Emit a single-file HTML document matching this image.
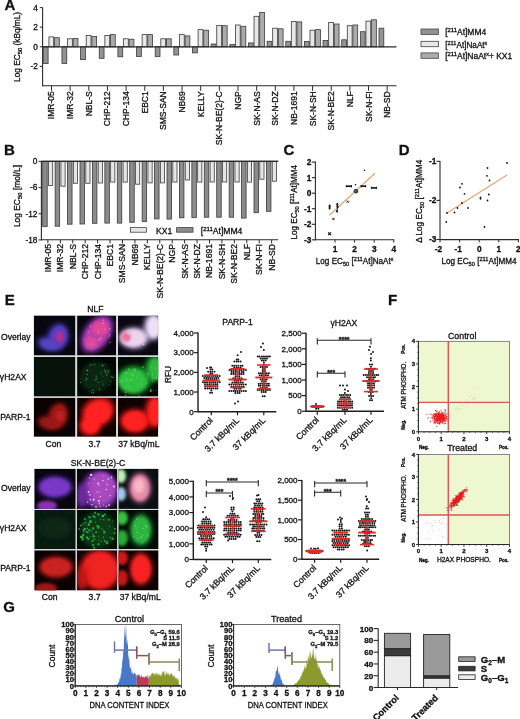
<!DOCTYPE html>
<html><head><meta charset="utf-8"><style>
html,body{margin:0;padding:0;background:#fff;width:520px;height:719px;overflow:hidden}
svg{display:block;font-family:"Liberation Sans", sans-serif;will-change:transform}
text{stroke:#111;stroke-width:0.3px}
</style></head><body>
<svg width="520" height="719" viewBox="0 0 520 719">
<defs><filter id="b1" x="-50%" y="-50%" width="200%" height="200%"><feGaussianBlur stdDeviation="1.6"/></filter><filter id="b2" x="-50%" y="-50%" width="200%" height="200%"><feGaussianBlur stdDeviation="2.8"/></filter><filter id="b0" x="-50%" y="-50%" width="200%" height="200%"><feGaussianBlur stdDeviation="0.6"/></filter><clipPath id="c1"><rect x="33.80" y="315.50" width="41.60" height="40.00"/></clipPath><clipPath id="c2"><rect x="77.10" y="315.50" width="39.10" height="40.00"/></clipPath><clipPath id="c3"><rect x="117.90" y="315.50" width="40.30" height="40.00"/></clipPath><clipPath id="c4"><rect x="33.80" y="357.00" width="41.60" height="39.60"/></clipPath><clipPath id="c5"><rect x="77.10" y="357.00" width="39.10" height="39.60"/></clipPath><clipPath id="c6"><rect x="117.90" y="357.00" width="40.30" height="39.60"/></clipPath><clipPath id="c7"><rect x="33.80" y="397.80" width="41.60" height="39.00"/></clipPath><clipPath id="c8"><rect x="77.10" y="397.80" width="39.10" height="39.00"/></clipPath><clipPath id="c9"><rect x="117.90" y="397.80" width="40.30" height="39.00"/></clipPath><clipPath id="c10"><rect x="34.30" y="468.80" width="41.40" height="40.10"/></clipPath><clipPath id="c11"><rect x="76.90" y="468.80" width="40.30" height="40.10"/></clipPath><clipPath id="c12"><rect x="118.40" y="468.80" width="40.10" height="40.10"/></clipPath><clipPath id="c13"><rect x="34.30" y="510.00" width="41.40" height="39.10"/></clipPath><clipPath id="c14"><rect x="76.90" y="510.00" width="40.30" height="39.10"/></clipPath><clipPath id="c15"><rect x="118.40" y="510.00" width="40.10" height="39.10"/></clipPath><clipPath id="c16"><rect x="34.30" y="550.30" width="41.40" height="40.10"/></clipPath><clipPath id="c17"><rect x="76.90" y="550.30" width="40.30" height="40.10"/></clipPath><clipPath id="c18"><rect x="118.40" y="550.30" width="40.10" height="40.10"/></clipPath></defs>
<rect width="520" height="719" fill="#fff"/>
<text x="4.60" y="10.00" font-size="15" text-anchor="start" font-weight="bold" fill="#111" >A</text>
<line x1="42.60" y1="7.40" x2="42.60" y2="86.20" stroke="#2a2a2a" stroke-width="1.1" />
<line x1="42.00" y1="85.80" x2="396.50" y2="85.80" stroke="#2a2a2a" stroke-width="1.1" />
<line x1="39.80" y1="7.60" x2="42.60" y2="7.60" stroke="#2a2a2a" stroke-width="1.0" />
<text x="37.80" y="10.50" font-size="8.3" text-anchor="end" font-weight="normal" fill="#111" >4</text>
<line x1="39.80" y1="27.20" x2="42.60" y2="27.20" stroke="#2a2a2a" stroke-width="1.0" />
<text x="37.80" y="30.10" font-size="8.3" text-anchor="end" font-weight="normal" fill="#111" >2</text>
<line x1="39.80" y1="46.80" x2="42.60" y2="46.80" stroke="#2a2a2a" stroke-width="1.0" />
<text x="37.80" y="49.70" font-size="8.3" text-anchor="end" font-weight="normal" fill="#111" >0</text>
<line x1="39.80" y1="66.40" x2="42.60" y2="66.40" stroke="#2a2a2a" stroke-width="1.0" />
<text x="37.80" y="69.30" font-size="8.3" text-anchor="end" font-weight="normal" fill="#111" >-2</text>
<text x="19.80" y="46.90" font-size="8.4" text-anchor="middle" font-weight="normal" fill="#111" transform="rotate(-90 19.80 46.90)"  textLength="70" lengthAdjust="spacingAndGlyphs">Log EC<tspan font-size="6" dy="2">50</tspan><tspan dy="-2"> (kBq/mL)</tspan></text>
<rect x="43.30" y="46.80" width="4.80" height="16.70" fill="#939393" stroke="#3a3a3a" stroke-width="0.8" />
<rect x="48.90" y="36.90" width="4.80" height="9.90" fill="#e8e8e8" stroke="#3a3a3a" stroke-width="0.8" />
<rect x="54.50" y="37.70" width="4.80" height="9.10" fill="#ababab" stroke="#3a3a3a" stroke-width="0.8" />
<line x1="51.50" y1="85.80" x2="51.50" y2="90.80" stroke="#2a2a2a" stroke-width="1.0" />
<text x="54.50" y="91.30" font-size="8.5" text-anchor="end" font-weight="normal" fill="#111" transform="rotate(-90 54.50 91.30)" >IMR-05</text>
<rect x="61.95" y="46.80" width="4.80" height="16.70" fill="#939393" stroke="#3a3a3a" stroke-width="0.8" />
<rect x="67.55" y="38.80" width="4.80" height="8.00" fill="#e8e8e8" stroke="#3a3a3a" stroke-width="0.8" />
<rect x="73.15" y="38.40" width="4.80" height="8.40" fill="#ababab" stroke="#3a3a3a" stroke-width="0.8" />
<line x1="70.15" y1="85.80" x2="70.15" y2="90.80" stroke="#2a2a2a" stroke-width="1.0" />
<text x="73.15" y="91.30" font-size="8.5" text-anchor="end" font-weight="normal" fill="#111" transform="rotate(-90 73.15 91.30)" >IMR-32</text>
<rect x="80.60" y="46.80" width="4.80" height="12.80" fill="#939393" stroke="#3a3a3a" stroke-width="0.8" />
<rect x="86.20" y="35.40" width="4.80" height="11.40" fill="#e8e8e8" stroke="#3a3a3a" stroke-width="0.8" />
<rect x="91.80" y="36.50" width="4.80" height="10.30" fill="#ababab" stroke="#3a3a3a" stroke-width="0.8" />
<line x1="88.80" y1="85.80" x2="88.80" y2="90.80" stroke="#2a2a2a" stroke-width="1.0" />
<text x="91.80" y="91.30" font-size="8.5" text-anchor="end" font-weight="normal" fill="#111" transform="rotate(-90 91.80 91.30)" >NBL-S</text>
<rect x="99.25" y="46.80" width="4.80" height="11.50" fill="#939393" stroke="#3a3a3a" stroke-width="0.8" />
<rect x="104.85" y="35.40" width="4.80" height="11.40" fill="#e8e8e8" stroke="#3a3a3a" stroke-width="0.8" />
<rect x="110.45" y="34.60" width="4.80" height="12.20" fill="#ababab" stroke="#3a3a3a" stroke-width="0.8" />
<line x1="107.45" y1="85.80" x2="107.45" y2="90.80" stroke="#2a2a2a" stroke-width="1.0" />
<text x="110.45" y="91.30" font-size="8.5" text-anchor="end" font-weight="normal" fill="#111" transform="rotate(-90 110.45 91.30)" >CHP-212</text>
<rect x="117.90" y="46.80" width="4.80" height="10.00" fill="#939393" stroke="#3a3a3a" stroke-width="0.8" />
<rect x="123.50" y="38.80" width="4.80" height="8.00" fill="#e8e8e8" stroke="#3a3a3a" stroke-width="0.8" />
<rect x="129.10" y="39.20" width="4.80" height="7.60" fill="#ababab" stroke="#3a3a3a" stroke-width="0.8" />
<line x1="126.10" y1="85.80" x2="126.10" y2="90.80" stroke="#2a2a2a" stroke-width="1.0" />
<text x="129.10" y="91.30" font-size="8.5" text-anchor="end" font-weight="normal" fill="#111" transform="rotate(-90 129.10 91.30)" >CHP-134</text>
<rect x="136.55" y="46.80" width="4.80" height="9.60" fill="#939393" stroke="#3a3a3a" stroke-width="0.8" />
<rect x="142.15" y="34.60" width="4.80" height="12.20" fill="#e8e8e8" stroke="#3a3a3a" stroke-width="0.8" />
<rect x="147.75" y="34.60" width="4.80" height="12.20" fill="#ababab" stroke="#3a3a3a" stroke-width="0.8" />
<line x1="144.75" y1="85.80" x2="144.75" y2="90.80" stroke="#2a2a2a" stroke-width="1.0" />
<text x="147.75" y="91.30" font-size="8.5" text-anchor="end" font-weight="normal" fill="#111" transform="rotate(-90 147.75 91.30)" >EBC1</text>
<rect x="155.20" y="46.80" width="4.80" height="9.60" fill="#939393" stroke="#3a3a3a" stroke-width="0.8" />
<rect x="160.80" y="38.80" width="4.80" height="8.00" fill="#e8e8e8" stroke="#3a3a3a" stroke-width="0.8" />
<rect x="166.40" y="38.80" width="4.80" height="8.00" fill="#ababab" stroke="#3a3a3a" stroke-width="0.8" />
<line x1="163.40" y1="85.80" x2="163.40" y2="90.80" stroke="#2a2a2a" stroke-width="1.0" />
<text x="166.40" y="91.30" font-size="8.5" text-anchor="end" font-weight="normal" fill="#111" transform="rotate(-90 166.40 91.30)" >SMS-SAN</text>
<rect x="173.85" y="46.80" width="4.80" height="8.20" fill="#939393" stroke="#3a3a3a" stroke-width="0.8" />
<rect x="179.45" y="34.60" width="4.80" height="12.20" fill="#e8e8e8" stroke="#3a3a3a" stroke-width="0.8" />
<rect x="185.05" y="35.90" width="4.80" height="10.90" fill="#ababab" stroke="#3a3a3a" stroke-width="0.8" />
<line x1="182.05" y1="85.80" x2="182.05" y2="90.80" stroke="#2a2a2a" stroke-width="1.0" />
<text x="185.05" y="91.30" font-size="8.5" text-anchor="end" font-weight="normal" fill="#111" transform="rotate(-90 185.05 91.30)" >NB69</text>
<rect x="192.50" y="46.80" width="4.80" height="6.10" fill="#939393" stroke="#3a3a3a" stroke-width="0.8" />
<rect x="198.10" y="29.60" width="4.80" height="17.20" fill="#e8e8e8" stroke="#3a3a3a" stroke-width="0.8" />
<rect x="203.70" y="30.20" width="4.80" height="16.60" fill="#ababab" stroke="#3a3a3a" stroke-width="0.8" />
<line x1="200.70" y1="85.80" x2="200.70" y2="90.80" stroke="#2a2a2a" stroke-width="1.0" />
<text x="203.70" y="91.30" font-size="8.5" text-anchor="end" font-weight="normal" fill="#111" transform="rotate(-90 203.70 91.30)" >KELLY</text>
<rect x="211.15" y="44.00" width="4.80" height="2.80" fill="#939393" stroke="#3a3a3a" stroke-width="0.8" />
<rect x="216.75" y="25.40" width="4.80" height="21.40" fill="#e8e8e8" stroke="#3a3a3a" stroke-width="0.8" />
<rect x="222.35" y="25.70" width="4.80" height="21.10" fill="#ababab" stroke="#3a3a3a" stroke-width="0.8" />
<line x1="219.35" y1="85.80" x2="219.35" y2="90.80" stroke="#2a2a2a" stroke-width="1.0" />
<text x="222.35" y="91.30" font-size="8.5" text-anchor="end" font-weight="normal" fill="#111" transform="rotate(-90 222.35 91.30)" >SK-N-BE(2)-C</text>
<rect x="229.80" y="44.60" width="4.80" height="2.20" fill="#939393" stroke="#3a3a3a" stroke-width="0.8" />
<rect x="235.40" y="25.00" width="4.80" height="21.80" fill="#e8e8e8" stroke="#3a3a3a" stroke-width="0.8" />
<rect x="241.00" y="26.30" width="4.80" height="20.50" fill="#ababab" stroke="#3a3a3a" stroke-width="0.8" />
<line x1="238.00" y1="85.80" x2="238.00" y2="90.80" stroke="#2a2a2a" stroke-width="1.0" />
<text x="241.00" y="91.30" font-size="8.5" text-anchor="end" font-weight="normal" fill="#111" transform="rotate(-90 241.00 91.30)" >NGP</text>
<rect x="248.45" y="42.90" width="4.80" height="3.90" fill="#939393" stroke="#3a3a3a" stroke-width="0.8" />
<rect x="254.05" y="16.30" width="4.80" height="30.50" fill="#e8e8e8" stroke="#3a3a3a" stroke-width="0.8" />
<rect x="259.65" y="12.50" width="4.80" height="34.30" fill="#ababab" stroke="#3a3a3a" stroke-width="0.8" />
<line x1="256.65" y1="85.80" x2="256.65" y2="90.80" stroke="#2a2a2a" stroke-width="1.0" />
<text x="259.65" y="91.30" font-size="8.5" text-anchor="end" font-weight="normal" fill="#111" transform="rotate(-90 259.65 91.30)" >SK-N-AS</text>
<rect x="267.10" y="41.30" width="4.80" height="5.50" fill="#939393" stroke="#3a3a3a" stroke-width="0.8" />
<rect x="272.70" y="28.20" width="4.80" height="18.60" fill="#e8e8e8" stroke="#3a3a3a" stroke-width="0.8" />
<rect x="278.30" y="28.80" width="4.80" height="18.00" fill="#ababab" stroke="#3a3a3a" stroke-width="0.8" />
<line x1="275.30" y1="85.80" x2="275.30" y2="90.80" stroke="#2a2a2a" stroke-width="1.0" />
<text x="278.30" y="91.30" font-size="8.5" text-anchor="end" font-weight="normal" fill="#111" transform="rotate(-90 278.30 91.30)" >SK-N-DZ</text>
<rect x="285.75" y="41.30" width="4.80" height="5.50" fill="#939393" stroke="#3a3a3a" stroke-width="0.8" />
<rect x="291.35" y="21.50" width="4.80" height="25.30" fill="#e8e8e8" stroke="#3a3a3a" stroke-width="0.8" />
<rect x="296.95" y="21.90" width="4.80" height="24.90" fill="#ababab" stroke="#3a3a3a" stroke-width="0.8" />
<line x1="293.95" y1="85.80" x2="293.95" y2="90.80" stroke="#2a2a2a" stroke-width="1.0" />
<text x="296.95" y="91.30" font-size="8.5" text-anchor="end" font-weight="normal" fill="#111" transform="rotate(-90 296.95 91.30)" >NB-1691</text>
<rect x="304.40" y="41.40" width="4.80" height="5.40" fill="#939393" stroke="#3a3a3a" stroke-width="0.8" />
<rect x="310.00" y="30.20" width="4.80" height="16.60" fill="#e8e8e8" stroke="#3a3a3a" stroke-width="0.8" />
<rect x="315.60" y="29.60" width="4.80" height="17.20" fill="#ababab" stroke="#3a3a3a" stroke-width="0.8" />
<line x1="312.60" y1="85.80" x2="312.60" y2="90.80" stroke="#2a2a2a" stroke-width="1.0" />
<text x="315.60" y="91.30" font-size="8.5" text-anchor="end" font-weight="normal" fill="#111" transform="rotate(-90 315.60 91.30)" >SK-N-SH</text>
<rect x="323.05" y="40.40" width="4.80" height="6.40" fill="#939393" stroke="#3a3a3a" stroke-width="0.8" />
<rect x="328.65" y="22.40" width="4.80" height="24.40" fill="#e8e8e8" stroke="#3a3a3a" stroke-width="0.8" />
<rect x="334.25" y="24.00" width="4.80" height="22.80" fill="#ababab" stroke="#3a3a3a" stroke-width="0.8" />
<line x1="331.25" y1="85.80" x2="331.25" y2="90.80" stroke="#2a2a2a" stroke-width="1.0" />
<text x="334.25" y="91.30" font-size="8.5" text-anchor="end" font-weight="normal" fill="#111" transform="rotate(-90 334.25 91.30)" >SK-N-BE2</text>
<rect x="341.70" y="39.80" width="4.80" height="7.00" fill="#939393" stroke="#3a3a3a" stroke-width="0.8" />
<rect x="347.30" y="25.70" width="4.80" height="21.10" fill="#e8e8e8" stroke="#3a3a3a" stroke-width="0.8" />
<rect x="352.90" y="25.00" width="4.80" height="21.80" fill="#ababab" stroke="#3a3a3a" stroke-width="0.8" />
<line x1="349.90" y1="85.80" x2="349.90" y2="90.80" stroke="#2a2a2a" stroke-width="1.0" />
<text x="352.90" y="91.30" font-size="8.5" text-anchor="end" font-weight="normal" fill="#111" transform="rotate(-90 352.90 91.30)" >NLF</text>
<rect x="360.35" y="31.70" width="4.80" height="15.10" fill="#939393" stroke="#3a3a3a" stroke-width="0.8" />
<rect x="365.95" y="21.10" width="4.80" height="25.70" fill="#e8e8e8" stroke="#3a3a3a" stroke-width="0.8" />
<rect x="371.55" y="19.80" width="4.80" height="27.00" fill="#ababab" stroke="#3a3a3a" stroke-width="0.8" />
<line x1="368.55" y1="85.80" x2="368.55" y2="90.80" stroke="#2a2a2a" stroke-width="1.0" />
<text x="371.55" y="91.30" font-size="8.5" text-anchor="end" font-weight="normal" fill="#111" transform="rotate(-90 371.55 91.30)" >SK-N-FI</text>
<rect x="379.00" y="28.20" width="4.80" height="18.60" fill="#939393" stroke="#3a3a3a" stroke-width="0.8" />
<line x1="387.20" y1="85.80" x2="387.20" y2="90.80" stroke="#2a2a2a" stroke-width="1.0" />
<text x="390.20" y="91.30" font-size="8.5" text-anchor="end" font-weight="normal" fill="#111" transform="rotate(-90 390.20 91.30)" >NB-SD</text>
<line x1="42.60" y1="46.80" x2="396.50" y2="46.80" stroke="#2a2a2a" stroke-width="1.3" />
<rect x="421.00" y="29.00" width="17.40" height="5.40" fill="#939393" stroke="#444" stroke-width="0.8" />
<text x="445.20" y="35.30" font-size="8.6" text-anchor="start" font-weight="normal" fill="#111"  textLength="41" lengthAdjust="spacingAndGlyphs">[<tspan font-size="6" dy="-3">211</tspan><tspan dy="3">At]MM4</tspan></text>
<rect x="421.00" y="41.30" width="17.40" height="5.40" fill="#e8e8e8" stroke="#444" stroke-width="0.8" />
<text x="445.20" y="47.60" font-size="8.6" text-anchor="start" font-weight="normal" fill="#111"  textLength="42" lengthAdjust="spacingAndGlyphs">[<tspan font-size="6" dy="-3">211</tspan><tspan dy="3">At]NaAt</tspan><tspan font-size="5.5" dy="-3">x</tspan></text>
<rect x="421.00" y="52.90" width="17.40" height="5.40" fill="#ababab" stroke="#444" stroke-width="0.8" />
<text x="445.20" y="59.20" font-size="8.6" text-anchor="start" font-weight="normal" fill="#111"  textLength="67" lengthAdjust="spacingAndGlyphs">[<tspan font-size="6" dy="-3">211</tspan><tspan dy="3">At]NaAt</tspan><tspan font-size="5.5" dy="-3">x</tspan><tspan dy="3">+ KX1</tspan></text>
<text x="4.00" y="154.80" font-size="15" text-anchor="start" font-weight="bold" fill="#111" >B</text>
<line x1="41.40" y1="161.00" x2="41.40" y2="240.20" stroke="#2a2a2a" stroke-width="1.1" />
<line x1="41.40" y1="161.40" x2="278.20" y2="161.40" stroke="#2a2a2a" stroke-width="1.2" />
<line x1="41.00" y1="239.80" x2="278.20" y2="239.80" stroke="#2a2a2a" stroke-width="1.1" />
<line x1="38.60" y1="161.40" x2="41.40" y2="161.40" stroke="#2a2a2a" stroke-width="1.0" />
<text x="37.40" y="164.30" font-size="8.3" text-anchor="end" font-weight="normal" fill="#111" >0</text>
<line x1="38.60" y1="187.57" x2="41.40" y2="187.57" stroke="#2a2a2a" stroke-width="1.0" />
<text x="37.40" y="190.47" font-size="8.3" text-anchor="end" font-weight="normal" fill="#111" >-6</text>
<line x1="38.60" y1="213.73" x2="41.40" y2="213.73" stroke="#2a2a2a" stroke-width="1.0" />
<text x="37.40" y="216.63" font-size="8.3" text-anchor="end" font-weight="normal" fill="#111" >-12</text>
<line x1="38.60" y1="239.90" x2="41.40" y2="239.90" stroke="#2a2a2a" stroke-width="1.0" />
<text x="37.40" y="242.80" font-size="8.3" text-anchor="end" font-weight="normal" fill="#111" >-18</text>
<text x="20.30" y="196.00" font-size="8.4" text-anchor="middle" font-weight="normal" fill="#111" transform="rotate(-90 20.30 196.00)" >Log EC<tspan font-size="6" dy="2">50</tspan><tspan dy="-2"> [mol/L]</tspan></text>
<rect x="42.70" y="161.40" width="4.50" height="65.10" fill="#8c8c8c" stroke="#3a3a3a" stroke-width="0.8" />
<rect x="48.50" y="161.40" width="4.20" height="24.20" fill="#e6e6e6" stroke="#3a3a3a" stroke-width="0.8" />
<line x1="47.90" y1="239.80" x2="47.90" y2="243.40" stroke="#2a2a2a" stroke-width="1.0" />
<text x="50.90" y="244.00" font-size="8.6" text-anchor="end" font-weight="normal" fill="#111" transform="rotate(-90 50.90 244.00)" >IMR-05</text>
<rect x="55.13" y="161.40" width="4.50" height="64.80" fill="#8c8c8c" stroke="#3a3a3a" stroke-width="0.8" />
<rect x="60.93" y="161.40" width="4.20" height="24.80" fill="#e6e6e6" stroke="#3a3a3a" stroke-width="0.8" />
<line x1="60.33" y1="239.80" x2="60.33" y2="243.40" stroke="#2a2a2a" stroke-width="1.0" />
<text x="63.33" y="244.00" font-size="8.6" text-anchor="end" font-weight="normal" fill="#111" transform="rotate(-90 63.33 244.00)" >IMR-32</text>
<rect x="67.56" y="161.40" width="4.50" height="62.80" fill="#8c8c8c" stroke="#3a3a3a" stroke-width="0.8" />
<rect x="73.36" y="161.40" width="4.20" height="21.90" fill="#e6e6e6" stroke="#3a3a3a" stroke-width="0.8" />
<line x1="72.76" y1="239.80" x2="72.76" y2="243.40" stroke="#2a2a2a" stroke-width="1.0" />
<text x="75.76" y="244.00" font-size="8.6" text-anchor="end" font-weight="normal" fill="#111" transform="rotate(-90 75.76 244.00)" >NBL-S</text>
<rect x="79.99" y="161.40" width="4.50" height="62.60" fill="#8c8c8c" stroke="#3a3a3a" stroke-width="0.8" />
<rect x="85.79" y="161.40" width="4.20" height="21.90" fill="#e6e6e6" stroke="#3a3a3a" stroke-width="0.8" />
<line x1="85.19" y1="239.80" x2="85.19" y2="243.40" stroke="#2a2a2a" stroke-width="1.0" />
<text x="88.19" y="244.00" font-size="8.6" text-anchor="end" font-weight="normal" fill="#111" transform="rotate(-90 88.19 244.00)" >CHP-212</text>
<rect x="92.42" y="161.40" width="4.50" height="61.90" fill="#8c8c8c" stroke="#3a3a3a" stroke-width="0.8" />
<rect x="98.22" y="161.40" width="4.20" height="21.60" fill="#e6e6e6" stroke="#3a3a3a" stroke-width="0.8" />
<line x1="97.62" y1="239.80" x2="97.62" y2="243.40" stroke="#2a2a2a" stroke-width="1.0" />
<text x="100.62" y="244.00" font-size="8.6" text-anchor="end" font-weight="normal" fill="#111" transform="rotate(-90 100.62 244.00)" >CHP-134</text>
<rect x="104.85" y="161.40" width="4.50" height="61.70" fill="#8c8c8c" stroke="#3a3a3a" stroke-width="0.8" />
<rect x="110.65" y="161.40" width="4.20" height="20.70" fill="#e6e6e6" stroke="#3a3a3a" stroke-width="0.8" />
<line x1="110.05" y1="239.80" x2="110.05" y2="243.40" stroke="#2a2a2a" stroke-width="1.0" />
<text x="113.05" y="244.00" font-size="8.6" text-anchor="end" font-weight="normal" fill="#111" transform="rotate(-90 113.05 244.00)" >EBC1</text>
<rect x="117.28" y="161.40" width="4.50" height="61.70" fill="#8c8c8c" stroke="#3a3a3a" stroke-width="0.8" />
<rect x="123.08" y="161.40" width="4.20" height="20.70" fill="#e6e6e6" stroke="#3a3a3a" stroke-width="0.8" />
<line x1="122.48" y1="239.80" x2="122.48" y2="243.40" stroke="#2a2a2a" stroke-width="1.0" />
<text x="125.48" y="244.00" font-size="8.6" text-anchor="end" font-weight="normal" fill="#111" transform="rotate(-90 125.48 244.00)" >SMS-SAN</text>
<rect x="129.71" y="161.40" width="4.50" height="60.90" fill="#8c8c8c" stroke="#3a3a3a" stroke-width="0.8" />
<rect x="135.51" y="161.40" width="4.20" height="22.80" fill="#e6e6e6" stroke="#3a3a3a" stroke-width="0.8" />
<line x1="134.91" y1="239.80" x2="134.91" y2="243.40" stroke="#2a2a2a" stroke-width="1.0" />
<text x="137.91" y="244.00" font-size="8.6" text-anchor="end" font-weight="normal" fill="#111" transform="rotate(-90 137.91 244.00)" >NB69</text>
<rect x="142.14" y="161.40" width="4.50" height="60.20" fill="#8c8c8c" stroke="#3a3a3a" stroke-width="0.8" />
<rect x="147.94" y="161.40" width="4.20" height="21.50" fill="#e6e6e6" stroke="#3a3a3a" stroke-width="0.8" />
<line x1="147.34" y1="239.80" x2="147.34" y2="243.40" stroke="#2a2a2a" stroke-width="1.0" />
<text x="150.34" y="244.00" font-size="8.6" text-anchor="end" font-weight="normal" fill="#111" transform="rotate(-90 150.34 244.00)" >KELLY</text>
<rect x="154.57" y="161.40" width="4.50" height="57.50" fill="#8c8c8c" stroke="#3a3a3a" stroke-width="0.8" />
<rect x="160.37" y="161.40" width="4.20" height="21.50" fill="#e6e6e6" stroke="#3a3a3a" stroke-width="0.8" />
<line x1="159.77" y1="239.80" x2="159.77" y2="243.40" stroke="#2a2a2a" stroke-width="1.0" />
<text x="162.77" y="244.00" font-size="8.6" text-anchor="end" font-weight="normal" fill="#111" transform="rotate(-90 162.77 244.00)" >SK-N-BE(2)-C</text>
<rect x="167.00" y="161.40" width="4.50" height="57.70" fill="#8c8c8c" stroke="#3a3a3a" stroke-width="0.8" />
<rect x="172.80" y="161.40" width="4.20" height="20.70" fill="#e6e6e6" stroke="#3a3a3a" stroke-width="0.8" />
<line x1="172.20" y1="239.80" x2="172.20" y2="243.40" stroke="#2a2a2a" stroke-width="1.0" />
<text x="175.20" y="244.00" font-size="8.6" text-anchor="end" font-weight="normal" fill="#111" transform="rotate(-90 175.20 244.00)" >NGP</text>
<rect x="179.43" y="161.40" width="4.50" height="56.40" fill="#8c8c8c" stroke="#3a3a3a" stroke-width="0.8" />
<rect x="185.23" y="161.40" width="4.20" height="18.60" fill="#e6e6e6" stroke="#3a3a3a" stroke-width="0.8" />
<line x1="184.63" y1="239.80" x2="184.63" y2="243.40" stroke="#2a2a2a" stroke-width="1.0" />
<text x="187.63" y="244.00" font-size="8.6" text-anchor="end" font-weight="normal" fill="#111" transform="rotate(-90 187.63 244.00)" >SK-N-AS</text>
<rect x="191.86" y="161.40" width="4.50" height="56.20" fill="#8c8c8c" stroke="#3a3a3a" stroke-width="0.8" />
<rect x="197.66" y="161.40" width="4.20" height="20.70" fill="#e6e6e6" stroke="#3a3a3a" stroke-width="0.8" />
<line x1="197.06" y1="239.80" x2="197.06" y2="243.40" stroke="#2a2a2a" stroke-width="1.0" />
<text x="200.06" y="244.00" font-size="8.6" text-anchor="end" font-weight="normal" fill="#111" transform="rotate(-90 200.06 244.00)" >SK-N-DZ</text>
<rect x="204.29" y="161.40" width="4.50" height="55.80" fill="#8c8c8c" stroke="#3a3a3a" stroke-width="0.8" />
<rect x="210.09" y="161.40" width="4.20" height="20.60" fill="#e6e6e6" stroke="#3a3a3a" stroke-width="0.8" />
<line x1="209.49" y1="239.80" x2="209.49" y2="243.40" stroke="#2a2a2a" stroke-width="1.0" />
<text x="212.49" y="244.00" font-size="8.6" text-anchor="end" font-weight="normal" fill="#111" transform="rotate(-90 212.49 244.00)" >NB-1691</text>
<rect x="216.72" y="161.40" width="4.50" height="55.80" fill="#8c8c8c" stroke="#3a3a3a" stroke-width="0.8" />
<rect x="222.52" y="161.40" width="4.20" height="20.60" fill="#e6e6e6" stroke="#3a3a3a" stroke-width="0.8" />
<line x1="221.92" y1="239.80" x2="221.92" y2="243.40" stroke="#2a2a2a" stroke-width="1.0" />
<text x="224.92" y="244.00" font-size="8.6" text-anchor="end" font-weight="normal" fill="#111" transform="rotate(-90 224.92 244.00)" >SK-N-SH</text>
<rect x="229.15" y="161.40" width="4.50" height="55.80" fill="#8c8c8c" stroke="#3a3a3a" stroke-width="0.8" />
<rect x="234.95" y="161.40" width="4.20" height="20.60" fill="#e6e6e6" stroke="#3a3a3a" stroke-width="0.8" />
<line x1="234.35" y1="239.80" x2="234.35" y2="243.40" stroke="#2a2a2a" stroke-width="1.0" />
<text x="237.35" y="244.00" font-size="8.6" text-anchor="end" font-weight="normal" fill="#111" transform="rotate(-90 237.35 244.00)" >SK-N-BE2</text>
<rect x="241.58" y="161.40" width="4.50" height="56.70" fill="#8c8c8c" stroke="#3a3a3a" stroke-width="0.8" />
<rect x="247.38" y="161.40" width="4.20" height="20.70" fill="#e6e6e6" stroke="#3a3a3a" stroke-width="0.8" />
<line x1="246.78" y1="239.80" x2="246.78" y2="243.40" stroke="#2a2a2a" stroke-width="1.0" />
<text x="249.78" y="244.00" font-size="8.6" text-anchor="end" font-weight="normal" fill="#111" transform="rotate(-90 249.78 244.00)" >NLF</text>
<rect x="254.01" y="161.40" width="4.50" height="51.30" fill="#8c8c8c" stroke="#3a3a3a" stroke-width="0.8" />
<rect x="259.81" y="161.40" width="4.20" height="17.80" fill="#e6e6e6" stroke="#3a3a3a" stroke-width="0.8" />
<line x1="259.21" y1="239.80" x2="259.21" y2="243.40" stroke="#2a2a2a" stroke-width="1.0" />
<text x="262.21" y="244.00" font-size="8.6" text-anchor="end" font-weight="normal" fill="#111" transform="rotate(-90 262.21 244.00)" >SK-N-FI</text>
<rect x="266.44" y="161.40" width="4.50" height="49.90" fill="#8c8c8c" stroke="#3a3a3a" stroke-width="0.8" />
<rect x="272.24" y="161.40" width="4.20" height="19.80" fill="#e6e6e6" stroke="#3a3a3a" stroke-width="0.8" />
<line x1="271.64" y1="239.80" x2="271.64" y2="243.40" stroke="#2a2a2a" stroke-width="1.0" />
<text x="274.64" y="244.00" font-size="8.6" text-anchor="end" font-weight="normal" fill="#111" transform="rotate(-90 274.64 244.00)" >NB-SD</text>
<line x1="41.40" y1="161.40" x2="278.20" y2="161.40" stroke="#2a2a2a" stroke-width="1.2" />
<rect x="130.50" y="227.60" width="16.00" height="4.60" fill="#e6e6e6" stroke="#444" stroke-width="0.8" />
<text x="156.00" y="233.60" font-size="8.6" text-anchor="start" font-weight="normal" fill="#111" >KX1</text>
<rect x="176.60" y="227.60" width="16.40" height="4.60" fill="#8c8c8c" stroke="#444" stroke-width="0.8" />
<text x="200.80" y="233.60" font-size="8.6" text-anchor="start" font-weight="normal" fill="#111" >[<tspan font-size="6" dy="-3">211</tspan><tspan dy="3">At]MM4</tspan></text>
<text x="283.60" y="154.80" font-size="15" text-anchor="start" font-weight="bold" fill="#111" >C</text>
<line x1="315.40" y1="161.50" x2="315.40" y2="240.20" stroke="#2a2a2a" stroke-width="1.1" />
<line x1="314.90" y1="239.80" x2="394.20" y2="239.80" stroke="#2a2a2a" stroke-width="1.1" />
<line x1="311.80" y1="162.10" x2="315.40" y2="162.10" stroke="#2a2a2a" stroke-width="1.1" />
<text x="311.40" y="165.00" font-size="8.3" text-anchor="end" font-weight="bold" fill="#111" >2</text>
<line x1="311.80" y1="177.65" x2="315.40" y2="177.65" stroke="#2a2a2a" stroke-width="1.1" />
<text x="311.40" y="180.55" font-size="8.3" text-anchor="end" font-weight="bold" fill="#111" >1</text>
<line x1="311.80" y1="193.20" x2="315.40" y2="193.20" stroke="#2a2a2a" stroke-width="1.1" />
<text x="311.40" y="196.10" font-size="8.3" text-anchor="end" font-weight="bold" fill="#111" >0</text>
<line x1="311.80" y1="208.75" x2="315.40" y2="208.75" stroke="#2a2a2a" stroke-width="1.1" />
<text x="311.40" y="211.65" font-size="8.3" text-anchor="end" font-weight="bold" fill="#111" >-1</text>
<line x1="311.80" y1="224.30" x2="315.40" y2="224.30" stroke="#2a2a2a" stroke-width="1.1" />
<text x="311.40" y="227.20" font-size="8.3" text-anchor="end" font-weight="bold" fill="#111" >-2</text>
<line x1="311.80" y1="239.85" x2="315.40" y2="239.85" stroke="#2a2a2a" stroke-width="1.1" />
<text x="311.40" y="242.75" font-size="8.3" text-anchor="end" font-weight="bold" fill="#111" >-3</text>
<line x1="335.00" y1="239.80" x2="335.00" y2="242.60" stroke="#2a2a2a" stroke-width="1.0" />
<text x="335.00" y="251.80" font-size="8.3" text-anchor="middle" font-weight="bold" fill="#111" >1</text>
<line x1="354.60" y1="239.80" x2="354.60" y2="242.60" stroke="#2a2a2a" stroke-width="1.0" />
<text x="354.60" y="251.80" font-size="8.3" text-anchor="middle" font-weight="bold" fill="#111" >2</text>
<line x1="374.20" y1="239.80" x2="374.20" y2="242.60" stroke="#2a2a2a" stroke-width="1.0" />
<text x="374.20" y="251.80" font-size="8.3" text-anchor="middle" font-weight="bold" fill="#111" >3</text>
<line x1="393.80" y1="239.80" x2="393.80" y2="242.60" stroke="#2a2a2a" stroke-width="1.0" />
<text x="393.80" y="251.80" font-size="8.3" text-anchor="middle" font-weight="bold" fill="#111" >4</text>
<text x="354.60" y="263.60" font-size="8.6" text-anchor="middle" font-weight="normal" fill="#111"  textLength="77.5" lengthAdjust="spacingAndGlyphs">Log EC<tspan font-size="6" dy="2">50</tspan><tspan dy="-2"> [</tspan><tspan font-size="6" dy="-3">211</tspan><tspan dy="3">At]NaAt</tspan><tspan font-size="5.5" dy="-3">x</tspan></text>
<text x="296.80" y="202.20" font-size="8.6" text-anchor="middle" font-weight="normal" fill="#111" transform="rotate(-90 296.80 202.20)"  textLength="74.5" lengthAdjust="spacingAndGlyphs">Log EC<tspan font-size="6" dy="2">50</tspan><tspan dy="-2"> [</tspan><tspan font-size="6" dy="-3">211</tspan><tspan dy="3">At]MM4</tspan></text>
<line x1="329.40" y1="215.20" x2="374.90" y2="173.20" stroke="#e9a877" stroke-width="1.3" />
<line x1="332.30" y1="217.90" x2="334.50" y2="220.10" stroke="#111" stroke-width="0.9" />
<line x1="332.30" y1="220.10" x2="334.50" y2="217.90" stroke="#111" stroke-width="0.9" />
<line x1="346.60" y1="200.60" x2="348.80" y2="202.80" stroke="#111" stroke-width="0.9" />
<line x1="346.60" y1="202.80" x2="348.80" y2="200.60" stroke="#111" stroke-width="0.9" />
<circle cx="355.5" cy="184.8" r="0.8" fill="#111"/>
<circle cx="364.5" cy="170.2" r="0.8" fill="#111"/>
<line x1="329.60" y1="204.60" x2="329.60" y2="209.40" stroke="#111" stroke-width="1.1" />
<circle cx="329.6" cy="206.0" r="1.1" fill="#111"/>
<circle cx="329.6" cy="208.0" r="1.1" fill="#111"/>
<line x1="337.30" y1="202.80" x2="337.30" y2="212.60" stroke="#111" stroke-width="0.9" />
<circle cx="337.3" cy="204.3" r="1.0" fill="#111"/>
<circle cx="336.8" cy="211.2" r="1.0" fill="#111"/>
<circle cx="337.7" cy="207.0" r="1.0" fill="#111"/>
<line x1="336.30" y1="204.60" x2="338.30" y2="206.60" stroke="#111" stroke-width="0.8" />
<line x1="336.30" y1="206.60" x2="338.30" y2="204.60" stroke="#111" stroke-width="0.8" />
<line x1="328.20" y1="232.30" x2="331.00" y2="235.10" stroke="#111" stroke-width="1.2" />
<line x1="328.20" y1="235.10" x2="331.00" y2="232.30" stroke="#111" stroke-width="1.2" />
<line x1="346.30" y1="186.20" x2="351.50" y2="186.20" stroke="#111" stroke-width="1.6" />
<line x1="346.30" y1="185.00" x2="346.30" y2="187.40" stroke="#111" stroke-width="0.9" />
<line x1="351.50" y1="185.00" x2="351.50" y2="187.40" stroke="#111" stroke-width="0.9" />
<line x1="361.00" y1="186.20" x2="365.70" y2="186.20" stroke="#111" stroke-width="1.6" />
<line x1="361.00" y1="185.00" x2="361.00" y2="187.40" stroke="#111" stroke-width="0.9" />
<line x1="365.70" y1="185.00" x2="365.70" y2="187.40" stroke="#111" stroke-width="0.9" />
<line x1="371.40" y1="187.90" x2="376.60" y2="187.90" stroke="#111" stroke-width="1.6" />
<line x1="371.40" y1="186.70" x2="371.40" y2="189.10" stroke="#111" stroke-width="0.9" />
<line x1="376.60" y1="186.70" x2="376.60" y2="189.10" stroke="#111" stroke-width="0.9" />
<circle cx="355.9" cy="191.2" r="1.9" fill="#555" stroke="#222" stroke-width="0.9"/>
<text x="398.80" y="154.80" font-size="15" text-anchor="start" font-weight="bold" fill="#111" >D</text>
<line x1="440.00" y1="161.00" x2="440.00" y2="240.00" stroke="#2a2a2a" stroke-width="1.1" />
<line x1="439.50" y1="239.60" x2="519.00" y2="239.60" stroke="#2a2a2a" stroke-width="1.1" />
<line x1="436.40" y1="161.30" x2="440.00" y2="161.30" stroke="#2a2a2a" stroke-width="1.1" />
<text x="436.40" y="164.20" font-size="8.3" text-anchor="end" font-weight="bold" fill="#111" >-1</text>
<line x1="436.40" y1="200.40" x2="440.00" y2="200.40" stroke="#2a2a2a" stroke-width="1.1" />
<text x="436.40" y="203.30" font-size="8.3" text-anchor="end" font-weight="bold" fill="#111" >-2</text>
<line x1="436.40" y1="239.50" x2="440.00" y2="239.50" stroke="#2a2a2a" stroke-width="1.1" />
<text x="436.40" y="242.40" font-size="8.3" text-anchor="end" font-weight="bold" fill="#111" >-3</text>
<line x1="440.00" y1="239.60" x2="440.00" y2="242.40" stroke="#2a2a2a" stroke-width="1.0" />
<text x="438.50" y="251.80" font-size="8.3" text-anchor="middle" font-weight="bold" fill="#111" >-2</text>
<line x1="459.60" y1="239.60" x2="459.60" y2="242.40" stroke="#2a2a2a" stroke-width="1.0" />
<text x="458.10" y="251.80" font-size="8.3" text-anchor="middle" font-weight="bold" fill="#111" >-1</text>
<line x1="479.20" y1="239.60" x2="479.20" y2="242.40" stroke="#2a2a2a" stroke-width="1.0" />
<text x="479.20" y="251.80" font-size="8.3" text-anchor="middle" font-weight="bold" fill="#111" >0</text>
<line x1="498.80" y1="239.60" x2="498.80" y2="242.40" stroke="#2a2a2a" stroke-width="1.0" />
<text x="498.80" y="251.80" font-size="8.3" text-anchor="middle" font-weight="bold" fill="#111" >1</text>
<line x1="518.40" y1="239.60" x2="518.40" y2="242.40" stroke="#2a2a2a" stroke-width="1.0" />
<text x="518.40" y="251.80" font-size="8.3" text-anchor="middle" font-weight="bold" fill="#111" >2</text>
<text x="479.00" y="263.60" font-size="8.6" text-anchor="middle" font-weight="normal" fill="#111"  textLength="75" lengthAdjust="spacingAndGlyphs">Log EC<tspan font-size="6" dy="2">50</tspan><tspan dy="-2"> [</tspan><tspan font-size="6" dy="-3">211</tspan><tspan dy="3">At]MM4</tspan></text>
<text x="422.20" y="201.30" font-size="8.6" text-anchor="middle" font-weight="normal" fill="#111" transform="rotate(-90 422.20 201.30)"  textLength="83" lengthAdjust="spacingAndGlyphs">Δ Log EC<tspan font-size="6" dy="2">50</tspan><tspan dy="-2"> [</tspan><tspan font-size="6" dy="-3">211</tspan><tspan dy="3">At]MM4</tspan></text>
<line x1="447.00" y1="213.00" x2="507.00" y2="175.00" stroke="#e9a877" stroke-width="1.3" />
<circle cx="507" cy="163" r="0.9" fill="#111"/>
<circle cx="487.5" cy="168" r="0.9" fill="#111"/>
<circle cx="487" cy="175.8" r="0.9" fill="#111"/>
<circle cx="489.5" cy="180.5" r="0.9" fill="#111"/>
<circle cx="462" cy="183.8" r="0.9" fill="#111"/>
<circle cx="460" cy="187.5" r="0.9" fill="#111"/>
<circle cx="464.5" cy="193.8" r="0.9" fill="#111"/>
<circle cx="488.8" cy="194.5" r="0.9" fill="#111"/>
<circle cx="480.5" cy="197.5" r="0.9" fill="#111"/>
<circle cx="480.5" cy="198.8" r="0.9" fill="#111"/>
<circle cx="487.5" cy="200.5" r="0.9" fill="#111"/>
<circle cx="462" cy="203" r="0.9" fill="#111"/>
<circle cx="457.5" cy="208" r="0.9" fill="#111"/>
<circle cx="468" cy="208" r="0.9" fill="#111"/>
<circle cx="454.5" cy="212.5" r="0.9" fill="#111"/>
<circle cx="447" cy="213" r="0.9" fill="#111"/>
<circle cx="446.3" cy="222" r="0.9" fill="#111"/>
<circle cx="484.5" cy="227" r="0.9" fill="#111"/>
<text x="4.80" y="304.90" font-size="15" text-anchor="start" font-weight="bold" fill="#111" >E</text>
<text x="95.40" y="311.80" font-size="8.6" text-anchor="middle" font-weight="normal" fill="#111" >NLF</text>
<text x="98.00" y="465.60" font-size="8.6" text-anchor="middle" font-weight="normal" fill="#111" >SK-N-BE(2)-C</text>
<rect x="33.60" y="315.30" width="124.80" height="121.70" fill="#d8d8d8" stroke="none" stroke-width="0.8" />
<rect x="34.10" y="468.60" width="124.60" height="122.00" fill="#d8d8d8" stroke="none" stroke-width="0.8" />
<g clip-path="url(#c1)"><rect x="33.80" y="315.50" width="41.60" height="40.00" fill="#07070f"/>
<ellipse cx="58" cy="337" rx="10.5" ry="13.5" fill="#4a34b0" opacity="1" filter="url(#b2)" transform="rotate(15 58 337)"/>
<ellipse cx="48" cy="344" rx="11" ry="6.5" fill="#4a3cb8" opacity="1" filter="url(#b2)" transform="rotate(15 48 344)"/>
<ellipse cx="58.5" cy="337" rx="8" ry="11" fill="#5a3cc0" opacity="1" filter="url(#b1)" transform="rotate(15 58.5 337)"/>
<ellipse cx="49" cy="344.5" rx="8" ry="4.5" fill="#5644c0" opacity="1" filter="url(#b1)" transform="rotate(15 49 344.5)"/>
<ellipse cx="60" cy="337" rx="3.8" ry="5" fill="#c02a8a" opacity="1" filter="url(#b1)" transform="rotate(0 60 337)"/>
</g>
<g clip-path="url(#c2)"><rect x="77.10" y="315.50" width="39.10" height="40.00" fill="#08050c"/>
<ellipse cx="97" cy="334" rx="21" ry="13" fill="#8a36b0" opacity="1" filter="url(#b2)" transform="rotate(-55 97 334)"/>
<ellipse cx="97" cy="334" rx="17" ry="10" fill="#c03ca8" opacity="1" filter="url(#b1)" transform="rotate(-55 97 334)"/>
<ellipse cx="100" cy="328" rx="8" ry="7" fill="#e04498" opacity="1" filter="url(#b1)" transform="rotate(0 100 328)"/>
<ellipse cx="91" cy="343" rx="6" ry="6" fill="#d84aa0" opacity="1" filter="url(#b1)" transform="rotate(0 91 343)"/>
<circle cx="89.6" cy="336.5" r="0.45" fill="#ffb0e0" opacity="0.7"/>
<circle cx="101.3" cy="339.3" r="0.33" fill="#ffb0e0" opacity="0.7"/>
<circle cx="90.3" cy="326.0" r="0.70" fill="#ffb0e0" opacity="0.7"/>
<circle cx="97.0" cy="346.4" r="0.49" fill="#ffb0e0" opacity="0.7"/>
<circle cx="102.5" cy="323.1" r="0.55" fill="#ffb0e0" opacity="0.7"/>
<circle cx="109.8" cy="335.8" r="0.60" fill="#ffb0e0" opacity="0.7"/>
<circle cx="103.5" cy="320.2" r="0.60" fill="#ffb0e0" opacity="0.7"/>
<circle cx="100.9" cy="328.2" r="0.31" fill="#ffb0e0" opacity="0.7"/>
<circle cx="109.7" cy="334.1" r="0.59" fill="#ffb0e0" opacity="0.7"/>
<circle cx="110.1" cy="342.3" r="0.67" fill="#ffb0e0" opacity="0.7"/>
<circle cx="94.6" cy="345.2" r="0.48" fill="#ffb0e0" opacity="0.7"/>
<circle cx="96.0" cy="339.3" r="0.42" fill="#ffb0e0" opacity="0.7"/>
<circle cx="98.2" cy="331.1" r="0.44" fill="#ffb0e0" opacity="0.7"/>
<circle cx="100.7" cy="337.9" r="0.66" fill="#ffb0e0" opacity="0.7"/>
<circle cx="103.5" cy="323.5" r="0.64" fill="#ffb0e0" opacity="0.7"/>
<circle cx="100.2" cy="342.3" r="0.38" fill="#ffb0e0" opacity="0.7"/>
<circle cx="108.6" cy="337.5" r="0.41" fill="#ffb0e0" opacity="0.7"/>
<circle cx="107.6" cy="332.0" r="0.36" fill="#ffb0e0" opacity="0.7"/>
<circle cx="91.4" cy="344.1" r="0.65" fill="#ffb0e0" opacity="0.7"/>
<circle cx="83.4" cy="338.9" r="0.32" fill="#ffb0e0" opacity="0.7"/>
<circle cx="105.0" cy="329.3" r="0.65" fill="#ffb0e0" opacity="0.7"/>
<circle cx="84.5" cy="338.4" r="0.31" fill="#ffb0e0" opacity="0.7"/>
<circle cx="88.3" cy="331.9" r="0.54" fill="#ffb0e0" opacity="0.7"/>
<circle cx="109.8" cy="328.7" r="0.68" fill="#ffb0e0" opacity="0.7"/>
<circle cx="110.7" cy="330.8" r="0.48" fill="#ffb0e0" opacity="0.7"/>
<circle cx="98.6" cy="339.9" r="0.54" fill="#ffb0e0" opacity="0.7"/>
<circle cx="99.9" cy="339.1" r="0.68" fill="#ffb0e0" opacity="0.7"/>
<circle cx="98.2" cy="332.7" r="0.59" fill="#ffb0e0" opacity="0.7"/>
</g>
<g clip-path="url(#c3)"><rect x="117.90" y="315.50" width="40.30" height="40.00" fill="#0a0812"/>
<ellipse cx="134" cy="338" rx="15" ry="10.5" fill="#c8b0e0" opacity="1" filter="url(#b2)" transform="rotate(0 134 338)"/>
<ellipse cx="133" cy="338" rx="12" ry="8.5" fill="#ecd4ee" opacity="1" filter="url(#b1)" transform="rotate(0 133 338)"/>
<ellipse cx="126" cy="337" rx="5" ry="5" fill="#f070a0" opacity="1" filter="url(#b1)" transform="rotate(0 126 337)"/>
<ellipse cx="153" cy="327" rx="9" ry="13" fill="#d8c8ec" opacity="1" filter="url(#b2)" transform="rotate(0 153 327)"/>
<ellipse cx="154" cy="327" rx="6" ry="10" fill="#eee0f4" opacity="1" filter="url(#b1)" transform="rotate(0 154 327)"/>
<circle cx="143.7" cy="344.3" r="0.74" fill="#ffffff" opacity="0.8"/>
<circle cx="124.3" cy="338.3" r="0.48" fill="#ffffff" opacity="0.8"/>
<circle cx="140.7" cy="340.6" r="0.37" fill="#ffffff" opacity="0.8"/>
<circle cx="128.2" cy="334.1" r="0.80" fill="#ffffff" opacity="0.8"/>
<circle cx="143.5" cy="330.8" r="0.36" fill="#ffffff" opacity="0.8"/>
<circle cx="131.4" cy="335.9" r="0.44" fill="#ffffff" opacity="0.8"/>
<circle cx="131.5" cy="341.3" r="0.36" fill="#ffffff" opacity="0.8"/>
<circle cx="145.8" cy="335.4" r="0.51" fill="#ffffff" opacity="0.8"/>
<circle cx="132.0" cy="338.6" r="0.70" fill="#ffffff" opacity="0.8"/>
</g>
<g clip-path="url(#c4)"><rect x="33.80" y="357.00" width="41.60" height="39.60" fill="#07120d"/>
</g>
<g clip-path="url(#c5)"><rect x="77.10" y="357.00" width="39.10" height="39.60" fill="#040805"/>
<ellipse cx="96" cy="377" rx="16" ry="15" fill="#0c2a12" opacity="0.9" filter="url(#b2)" transform="rotate(0 96 377)"/>
<circle cx="95.8" cy="379.9" r="0.74" fill="#3cc050" opacity="0.85"/>
<circle cx="96.3" cy="378.3" r="0.59" fill="#3cc050" opacity="0.85"/>
<circle cx="86.5" cy="378.4" r="0.61" fill="#3cc050" opacity="0.85"/>
<circle cx="90.6" cy="364.9" r="0.69" fill="#3cc050" opacity="0.85"/>
<circle cx="102.9" cy="381.7" r="0.40" fill="#3cc050" opacity="0.85"/>
<circle cx="80.5" cy="378.9" r="0.36" fill="#3cc050" opacity="0.85"/>
<circle cx="86.7" cy="369.7" r="0.34" fill="#3cc050" opacity="0.85"/>
<circle cx="96.2" cy="376.1" r="0.70" fill="#3cc050" opacity="0.85"/>
<circle cx="98.2" cy="382.5" r="0.55" fill="#3cc050" opacity="0.85"/>
<circle cx="103.2" cy="376.6" r="0.45" fill="#3cc050" opacity="0.85"/>
<circle cx="109.4" cy="384.6" r="0.47" fill="#3cc050" opacity="0.85"/>
<circle cx="88.0" cy="371.2" r="0.36" fill="#3cc050" opacity="0.85"/>
<circle cx="106.8" cy="374.8" r="0.70" fill="#3cc050" opacity="0.85"/>
<circle cx="93.5" cy="392.7" r="0.70" fill="#3cc050" opacity="0.85"/>
<circle cx="111.9" cy="377.0" r="0.76" fill="#3cc050" opacity="0.85"/>
<circle cx="93.9" cy="364.3" r="0.61" fill="#3cc050" opacity="0.85"/>
<circle cx="107.2" cy="370.6" r="0.37" fill="#3cc050" opacity="0.85"/>
<circle cx="91.6" cy="392.9" r="0.66" fill="#3cc050" opacity="0.85"/>
<circle cx="84.1" cy="369.9" r="0.37" fill="#3cc050" opacity="0.85"/>
<circle cx="86.2" cy="379.9" r="0.53" fill="#3cc050" opacity="0.85"/>
<circle cx="86.7" cy="385.4" r="0.39" fill="#3cc050" opacity="0.85"/>
<circle cx="102.5" cy="365.7" r="0.52" fill="#3cc050" opacity="0.85"/>
<circle cx="87.5" cy="370.6" r="0.76" fill="#3cc050" opacity="0.85"/>
<circle cx="108.1" cy="371.7" r="0.72" fill="#3cc050" opacity="0.85"/>
<circle cx="87.4" cy="374.6" r="0.71" fill="#3cc050" opacity="0.85"/>
<circle cx="102.5" cy="365.2" r="0.77" fill="#3cc050" opacity="0.85"/>
<circle cx="87.5" cy="370.3" r="0.67" fill="#3cc050" opacity="0.85"/>
<circle cx="91.5" cy="371.5" r="0.36" fill="#3cc050" opacity="0.85"/>
<circle cx="83.2" cy="380.6" r="0.44" fill="#3cc050" opacity="0.85"/>
<circle cx="101.0" cy="373.9" r="0.53" fill="#3cc050" opacity="0.85"/>
<circle cx="113.6" cy="377.5" r="0.58" fill="#3cc050" opacity="0.85"/>
<circle cx="108.6" cy="370.0" r="0.41" fill="#3cc050" opacity="0.85"/>
<circle cx="110.9" cy="381.3" r="0.52" fill="#3cc050" opacity="0.85"/>
<circle cx="104.7" cy="370.2" r="0.69" fill="#3cc050" opacity="0.85"/>
<circle cx="100.9" cy="371.4" r="0.41" fill="#3cc050" opacity="0.85"/>
<circle cx="105.2" cy="364.2" r="0.43" fill="#3cc050" opacity="0.85"/>
<circle cx="99.6" cy="389.3" r="0.60" fill="#3cc050" opacity="0.85"/>
<circle cx="89.8" cy="391.4" r="0.42" fill="#3cc050" opacity="0.85"/>
<circle cx="95.6" cy="363.9" r="0.41" fill="#3cc050" opacity="0.85"/>
<circle cx="92.9" cy="380.3" r="0.39" fill="#3cc050" opacity="0.85"/>
<circle cx="92.7" cy="390.5" r="0.76" fill="#3cc050" opacity="0.85"/>
<circle cx="103.0" cy="384.1" r="0.59" fill="#3cc050" opacity="0.85"/>
<circle cx="80.7" cy="382.4" r="0.54" fill="#3cc050" opacity="0.85"/>
<circle cx="105.6" cy="372.2" r="0.77" fill="#3cc050" opacity="0.85"/>
</g>
<g clip-path="url(#c6)"><rect x="117.90" y="357.00" width="40.30" height="39.60" fill="#030a05"/>
<ellipse cx="134" cy="380" rx="17" ry="14" fill="#1f9a2e" opacity="1" filter="url(#b2)" transform="rotate(0 134 380)"/>
<ellipse cx="133" cy="381" rx="14" ry="11.5" fill="#30c040" opacity="1" filter="url(#b1)" transform="rotate(0 133 381)"/>
<ellipse cx="154" cy="369" rx="9" ry="13" fill="#1f9a2e" opacity="1" filter="url(#b2)" transform="rotate(0 154 369)"/>
<ellipse cx="155" cy="369" rx="6" ry="11" fill="#2fb83c" opacity="1" filter="url(#b1)" transform="rotate(0 155 369)"/>
<circle cx="129.8" cy="386.9" r="0.69" fill="#70f080" opacity="0.7"/>
<circle cx="152.3" cy="372.4" r="0.47" fill="#70f080" opacity="0.7"/>
<circle cx="125.6" cy="373.5" r="0.71" fill="#70f080" opacity="0.7"/>
<circle cx="124.9" cy="382.4" r="0.46" fill="#70f080" opacity="0.7"/>
<circle cx="131.2" cy="379.5" r="0.76" fill="#70f080" opacity="0.7"/>
<circle cx="143.1" cy="367.4" r="0.49" fill="#70f080" opacity="0.7"/>
<circle cx="125.6" cy="392.3" r="0.75" fill="#70f080" opacity="0.7"/>
<circle cx="150.6" cy="391.0" r="0.72" fill="#70f080" opacity="0.7"/>
<circle cx="156.1" cy="390.0" r="0.48" fill="#70f080" opacity="0.7"/>
<circle cx="152.3" cy="381.1" r="0.72" fill="#70f080" opacity="0.7"/>
<circle cx="141.4" cy="379.5" r="0.53" fill="#70f080" opacity="0.7"/>
<circle cx="136.3" cy="376.1" r="0.42" fill="#70f080" opacity="0.7"/>
<circle cx="151.1" cy="390.1" r="0.83" fill="#70f080" opacity="0.7"/>
<circle cx="146.3" cy="383.1" r="0.72" fill="#70f080" opacity="0.7"/>
<circle cx="125.1" cy="386.6" r="0.57" fill="#70f080" opacity="0.7"/>
<circle cx="126.7" cy="372.9" r="0.61" fill="#70f080" opacity="0.7"/>
<circle cx="129.6" cy="380.3" r="0.65" fill="#70f080" opacity="0.7"/>
<circle cx="135.0" cy="370.8" r="0.60" fill="#70f080" opacity="0.7"/>
<circle cx="128.9" cy="373.8" r="0.45" fill="#70f080" opacity="0.7"/>
<circle cx="133.9" cy="369.1" r="0.67" fill="#70f080" opacity="0.7"/>
<circle cx="156.2" cy="378.3" r="0.71" fill="#70f080" opacity="0.7"/>
<circle cx="155.5" cy="368.3" r="0.43" fill="#70f080" opacity="0.7"/>
<circle cx="150.6" cy="391.3" r="0.67" fill="#70f080" opacity="0.7"/>
<circle cx="126.1" cy="379.0" r="0.78" fill="#70f080" opacity="0.7"/>
<circle cx="153.7" cy="390.3" r="0.46" fill="#70f080" opacity="0.7"/>
<circle cx="152.4" cy="377.9" r="0.70" fill="#70f080" opacity="0.7"/>
<circle cx="125.2" cy="395.2" r="0.65" fill="#70f080" opacity="0.7"/>
<circle cx="147.5" cy="373.1" r="0.66" fill="#70f080" opacity="0.7"/>
<circle cx="142.1" cy="384.1" r="0.53" fill="#70f080" opacity="0.7"/>
<circle cx="147.7" cy="376.9" r="0.50" fill="#70f080" opacity="0.7"/>
<circle cx="126.3" cy="386.8" r="0.41" fill="#70f080" opacity="0.7"/>
<circle cx="128.6" cy="369.0" r="0.67" fill="#70f080" opacity="0.7"/>
<circle cx="141.1" cy="382.8" r="0.38" fill="#70f080" opacity="0.7"/>
<circle cx="136.7" cy="376.9" r="0.40" fill="#70f080" opacity="0.7"/>
<circle cx="120.1" cy="395.9" r="0.42" fill="#70f080" opacity="0.7"/>
<circle cx="131.5" cy="374.8" r="0.65" fill="#70f080" opacity="0.7"/>
<circle cx="122.9" cy="380.6" r="0.54" fill="#70f080" opacity="0.7"/>
<circle cx="151.7" cy="367.2" r="0.52" fill="#70f080" opacity="0.7"/>
<circle cx="138.9" cy="395.1" r="0.61" fill="#70f080" opacity="0.7"/>
<circle cx="138.0" cy="386.4" r="0.50" fill="#70f080" opacity="0.7"/>
<circle cx="121.2" cy="381.5" r="0.80" fill="#70f080" opacity="0.7"/>
<circle cx="148.1" cy="374.5" r="0.69" fill="#70f080" opacity="0.7"/>
<circle cx="152.3" cy="374.5" r="0.64" fill="#70f080" opacity="0.7"/>
<circle cx="133.5" cy="374.1" r="0.50" fill="#70f080" opacity="0.7"/>
<circle cx="127.7" cy="377.2" r="0.38" fill="#70f080" opacity="0.7"/>
<circle cx="135.1" cy="369.5" r="0.72" fill="#70f080" opacity="0.7"/>
<circle cx="142.8" cy="367.1" r="0.73" fill="#70f080" opacity="0.7"/>
<circle cx="127.2" cy="380.9" r="0.63" fill="#70f080" opacity="0.7"/>
<circle cx="132.6" cy="375.4" r="0.57" fill="#70f080" opacity="0.7"/>
<circle cx="125.2" cy="392.0" r="0.41" fill="#70f080" opacity="0.7"/>
</g>
<g clip-path="url(#c7)"><rect x="33.80" y="397.80" width="41.60" height="39.00" fill="#080202"/>
<ellipse cx="58" cy="416" rx="10" ry="13.5" fill="#8a1212" opacity="1" filter="url(#b2)" transform="rotate(15 58 416)"/>
<ellipse cx="48" cy="423" rx="11" ry="6.5" fill="#8a1414" opacity="1" filter="url(#b2)" transform="rotate(15 48 423)"/>
<ellipse cx="58.5" cy="416" rx="7.5" ry="11" fill="#a01616" opacity="1" filter="url(#b1)" transform="rotate(15 58.5 416)"/>
<ellipse cx="49" cy="423.5" rx="8" ry="4.5" fill="#981616" opacity="1" filter="url(#b1)" transform="rotate(15 49 423.5)"/>
<ellipse cx="60" cy="416" rx="4" ry="5" fill="#c02020" opacity="1" filter="url(#b1)" transform="rotate(0 60 416)"/>
</g>
<g clip-path="url(#c8)"><rect x="77.10" y="397.80" width="39.10" height="39.00" fill="#100202"/>
<ellipse cx="98" cy="412" rx="17" ry="14" fill="#e01818" opacity="1" filter="url(#b2)" transform="rotate(-30 98 412)"/>
<ellipse cx="90" cy="426" rx="11" ry="10" fill="#e81818" opacity="1" filter="url(#b2)" transform="rotate(0 90 426)"/>
<ellipse cx="98" cy="413" rx="13" ry="11" fill="#ff2424" opacity="1" filter="url(#b1)" transform="rotate(-30 98 413)"/>
<ellipse cx="91" cy="425" rx="8" ry="8" fill="#ff2222" opacity="1" filter="url(#b1)" transform="rotate(0 91 425)"/>
</g>
<g clip-path="url(#c9)"><rect x="117.90" y="397.80" width="40.30" height="39.00" fill="#100202"/>
<ellipse cx="135" cy="421" rx="15" ry="12" fill="#e01818" opacity="1" filter="url(#b2)" transform="rotate(0 135 421)"/>
<ellipse cx="135" cy="421" rx="12" ry="9.5" fill="#ff2222" opacity="1" filter="url(#b1)" transform="rotate(0 135 421)"/>
<ellipse cx="154" cy="412" rx="9" ry="16" fill="#e01818" opacity="1" filter="url(#b2)" transform="rotate(0 154 412)"/>
<ellipse cx="155" cy="412" rx="6" ry="13" fill="#ff2424" opacity="1" filter="url(#b1)" transform="rotate(0 155 412)"/>
</g>
<text x="30.60" y="340.00" font-size="8.6" text-anchor="end" font-weight="normal" fill="#111" >Overlay</text>
<text x="26.60" y="379.80" font-size="8.6" text-anchor="end" font-weight="normal" fill="#111" >γH2AX</text>
<text x="30.60" y="420.00" font-size="8.6" text-anchor="end" font-weight="normal" fill="#111" >PARP-1</text>
<text x="53.40" y="447.40" font-size="8.6" text-anchor="middle" font-weight="normal" fill="#111" >Con</text>
<text x="94.60" y="447.40" font-size="8.6" text-anchor="middle" font-weight="normal" fill="#111" >3.7</text>
<text x="138.90" y="446.60" font-size="8.6" text-anchor="middle" font-weight="normal" fill="#111" >37 kBq/mL</text>
<g clip-path="url(#c10)"><rect x="34.30" y="468.80" width="41.40" height="40.10" fill="#07050e"/>
<ellipse cx="55" cy="487" rx="17" ry="10.5" fill="#6a30c0" opacity="1" filter="url(#b2)" transform="rotate(0 55 487)"/>
<ellipse cx="55" cy="487" rx="14" ry="8.5" fill="#7a38c8" opacity="1" filter="url(#b1)" transform="rotate(0 55 487)"/>
<ellipse cx="47" cy="506" rx="10" ry="5.5" fill="#8a30b0" opacity="1" filter="url(#b1)" transform="rotate(0 47 506)"/>
</g>
<g clip-path="url(#c11)"><rect x="76.90" y="468.80" width="40.30" height="40.10" fill="#0a0612"/>
<ellipse cx="100" cy="490" rx="18" ry="19" fill="#8a38b8" opacity="1" filter="url(#b2)" transform="rotate(0 100 490)"/>
<ellipse cx="102" cy="488" rx="13" ry="15" fill="#a848c0" opacity="1" filter="url(#b1)" transform="rotate(0 102 488)"/>
<ellipse cx="82" cy="496" rx="6" ry="12" fill="#6a2aa0" opacity="1" filter="url(#b2)" transform="rotate(0 82 496)"/>
<circle cx="98.8" cy="501.0" r="0.96" fill="#ffffff" opacity="0.8"/>
<circle cx="90.4" cy="499.6" r="0.81" fill="#ffffff" opacity="0.8"/>
<circle cx="103.8" cy="476.0" r="0.44" fill="#ffffff" opacity="0.8"/>
<circle cx="93.8" cy="498.9" r="0.56" fill="#ffffff" opacity="0.8"/>
<circle cx="98.1" cy="483.4" r="0.89" fill="#ffffff" opacity="0.8"/>
<circle cx="114.0" cy="486.5" r="0.98" fill="#ffffff" opacity="0.8"/>
<circle cx="111.5" cy="477.4" r="0.82" fill="#ffffff" opacity="0.8"/>
<circle cx="100.1" cy="506.4" r="0.54" fill="#ffffff" opacity="0.8"/>
<circle cx="99.4" cy="503.8" r="0.78" fill="#ffffff" opacity="0.8"/>
<circle cx="91.1" cy="474.9" r="0.95" fill="#ffffff" opacity="0.8"/>
<circle cx="93.5" cy="499.9" r="0.91" fill="#ffffff" opacity="0.8"/>
<circle cx="88.6" cy="492.0" r="0.96" fill="#ffffff" opacity="0.8"/>
<circle cx="99.0" cy="484.9" r="0.57" fill="#ffffff" opacity="0.8"/>
<circle cx="108.3" cy="478.9" r="0.76" fill="#ffffff" opacity="0.8"/>
<circle cx="100.0" cy="491.9" r="0.49" fill="#ffffff" opacity="0.8"/>
<circle cx="103.7" cy="505.0" r="0.60" fill="#ffffff" opacity="0.8"/>
<circle cx="92.0" cy="504.7" r="0.74" fill="#ffffff" opacity="0.8"/>
<circle cx="107.1" cy="484.5" r="0.68" fill="#ffffff" opacity="0.8"/>
<circle cx="89.8" cy="494.8" r="0.83" fill="#ffffff" opacity="0.8"/>
<circle cx="91.2" cy="474.7" r="0.97" fill="#ffffff" opacity="0.8"/>
<circle cx="100.3" cy="496.7" r="0.65" fill="#ffffff" opacity="0.8"/>
<circle cx="106.3" cy="506.6" r="0.75" fill="#ffffff" opacity="0.8"/>
<circle cx="94.1" cy="479.0" r="0.56" fill="#ffffff" opacity="0.8"/>
<circle cx="87.6" cy="502.3" r="0.72" fill="#ffffff" opacity="0.8"/>
<circle cx="109.0" cy="505.1" r="0.87" fill="#ffffff" opacity="0.8"/>
<circle cx="110.2" cy="495.7" r="0.65" fill="#ffffff" opacity="0.8"/>
<circle cx="102.9" cy="480.7" r="0.72" fill="#ffffff" opacity="0.8"/>
<circle cx="89.5" cy="477.9" r="0.59" fill="#ffffff" opacity="0.8"/>
<circle cx="106.1" cy="489.5" r="0.64" fill="#ffffff" opacity="0.8"/>
<circle cx="97.5" cy="491.9" r="0.71" fill="#ffffff" opacity="0.8"/>
<circle cx="96.0" cy="506.8" r="0.84" fill="#ffffff" opacity="0.8"/>
<circle cx="88.2" cy="483.5" r="0.53" fill="#ffffff" opacity="0.8"/>
</g>
<g clip-path="url(#c12)"><rect x="118.40" y="468.80" width="40.10" height="40.10" fill="#081010"/>
<ellipse cx="121" cy="476" rx="5" ry="7" fill="#c0f0b0" opacity="1" filter="url(#b1)" transform="rotate(0 121 476)"/>
<ellipse cx="121" cy="494" rx="5" ry="7" fill="#a0c8f0" opacity="1" filter="url(#b1)" transform="rotate(0 121 494)"/>
<ellipse cx="140" cy="488" rx="11" ry="15" fill="#c06090" opacity="1" filter="url(#b2)" transform="rotate(0 140 488)"/>
<ellipse cx="140" cy="488" rx="9" ry="12.5" fill="#e890a8" opacity="1" filter="url(#b1)" transform="rotate(0 140 488)"/>
<ellipse cx="139" cy="486" rx="5" ry="7" fill="#f8b8c8" opacity="1" filter="url(#b1)" transform="rotate(0 139 486)"/>
</g>
<g clip-path="url(#c13)"><rect x="34.30" y="510.00" width="41.40" height="39.10" fill="#061a10"/>
<ellipse cx="55" cy="528" rx="17" ry="11" fill="#0a2816" opacity="1" filter="url(#b2)" transform="rotate(0 55 528)"/>
</g>
<g clip-path="url(#c14)"><rect x="76.90" y="510.00" width="40.30" height="39.10" fill="#050d07"/>
<ellipse cx="98" cy="530" rx="18" ry="18" fill="#0e3a16" opacity="1" filter="url(#b2)" transform="rotate(0 98 530)"/>
<circle cx="104.7" cy="541.0" r="0.91" fill="#36c050" opacity="0.8"/>
<circle cx="98.4" cy="526.6" r="1.26" fill="#36c050" opacity="0.8"/>
<circle cx="90.0" cy="517.5" r="0.73" fill="#36c050" opacity="0.8"/>
<circle cx="88.9" cy="524.1" r="0.73" fill="#36c050" opacity="0.8"/>
<circle cx="83.1" cy="524.0" r="0.76" fill="#36c050" opacity="0.8"/>
<circle cx="100.6" cy="519.5" r="0.59" fill="#36c050" opacity="0.8"/>
<circle cx="86.7" cy="532.1" r="0.82" fill="#36c050" opacity="0.8"/>
<circle cx="106.9" cy="541.7" r="0.84" fill="#36c050" opacity="0.8"/>
<circle cx="82.8" cy="538.9" r="1.08" fill="#36c050" opacity="0.8"/>
<circle cx="94.1" cy="536.4" r="0.76" fill="#36c050" opacity="0.8"/>
<circle cx="87.8" cy="532.2" r="1.07" fill="#36c050" opacity="0.8"/>
<circle cx="109.5" cy="526.4" r="0.64" fill="#36c050" opacity="0.8"/>
<circle cx="102.8" cy="515.9" r="1.05" fill="#36c050" opacity="0.8"/>
<circle cx="79.3" cy="528.8" r="0.89" fill="#36c050" opacity="0.8"/>
<circle cx="83.6" cy="529.8" r="0.90" fill="#36c050" opacity="0.8"/>
<circle cx="93.0" cy="545.2" r="1.16" fill="#36c050" opacity="0.8"/>
<circle cx="112.8" cy="521.1" r="0.56" fill="#36c050" opacity="0.8"/>
<circle cx="93.3" cy="516.2" r="1.05" fill="#36c050" opacity="0.8"/>
<circle cx="89.0" cy="516.8" r="0.74" fill="#36c050" opacity="0.8"/>
<circle cx="94.3" cy="539.2" r="0.87" fill="#36c050" opacity="0.8"/>
<circle cx="90.4" cy="537.1" r="0.57" fill="#36c050" opacity="0.8"/>
<circle cx="86.9" cy="537.4" r="1.08" fill="#36c050" opacity="0.8"/>
<circle cx="98.2" cy="536.3" r="0.55" fill="#36c050" opacity="0.8"/>
<circle cx="95.6" cy="522.2" r="0.60" fill="#36c050" opacity="0.8"/>
<circle cx="85.5" cy="522.6" r="0.88" fill="#36c050" opacity="0.8"/>
<circle cx="83.3" cy="535.0" r="1.17" fill="#36c050" opacity="0.8"/>
<circle cx="105.0" cy="514.5" r="1.01" fill="#36c050" opacity="0.8"/>
<circle cx="93.6" cy="536.1" r="1.22" fill="#36c050" opacity="0.8"/>
<circle cx="114.3" cy="533.1" r="0.96" fill="#36c050" opacity="0.8"/>
<circle cx="98.3" cy="514.3" r="1.10" fill="#36c050" opacity="0.8"/>
<circle cx="103.8" cy="519.8" r="0.68" fill="#36c050" opacity="0.8"/>
<circle cx="98.9" cy="539.8" r="0.64" fill="#36c050" opacity="0.8"/>
<circle cx="91.3" cy="531.0" r="0.73" fill="#36c050" opacity="0.8"/>
<circle cx="112.6" cy="538.8" r="1.23" fill="#36c050" opacity="0.8"/>
<circle cx="103.4" cy="537.2" r="0.75" fill="#36c050" opacity="0.8"/>
<circle cx="98.2" cy="527.9" r="0.88" fill="#36c050" opacity="0.8"/>
<circle cx="84.9" cy="529.0" r="1.21" fill="#36c050" opacity="0.8"/>
<circle cx="98.5" cy="544.1" r="0.73" fill="#36c050" opacity="0.8"/>
<circle cx="96.7" cy="526.0" r="0.77" fill="#36c050" opacity="0.8"/>
<circle cx="93.0" cy="528.5" r="1.15" fill="#36c050" opacity="0.8"/>
<circle cx="104.4" cy="531.6" r="0.84" fill="#36c050" opacity="0.8"/>
<circle cx="80.5" cy="525.4" r="0.77" fill="#36c050" opacity="0.8"/>
<circle cx="92.9" cy="534.0" r="0.80" fill="#36c050" opacity="0.8"/>
<circle cx="90.2" cy="522.1" r="1.24" fill="#36c050" opacity="0.8"/>
<circle cx="93.9" cy="548.0" r="0.66" fill="#36c050" opacity="0.8"/>
<circle cx="104.2" cy="532.5" r="1.05" fill="#36c050" opacity="0.8"/>
<circle cx="98.5" cy="544.3" r="0.96" fill="#36c050" opacity="0.8"/>
<circle cx="80.8" cy="537.3" r="0.98" fill="#36c050" opacity="0.8"/>
<circle cx="88.3" cy="539.0" r="1.14" fill="#36c050" opacity="0.8"/>
<circle cx="89.5" cy="517.5" r="0.75" fill="#36c050" opacity="0.8"/>
<circle cx="101.4" cy="528.4" r="0.59" fill="#36c050" opacity="0.8"/>
<circle cx="96.1" cy="532.2" r="0.96" fill="#36c050" opacity="0.8"/>
<circle cx="92.4" cy="541.1" r="1.03" fill="#36c050" opacity="0.8"/>
<circle cx="88.8" cy="524.8" r="1.21" fill="#36c050" opacity="0.8"/>
<circle cx="87.4" cy="528.6" r="0.76" fill="#36c050" opacity="0.8"/>
<circle cx="101.2" cy="541.4" r="0.63" fill="#36c050" opacity="0.8"/>
<circle cx="83.8" cy="531.3" r="0.89" fill="#36c050" opacity="0.8"/>
<circle cx="114.9" cy="528.8" r="0.92" fill="#36c050" opacity="0.8"/>
<circle cx="90.8" cy="521.0" r="1.11" fill="#36c050" opacity="0.8"/>
<circle cx="94.8" cy="517.0" r="0.92" fill="#36c050" opacity="0.8"/>
<circle cx="84.9" cy="518.9" r="0.98" fill="#36c050" opacity="0.8"/>
<circle cx="82.3" cy="540.0" r="0.86" fill="#36c050" opacity="0.8"/>
<circle cx="81.4" cy="536.9" r="1.23" fill="#36c050" opacity="0.8"/>
<circle cx="107.1" cy="543.1" r="1.22" fill="#36c050" opacity="0.8"/>
<circle cx="89.3" cy="530.0" r="1.07" fill="#36c050" opacity="0.8"/>
<circle cx="94.1" cy="547.8" r="0.84" fill="#36c050" opacity="0.8"/>
<circle cx="95.2" cy="512.7" r="0.98" fill="#36c050" opacity="0.8"/>
<circle cx="81.8" cy="536.7" r="1.22" fill="#36c050" opacity="0.8"/>
<circle cx="99.3" cy="514.3" r="0.57" fill="#36c050" opacity="0.8"/>
<circle cx="110.1" cy="537.5" r="0.76" fill="#36c050" opacity="0.8"/>
<circle cx="81.1" cy="525.4" r="0.67" fill="#36c050" opacity="0.8"/>
<circle cx="103.3" cy="530.1" r="0.72" fill="#36c050" opacity="0.8"/>
<circle cx="102.9" cy="516.0" r="1.25" fill="#36c050" opacity="0.8"/>
<circle cx="108.8" cy="519.7" r="0.97" fill="#36c050" opacity="0.8"/>
</g>
<g clip-path="url(#c15)"><rect x="118.40" y="510.00" width="40.10" height="39.10" fill="#030a05"/>
<ellipse cx="141" cy="530" rx="11" ry="16" fill="#1e9030" opacity="1" filter="url(#b2)" transform="rotate(0 141 530)"/>
<ellipse cx="141" cy="530" rx="9" ry="13" fill="#2eb440" opacity="1" filter="url(#b1)" transform="rotate(0 141 530)"/>
<ellipse cx="122" cy="518" rx="6" ry="7" fill="#38c040" opacity="1" filter="url(#b1)" transform="rotate(0 122 518)"/>
<ellipse cx="122" cy="538" rx="6" ry="8" fill="#2aa838" opacity="1" filter="url(#b1)" transform="rotate(0 122 538)"/>
<circle cx="143.2" cy="528.3" r="0.61" fill="#80f090" opacity="0.7"/>
<circle cx="134.5" cy="521.6" r="0.57" fill="#80f090" opacity="0.7"/>
<circle cx="136.2" cy="529.2" r="0.37" fill="#80f090" opacity="0.7"/>
<circle cx="133.6" cy="536.6" r="0.56" fill="#80f090" opacity="0.7"/>
<circle cx="141.7" cy="537.3" r="0.53" fill="#80f090" opacity="0.7"/>
<circle cx="143.2" cy="535.1" r="0.66" fill="#80f090" opacity="0.7"/>
<circle cx="146.4" cy="526.7" r="0.63" fill="#80f090" opacity="0.7"/>
<circle cx="144.6" cy="525.1" r="0.40" fill="#80f090" opacity="0.7"/>
<circle cx="141.0" cy="536.8" r="0.64" fill="#80f090" opacity="0.7"/>
<circle cx="140.5" cy="534.6" r="0.45" fill="#80f090" opacity="0.7"/>
<circle cx="135.4" cy="525.4" r="0.75" fill="#80f090" opacity="0.7"/>
<circle cx="137.2" cy="532.6" r="0.75" fill="#80f090" opacity="0.7"/>
<circle cx="138.3" cy="526.7" r="0.50" fill="#80f090" opacity="0.7"/>
<circle cx="137.8" cy="538.5" r="0.62" fill="#80f090" opacity="0.7"/>
<circle cx="136.9" cy="519.1" r="0.74" fill="#80f090" opacity="0.7"/>
<circle cx="145.4" cy="540.0" r="0.47" fill="#80f090" opacity="0.7"/>
<circle cx="142.4" cy="542.6" r="0.64" fill="#80f090" opacity="0.7"/>
<circle cx="147.4" cy="535.9" r="0.83" fill="#80f090" opacity="0.7"/>
<circle cx="146.2" cy="526.0" r="0.83" fill="#80f090" opacity="0.7"/>
</g>
<g clip-path="url(#c16)"><rect x="34.30" y="550.30" width="41.40" height="40.10" fill="#0a0202"/>
<ellipse cx="56" cy="567" rx="17" ry="10.5" fill="#b81c1c" opacity="1" filter="url(#b2)" transform="rotate(0 56 567)"/>
<ellipse cx="56" cy="567" rx="14" ry="8.5" fill="#c82020" opacity="1" filter="url(#b1)" transform="rotate(0 56 567)"/>
<ellipse cx="46" cy="588" rx="11" ry="5" fill="#a01414" opacity="1" filter="url(#b1)" transform="rotate(0 46 588)"/>
</g>
<g clip-path="url(#c17)"><rect x="76.90" y="550.30" width="40.30" height="40.10" fill="#180303"/>
<ellipse cx="100" cy="570" rx="20" ry="20" fill="#e01c1c" opacity="1" filter="url(#b2)" transform="rotate(0 100 570)"/>
<ellipse cx="100" cy="570" rx="16" ry="17" fill="#f02424" opacity="1" filter="url(#b1)" transform="rotate(0 100 570)"/>
<ellipse cx="82" cy="578" rx="6" ry="12" fill="#c01818" opacity="1" filter="url(#b2)" transform="rotate(0 82 578)"/>
</g>
<g clip-path="url(#c18)"><rect x="118.40" y="550.30" width="40.10" height="40.10" fill="#0c0202"/>
<ellipse cx="141" cy="569" rx="11" ry="16" fill="#e01c1c" opacity="1" filter="url(#b2)" transform="rotate(0 141 569)"/>
<ellipse cx="141" cy="569" rx="9" ry="13" fill="#f82424" opacity="1" filter="url(#b1)" transform="rotate(0 141 569)"/>
<ellipse cx="122" cy="558" rx="6" ry="7" fill="#d01818" opacity="1" filter="url(#b1)" transform="rotate(0 122 558)"/>
<ellipse cx="122" cy="578" rx="6" ry="8" fill="#c01616" opacity="1" filter="url(#b1)" transform="rotate(0 122 578)"/>
</g>
<text x="30.60" y="491.00" font-size="8.6" text-anchor="end" font-weight="normal" fill="#111" >Overlay</text>
<text x="26.60" y="531.00" font-size="8.6" text-anchor="end" font-weight="normal" fill="#111" >γH2AX</text>
<text x="30.60" y="570.80" font-size="8.6" text-anchor="end" font-weight="normal" fill="#111" >PARP-1</text>
<text x="49.60" y="600.00" font-size="8.6" text-anchor="middle" font-weight="normal" fill="#111" >Con</text>
<text x="94.60" y="600.00" font-size="8.6" text-anchor="middle" font-weight="normal" fill="#111" >3.7</text>
<text x="140.20" y="600.00" font-size="8.6" text-anchor="middle" font-weight="normal" fill="#111" >37 kBq/mL</text>
<text x="237.50" y="325.20" font-size="8.6" text-anchor="middle" font-weight="normal" fill="#111" >PARP-1</text>
<text x="171.00" y="374.50" font-size="8.6" text-anchor="middle" font-weight="normal" fill="#111" transform="rotate(-90 171.00 374.50)" >RFU</text>
<line x1="198.00" y1="332.50" x2="198.00" y2="412.30" stroke="#1e1e1e" stroke-width="1.4" />
<line x1="198.00" y1="411.70" x2="276.30" y2="411.70" stroke="#1e1e1e" stroke-width="1.4" />
<line x1="194.00" y1="411.70" x2="198.00" y2="411.70" stroke="#1e1e1e" stroke-width="1.2" />
<text x="193.60" y="414.50" font-size="8.0" text-anchor="end" font-weight="normal" fill="#111" >0</text>
<line x1="194.00" y1="392.02" x2="198.00" y2="392.02" stroke="#1e1e1e" stroke-width="1.2" />
<text x="193.60" y="394.82" font-size="8.0" text-anchor="end" font-weight="normal" fill="#111" >1,000</text>
<line x1="194.00" y1="372.35" x2="198.00" y2="372.35" stroke="#1e1e1e" stroke-width="1.2" />
<text x="193.60" y="375.15" font-size="8.0" text-anchor="end" font-weight="normal" fill="#111" >2,000</text>
<line x1="194.00" y1="352.68" x2="198.00" y2="352.68" stroke="#1e1e1e" stroke-width="1.2" />
<text x="193.60" y="355.48" font-size="8.0" text-anchor="end" font-weight="normal" fill="#111" >3,000</text>
<line x1="194.00" y1="333.00" x2="198.00" y2="333.00" stroke="#1e1e1e" stroke-width="1.2" />
<text x="193.60" y="335.80" font-size="8.0" text-anchor="end" font-weight="normal" fill="#111" >4,000</text>
<line x1="211.30" y1="411.70" x2="211.30" y2="415.30" stroke="#1e1e1e" stroke-width="1.2" />
<line x1="237.50" y1="411.70" x2="237.50" y2="415.30" stroke="#1e1e1e" stroke-width="1.2" />
<line x1="263.80" y1="411.70" x2="263.80" y2="415.30" stroke="#1e1e1e" stroke-width="1.2" />
<text x="213.50" y="421.00" font-size="8.8" text-anchor="end" font-weight="normal" fill="#111" transform="rotate(-45 213.50 421.00)" >Control</text>
<text x="239.70" y="421.00" font-size="8.8" text-anchor="end" font-weight="normal" fill="#111" transform="rotate(-45 239.70 421.00)" >3.7 kBq/mL</text>
<text x="266.00" y="421.00" font-size="8.8" text-anchor="end" font-weight="normal" fill="#111" transform="rotate(-45 266.00 421.00)" >37 kBq/mL</text>
<g fill="#141414"><circle cx="204.3" cy="378.0" r="1.0"/><circle cx="206.3" cy="378.0" r="1.0"/><circle cx="208.2" cy="378.0" r="1.0"/><circle cx="210.1" cy="378.0" r="1.0"/><circle cx="212.3" cy="378.0" r="1.0"/><circle cx="214.5" cy="378.0" r="1.0"/><circle cx="216.4" cy="378.0" r="1.0"/><circle cx="218.3" cy="378.0" r="1.0"/><circle cx="208.1" cy="371.7" r="1.0"/><circle cx="210.4" cy="371.7" r="1.0"/><circle cx="212.2" cy="371.7" r="1.0"/><circle cx="214.5" cy="371.7" r="1.0"/><circle cx="203.0" cy="382.2" r="1.0"/><circle cx="205.0" cy="382.2" r="1.0"/><circle cx="207.0" cy="382.2" r="1.0"/><circle cx="209.4" cy="382.2" r="1.0"/><circle cx="211.5" cy="382.2" r="1.0"/><circle cx="213.3" cy="382.2" r="1.0"/><circle cx="215.2" cy="382.2" r="1.0"/><circle cx="217.5" cy="382.2" r="1.0"/><circle cx="219.7" cy="382.2" r="1.0"/><circle cx="205.0" cy="384.3" r="1.0"/><circle cx="207.3" cy="384.3" r="1.0"/><circle cx="209.4" cy="384.3" r="1.0"/><circle cx="211.3" cy="384.3" r="1.0"/><circle cx="213.4" cy="384.3" r="1.0"/><circle cx="215.5" cy="384.3" r="1.0"/><circle cx="217.3" cy="384.3" r="1.0"/><circle cx="205.1" cy="388.5" r="1.0"/><circle cx="207.3" cy="388.5" r="1.0"/><circle cx="209.3" cy="388.5" r="1.0"/><circle cx="211.3" cy="388.5" r="1.0"/><circle cx="213.3" cy="388.5" r="1.0"/><circle cx="215.6" cy="388.5" r="1.0"/><circle cx="217.4" cy="388.5" r="1.0"/><circle cx="205.2" cy="386.4" r="1.0"/><circle cx="207.4" cy="386.4" r="1.0"/><circle cx="209.2" cy="386.4" r="1.0"/><circle cx="211.1" cy="386.4" r="1.0"/><circle cx="213.2" cy="386.4" r="1.0"/><circle cx="215.2" cy="386.4" r="1.0"/><circle cx="217.3" cy="386.4" r="1.0"/><circle cx="202.9" cy="375.9" r="1.0"/><circle cx="205.1" cy="375.9" r="1.0"/><circle cx="207.1" cy="375.9" r="1.0"/><circle cx="209.2" cy="375.9" r="1.0"/><circle cx="211.4" cy="375.9" r="1.0"/><circle cx="213.4" cy="375.9" r="1.0"/><circle cx="215.5" cy="375.9" r="1.0"/><circle cx="217.4" cy="375.9" r="1.0"/><circle cx="219.6" cy="375.9" r="1.0"/><circle cx="210.3" cy="373.8" r="1.0"/><circle cx="212.2" cy="373.8" r="1.0"/><circle cx="206.2" cy="380.1" r="1.0"/><circle cx="208.2" cy="380.1" r="1.0"/><circle cx="210.3" cy="380.1" r="1.0"/><circle cx="212.4" cy="380.1" r="1.0"/><circle cx="214.3" cy="380.1" r="1.0"/><circle cx="216.4" cy="380.1" r="1.0"/><circle cx="211.3" cy="390.6" r="1.0"/><circle cx="211.2" cy="367.5" r="1.0"/><circle cx="210.1" cy="392.7" r="1.0"/><circle cx="212.1" cy="392.7" r="1.0"/><circle cx="210.5" cy="369.6" r="1.0"/><circle cx="212.4" cy="369.6" r="1.0"/><circle cx="207.0" cy="368.0" r="1.0"/><circle cx="210.0" cy="367.5" r="1.0"/></g>
<g stroke="#e02a2a" stroke-width="1.6" fill="none"><line x1="202.5" y1="380.5" x2="220.1" y2="380.5" stroke-width="1.9"/><line x1="211.3" y1="375.0" x2="211.3" y2="386.0" stroke-width="1.8"/><line x1="204.3" y1="375.0" x2="218.3" y2="375.0"/><line x1="204.3" y1="386.0" x2="218.3" y2="386.0"/></g>
<g fill="#141414"><circle cx="234.3" cy="388.8" r="1.0"/><circle cx="236.3" cy="388.8" r="1.0"/><circle cx="238.6" cy="388.8" r="1.0"/><circle cx="240.5" cy="388.8" r="1.0"/><circle cx="229.4" cy="390.9" r="1.0"/><circle cx="231.5" cy="390.9" r="1.0"/><circle cx="233.6" cy="390.9" r="1.0"/><circle cx="235.4" cy="390.9" r="1.0"/><circle cx="237.3" cy="390.9" r="1.0"/><circle cx="239.5" cy="390.9" r="1.0"/><circle cx="241.5" cy="390.9" r="1.0"/><circle cx="243.7" cy="390.9" r="1.0"/><circle cx="245.8" cy="390.9" r="1.0"/><circle cx="231.5" cy="386.7" r="1.0"/><circle cx="233.5" cy="386.7" r="1.0"/><circle cx="235.6" cy="386.7" r="1.0"/><circle cx="237.6" cy="386.7" r="1.0"/><circle cx="239.5" cy="386.7" r="1.0"/><circle cx="241.7" cy="386.7" r="1.0"/><circle cx="243.6" cy="386.7" r="1.0"/><circle cx="231.5" cy="372.0" r="1.0"/><circle cx="233.5" cy="372.0" r="1.0"/><circle cx="235.6" cy="372.0" r="1.0"/><circle cx="237.3" cy="372.0" r="1.0"/><circle cx="239.4" cy="372.0" r="1.0"/><circle cx="241.8" cy="372.0" r="1.0"/><circle cx="243.5" cy="372.0" r="1.0"/><circle cx="231.3" cy="374.1" r="1.0"/><circle cx="233.4" cy="374.1" r="1.0"/><circle cx="235.4" cy="374.1" r="1.0"/><circle cx="237.7" cy="374.1" r="1.0"/><circle cx="239.7" cy="374.1" r="1.0"/><circle cx="241.5" cy="374.1" r="1.0"/><circle cx="243.5" cy="374.1" r="1.0"/><circle cx="229.5" cy="369.9" r="1.0"/><circle cx="231.3" cy="369.9" r="1.0"/><circle cx="233.3" cy="369.9" r="1.0"/><circle cx="235.3" cy="369.9" r="1.0"/><circle cx="237.3" cy="369.9" r="1.0"/><circle cx="239.6" cy="369.9" r="1.0"/><circle cx="241.5" cy="369.9" r="1.0"/><circle cx="243.7" cy="369.9" r="1.0"/><circle cx="245.9" cy="369.9" r="1.0"/><circle cx="232.4" cy="382.5" r="1.0"/><circle cx="234.6" cy="382.5" r="1.0"/><circle cx="236.3" cy="382.5" r="1.0"/><circle cx="238.6" cy="382.5" r="1.0"/><circle cx="240.7" cy="382.5" r="1.0"/><circle cx="242.8" cy="382.5" r="1.0"/><circle cx="234.2" cy="367.8" r="1.0"/><circle cx="236.5" cy="367.8" r="1.0"/><circle cx="238.5" cy="367.8" r="1.0"/><circle cx="240.6" cy="367.8" r="1.0"/><circle cx="229.3" cy="384.6" r="1.0"/><circle cx="231.3" cy="384.6" r="1.0"/><circle cx="233.6" cy="384.6" r="1.0"/><circle cx="235.6" cy="384.6" r="1.0"/><circle cx="237.6" cy="384.6" r="1.0"/><circle cx="239.7" cy="384.6" r="1.0"/><circle cx="241.6" cy="384.6" r="1.0"/><circle cx="243.5" cy="384.6" r="1.0"/><circle cx="245.8" cy="384.6" r="1.0"/><circle cx="235.3" cy="393.0" r="1.0"/><circle cx="237.6" cy="393.0" r="1.0"/><circle cx="239.6" cy="393.0" r="1.0"/><circle cx="232.3" cy="365.7" r="1.0"/><circle cx="234.3" cy="365.7" r="1.0"/><circle cx="236.3" cy="365.7" r="1.0"/><circle cx="238.4" cy="365.7" r="1.0"/><circle cx="240.8" cy="365.7" r="1.0"/><circle cx="242.5" cy="365.7" r="1.0"/><circle cx="234.6" cy="380.4" r="1.0"/><circle cx="236.3" cy="380.4" r="1.0"/><circle cx="238.5" cy="380.4" r="1.0"/><circle cx="240.6" cy="380.4" r="1.0"/><circle cx="234.4" cy="361.5" r="1.0"/><circle cx="236.7" cy="361.5" r="1.0"/><circle cx="238.4" cy="361.5" r="1.0"/><circle cx="240.6" cy="361.5" r="1.0"/><circle cx="233.3" cy="378.3" r="1.0"/><circle cx="235.3" cy="378.3" r="1.0"/><circle cx="237.6" cy="378.3" r="1.0"/><circle cx="239.5" cy="378.3" r="1.0"/><circle cx="241.6" cy="378.3" r="1.0"/><circle cx="235.5" cy="376.2" r="1.0"/><circle cx="237.3" cy="376.2" r="1.0"/><circle cx="239.4" cy="376.2" r="1.0"/><circle cx="237.6" cy="355.2" r="1.0"/><circle cx="236.7" cy="359.4" r="1.0"/><circle cx="238.3" cy="359.4" r="1.0"/><circle cx="235.0" cy="403.5" r="1.0"/><circle cx="238.0" cy="401.5" r="1.0"/><circle cx="241.0" cy="352.0" r="1.0"/></g>
<g stroke="#e02a2a" stroke-width="1.6" fill="none"><line x1="228.5" y1="379.5" x2="246.5" y2="379.5" stroke-width="1.9"/><line x1="237.5" y1="368.8" x2="237.5" y2="387.5" stroke-width="1.8"/><line x1="230.3" y1="368.8" x2="244.7" y2="368.8"/><line x1="230.3" y1="387.5" x2="244.7" y2="387.5"/></g>
<g fill="#141414"><circle cx="261.7" cy="392.1" r="1.0"/><circle cx="263.8" cy="392.1" r="1.0"/><circle cx="265.8" cy="392.1" r="1.0"/><circle cx="259.7" cy="375.3" r="1.0"/><circle cx="261.8" cy="375.3" r="1.0"/><circle cx="263.7" cy="375.3" r="1.0"/><circle cx="265.9" cy="375.3" r="1.0"/><circle cx="268.0" cy="375.3" r="1.0"/><circle cx="258.7" cy="373.2" r="1.0"/><circle cx="260.9" cy="373.2" r="1.0"/><circle cx="262.7" cy="373.2" r="1.0"/><circle cx="265.0" cy="373.2" r="1.0"/><circle cx="266.7" cy="373.2" r="1.0"/><circle cx="268.9" cy="373.2" r="1.0"/><circle cx="257.8" cy="356.4" r="1.0"/><circle cx="259.5" cy="356.4" r="1.0"/><circle cx="261.8" cy="356.4" r="1.0"/><circle cx="263.9" cy="356.4" r="1.0"/><circle cx="266.0" cy="356.4" r="1.0"/><circle cx="268.0" cy="356.4" r="1.0"/><circle cx="269.9" cy="356.4" r="1.0"/><circle cx="260.7" cy="379.5" r="1.0"/><circle cx="262.8" cy="379.5" r="1.0"/><circle cx="264.7" cy="379.5" r="1.0"/><circle cx="266.7" cy="379.5" r="1.0"/><circle cx="261.9" cy="381.6" r="1.0"/><circle cx="263.9" cy="381.6" r="1.0"/><circle cx="265.7" cy="381.6" r="1.0"/><circle cx="262.7" cy="396.3" r="1.0"/><circle cx="264.7" cy="396.3" r="1.0"/><circle cx="258.8" cy="385.8" r="1.0"/><circle cx="260.6" cy="385.8" r="1.0"/><circle cx="262.9" cy="385.8" r="1.0"/><circle cx="264.9" cy="385.8" r="1.0"/><circle cx="266.8" cy="385.8" r="1.0"/><circle cx="268.8" cy="385.8" r="1.0"/><circle cx="258.7" cy="383.7" r="1.0"/><circle cx="260.7" cy="383.7" r="1.0"/><circle cx="262.8" cy="383.7" r="1.0"/><circle cx="264.8" cy="383.7" r="1.0"/><circle cx="267.0" cy="383.7" r="1.0"/><circle cx="268.9" cy="383.7" r="1.0"/><circle cx="260.6" cy="387.9" r="1.0"/><circle cx="262.9" cy="387.9" r="1.0"/><circle cx="265.0" cy="387.9" r="1.0"/><circle cx="266.9" cy="387.9" r="1.0"/><circle cx="257.7" cy="390.0" r="1.0"/><circle cx="259.8" cy="390.0" r="1.0"/><circle cx="261.9" cy="390.0" r="1.0"/><circle cx="263.6" cy="390.0" r="1.0"/><circle cx="265.8" cy="390.0" r="1.0"/><circle cx="267.7" cy="390.0" r="1.0"/><circle cx="269.9" cy="390.0" r="1.0"/><circle cx="260.6" cy="358.5" r="1.0"/><circle cx="262.8" cy="358.5" r="1.0"/><circle cx="264.9" cy="358.5" r="1.0"/><circle cx="267.0" cy="358.5" r="1.0"/><circle cx="260.6" cy="366.9" r="1.0"/><circle cx="262.6" cy="366.9" r="1.0"/><circle cx="265.0" cy="366.9" r="1.0"/><circle cx="267.0" cy="366.9" r="1.0"/><circle cx="260.7" cy="377.4" r="1.0"/><circle cx="262.6" cy="377.4" r="1.0"/><circle cx="264.6" cy="377.4" r="1.0"/><circle cx="267.0" cy="377.4" r="1.0"/><circle cx="263.8" cy="350.1" r="1.0"/><circle cx="263.9" cy="362.7" r="1.0"/><circle cx="262.9" cy="369.0" r="1.0"/><circle cx="264.9" cy="369.0" r="1.0"/><circle cx="261.9" cy="360.6" r="1.0"/><circle cx="263.7" cy="360.6" r="1.0"/><circle cx="265.7" cy="360.6" r="1.0"/><circle cx="262.7" cy="371.1" r="1.0"/><circle cx="264.9" cy="371.1" r="1.0"/><circle cx="263.9" cy="364.8" r="1.0"/><circle cx="263.0" cy="343.5" r="1.0"/><circle cx="261.0" cy="347.0" r="1.0"/></g>
<g stroke="#e02a2a" stroke-width="1.6" fill="none"><line x1="255.3" y1="377.5" x2="272.3" y2="377.5" stroke-width="1.9"/><line x1="263.8" y1="365.0" x2="263.8" y2="388.8" stroke-width="1.8"/><line x1="257.0" y1="365.0" x2="270.6" y2="365.0"/><line x1="257.0" y1="388.8" x2="270.6" y2="388.8"/></g>
<text x="343.80" y="325.60" font-size="8.6" text-anchor="middle" font-weight="normal" fill="#111" >γH2AX</text>
<line x1="306.00" y1="332.70" x2="306.00" y2="411.80" stroke="#1e1e1e" stroke-width="1.4" />
<line x1="306.00" y1="411.20" x2="384.00" y2="411.20" stroke="#1e1e1e" stroke-width="1.4" />
<line x1="302.00" y1="411.20" x2="306.00" y2="411.20" stroke="#1e1e1e" stroke-width="1.2" />
<text x="301.60" y="414.00" font-size="8.0" text-anchor="end" font-weight="normal" fill="#111" >0</text>
<line x1="302.00" y1="395.60" x2="306.00" y2="395.60" stroke="#1e1e1e" stroke-width="1.2" />
<text x="301.60" y="398.40" font-size="8.0" text-anchor="end" font-weight="normal" fill="#111" >500</text>
<line x1="302.00" y1="380.00" x2="306.00" y2="380.00" stroke="#1e1e1e" stroke-width="1.2" />
<text x="301.60" y="382.80" font-size="8.0" text-anchor="end" font-weight="normal" fill="#111" >1,000</text>
<line x1="302.00" y1="364.40" x2="306.00" y2="364.40" stroke="#1e1e1e" stroke-width="1.2" />
<text x="301.60" y="367.20" font-size="8.0" text-anchor="end" font-weight="normal" fill="#111" >1,500</text>
<line x1="302.00" y1="348.80" x2="306.00" y2="348.80" stroke="#1e1e1e" stroke-width="1.2" />
<text x="301.60" y="351.60" font-size="8.0" text-anchor="end" font-weight="normal" fill="#111" >2,000</text>
<line x1="302.00" y1="333.20" x2="306.00" y2="333.20" stroke="#1e1e1e" stroke-width="1.2" />
<text x="301.60" y="336.00" font-size="8.0" text-anchor="end" font-weight="normal" fill="#111" >2,500</text>
<line x1="317.30" y1="411.20" x2="317.30" y2="414.80" stroke="#1e1e1e" stroke-width="1.2" />
<line x1="345.00" y1="411.20" x2="345.00" y2="414.80" stroke="#1e1e1e" stroke-width="1.2" />
<line x1="371.00" y1="411.20" x2="371.00" y2="414.80" stroke="#1e1e1e" stroke-width="1.2" />
<text x="319.50" y="420.50" font-size="8.8" text-anchor="end" font-weight="normal" fill="#111" transform="rotate(-45 319.50 420.50)" >Control</text>
<text x="347.20" y="420.50" font-size="8.8" text-anchor="end" font-weight="normal" fill="#111" transform="rotate(-45 347.20 420.50)" >3.7 kBq/mL</text>
<text x="373.20" y="420.50" font-size="8.8" text-anchor="end" font-weight="normal" fill="#111" transform="rotate(-45 373.20 420.50)" >37 kBq/mL</text>
<g fill="#141414"><circle cx="316.1" cy="408.7" r="1.0"/><circle cx="318.4" cy="408.7" r="1.0"/><circle cx="311.3" cy="406.6" r="1.0"/><circle cx="313.3" cy="406.6" r="1.0"/><circle cx="315.2" cy="406.6" r="1.0"/><circle cx="317.3" cy="406.6" r="1.0"/><circle cx="319.5" cy="406.6" r="1.0"/><circle cx="321.3" cy="406.6" r="1.0"/><circle cx="323.6" cy="406.6" r="1.0"/><circle cx="316.0" cy="404.0" r="1.0"/></g>
<g stroke="#e02a2a" stroke-width="1.6" fill="none"><line x1="310.8" y1="406.5" x2="323.8" y2="406.5" stroke-width="1.9"/><line x1="317.3" y1="405.8" x2="317.3" y2="407.2" stroke-width="1.8"/><line x1="312.1" y1="405.8" x2="322.5" y2="405.8"/><line x1="312.1" y1="407.2" x2="322.5" y2="407.2"/></g>
<g fill="#141414"><circle cx="337.9" cy="405.6" r="1.0"/><circle cx="340.0" cy="405.6" r="1.0"/><circle cx="341.9" cy="405.6" r="1.0"/><circle cx="343.8" cy="405.6" r="1.0"/><circle cx="346.2" cy="405.6" r="1.0"/><circle cx="348.0" cy="405.6" r="1.0"/><circle cx="350.0" cy="405.6" r="1.0"/><circle cx="352.0" cy="405.6" r="1.0"/><circle cx="338.0" cy="401.4" r="1.0"/><circle cx="339.8" cy="401.4" r="1.0"/><circle cx="341.8" cy="401.4" r="1.0"/><circle cx="343.9" cy="401.4" r="1.0"/><circle cx="346.1" cy="401.4" r="1.0"/><circle cx="348.3" cy="401.4" r="1.0"/><circle cx="350.0" cy="401.4" r="1.0"/><circle cx="352.2" cy="401.4" r="1.0"/><circle cx="344.9" cy="393.0" r="1.0"/><circle cx="340.0" cy="399.3" r="1.0"/><circle cx="341.9" cy="399.3" r="1.0"/><circle cx="344.0" cy="399.3" r="1.0"/><circle cx="346.2" cy="399.3" r="1.0"/><circle cx="348.1" cy="399.3" r="1.0"/><circle cx="350.1" cy="399.3" r="1.0"/><circle cx="342.8" cy="409.8" r="1.0"/><circle cx="344.9" cy="409.8" r="1.0"/><circle cx="347.1" cy="409.8" r="1.0"/><circle cx="337.9" cy="407.7" r="1.0"/><circle cx="339.9" cy="407.7" r="1.0"/><circle cx="341.7" cy="407.7" r="1.0"/><circle cx="344.1" cy="407.7" r="1.0"/><circle cx="346.2" cy="407.7" r="1.0"/><circle cx="348.2" cy="407.7" r="1.0"/><circle cx="350.2" cy="407.7" r="1.0"/><circle cx="352.2" cy="407.7" r="1.0"/><circle cx="339.8" cy="395.1" r="1.0"/><circle cx="341.9" cy="395.1" r="1.0"/><circle cx="343.9" cy="395.1" r="1.0"/><circle cx="346.1" cy="395.1" r="1.0"/><circle cx="348.0" cy="395.1" r="1.0"/><circle cx="350.2" cy="395.1" r="1.0"/><circle cx="337.7" cy="403.5" r="1.0"/><circle cx="339.8" cy="403.5" r="1.0"/><circle cx="341.8" cy="403.5" r="1.0"/><circle cx="343.9" cy="403.5" r="1.0"/><circle cx="346.1" cy="403.5" r="1.0"/><circle cx="348.2" cy="403.5" r="1.0"/><circle cx="350.3" cy="403.5" r="1.0"/><circle cx="352.0" cy="403.5" r="1.0"/><circle cx="341.0" cy="397.2" r="1.0"/><circle cx="343.0" cy="397.2" r="1.0"/><circle cx="344.9" cy="397.2" r="1.0"/><circle cx="347.2" cy="397.2" r="1.0"/><circle cx="349.2" cy="397.2" r="1.0"/><circle cx="340.0" cy="385.4" r="1.0"/><circle cx="343.0" cy="385.4" r="1.0"/><circle cx="347.0" cy="385.4" r="1.0"/><circle cx="345.0" cy="389.5" r="1.0"/><circle cx="348.0" cy="391.0" r="1.0"/></g>
<g stroke="#e02a2a" stroke-width="1.6" fill="none"><line x1="337.2" y1="403.5" x2="352.8" y2="403.5" stroke-width="1.9"/><line x1="345.0" y1="399.5" x2="345.0" y2="407.5" stroke-width="1.8"/><line x1="338.8" y1="399.5" x2="351.2" y2="399.5"/><line x1="338.8" y1="407.5" x2="351.2" y2="407.5"/></g>
<g fill="#141414"><circle cx="363.7" cy="375.1" r="1.0"/><circle cx="365.9" cy="375.1" r="1.0"/><circle cx="368.0" cy="375.1" r="1.0"/><circle cx="370.0" cy="375.1" r="1.0"/><circle cx="372.1" cy="375.1" r="1.0"/><circle cx="374.1" cy="375.1" r="1.0"/><circle cx="376.3" cy="375.1" r="1.0"/><circle cx="378.1" cy="375.1" r="1.0"/><circle cx="371.1" cy="354.1" r="1.0"/><circle cx="368.0" cy="383.5" r="1.0"/><circle cx="369.8" cy="383.5" r="1.0"/><circle cx="371.9" cy="383.5" r="1.0"/><circle cx="374.0" cy="383.5" r="1.0"/><circle cx="367.0" cy="377.2" r="1.0"/><circle cx="369.0" cy="377.2" r="1.0"/><circle cx="370.8" cy="377.2" r="1.0"/><circle cx="373.1" cy="377.2" r="1.0"/><circle cx="375.0" cy="377.2" r="1.0"/><circle cx="370.1" cy="389.8" r="1.0"/><circle cx="371.9" cy="389.8" r="1.0"/><circle cx="370.8" cy="360.4" r="1.0"/><circle cx="370.9" cy="394.0" r="1.0"/><circle cx="368.9" cy="373.0" r="1.0"/><circle cx="371.0" cy="373.0" r="1.0"/><circle cx="373.1" cy="373.0" r="1.0"/><circle cx="368.8" cy="391.9" r="1.0"/><circle cx="370.9" cy="391.9" r="1.0"/><circle cx="372.9" cy="391.9" r="1.0"/><circle cx="369.1" cy="370.9" r="1.0"/><circle cx="371.0" cy="370.9" r="1.0"/><circle cx="373.0" cy="370.9" r="1.0"/><circle cx="369.8" cy="364.6" r="1.0"/><circle cx="372.1" cy="364.6" r="1.0"/><circle cx="366.7" cy="381.4" r="1.0"/><circle cx="368.8" cy="381.4" r="1.0"/><circle cx="371.1" cy="381.4" r="1.0"/><circle cx="373.1" cy="381.4" r="1.0"/><circle cx="375.2" cy="381.4" r="1.0"/><circle cx="369.1" cy="379.3" r="1.0"/><circle cx="370.9" cy="379.3" r="1.0"/><circle cx="373.2" cy="379.3" r="1.0"/><circle cx="369.1" cy="396.1" r="1.0"/><circle cx="371.1" cy="396.1" r="1.0"/><circle cx="373.1" cy="396.1" r="1.0"/><circle cx="368.0" cy="385.6" r="1.0"/><circle cx="369.8" cy="385.6" r="1.0"/><circle cx="371.9" cy="385.6" r="1.0"/><circle cx="374.1" cy="385.6" r="1.0"/><circle cx="370.0" cy="400.3" r="1.0"/><circle cx="372.1" cy="400.3" r="1.0"/><circle cx="371.0" cy="366.7" r="1.0"/><circle cx="366.7" cy="368.8" r="1.0"/><circle cx="368.9" cy="368.8" r="1.0"/><circle cx="370.9" cy="368.8" r="1.0"/><circle cx="373.1" cy="368.8" r="1.0"/><circle cx="375.0" cy="368.8" r="1.0"/><circle cx="368.0" cy="387.7" r="1.0"/><circle cx="370.0" cy="387.7" r="1.0"/><circle cx="372.0" cy="387.7" r="1.0"/><circle cx="374.1" cy="387.7" r="1.0"/><circle cx="371.2" cy="398.2" r="1.0"/><circle cx="370.9" cy="358.3" r="1.0"/><circle cx="370.0" cy="346.8" r="1.0"/><circle cx="369.0" cy="350.0" r="1.0"/><circle cx="373.0" cy="352.0" r="1.0"/></g>
<g stroke="#e02a2a" stroke-width="1.6" fill="none"><line x1="362.4" y1="381.0" x2="379.6" y2="381.0" stroke-width="1.9"/><line x1="371.0" y1="369.0" x2="371.0" y2="391.6" stroke-width="1.8"/><line x1="364.1" y1="369.0" x2="377.9" y2="369.0"/><line x1="364.1" y1="391.6" x2="377.9" y2="391.6"/></g>
<path d="M317.3,338.3 V344.5 M317.3,340.3 H371.0 M371.0,338.3 V344.5" fill="none" stroke="#2a2a2a" stroke-width="1.1"/>
<text x="344.15" y="341.70" font-size="6.8" text-anchor="middle" font-weight="bold" fill="#111" >****</text>
<path d="M317.3,371.2 V377.4 M317.3,373.2 H345.0 M345.0,371.2 V377.4" fill="none" stroke="#2a2a2a" stroke-width="1.1"/>
<text x="331.15" y="374.60" font-size="6.8" text-anchor="middle" font-weight="bold" fill="#111" >***</text>
<line x1="193.30" y1="480.80" x2="193.30" y2="560.10" stroke="#1e1e1e" stroke-width="1.4" />
<line x1="193.30" y1="559.50" x2="271.30" y2="559.50" stroke="#1e1e1e" stroke-width="1.4" />
<line x1="189.30" y1="559.50" x2="193.30" y2="559.50" stroke="#1e1e1e" stroke-width="1.2" />
<text x="188.90" y="562.30" font-size="8.0" text-anchor="end" font-weight="normal" fill="#111" >0</text>
<line x1="189.30" y1="543.86" x2="193.30" y2="543.86" stroke="#1e1e1e" stroke-width="1.2" />
<text x="188.90" y="546.66" font-size="8.0" text-anchor="end" font-weight="normal" fill="#111" >1,000</text>
<line x1="189.30" y1="528.22" x2="193.30" y2="528.22" stroke="#1e1e1e" stroke-width="1.2" />
<text x="188.90" y="531.02" font-size="8.0" text-anchor="end" font-weight="normal" fill="#111" >2,000</text>
<line x1="189.30" y1="512.58" x2="193.30" y2="512.58" stroke="#1e1e1e" stroke-width="1.2" />
<text x="188.90" y="515.38" font-size="8.0" text-anchor="end" font-weight="normal" fill="#111" >3,000</text>
<line x1="189.30" y1="496.94" x2="193.30" y2="496.94" stroke="#1e1e1e" stroke-width="1.2" />
<text x="188.90" y="499.74" font-size="8.0" text-anchor="end" font-weight="normal" fill="#111" >4,000</text>
<line x1="189.30" y1="481.30" x2="193.30" y2="481.30" stroke="#1e1e1e" stroke-width="1.2" />
<text x="188.90" y="484.10" font-size="8.0" text-anchor="end" font-weight="normal" fill="#111" >5,000</text>
<line x1="206.30" y1="559.50" x2="206.30" y2="563.10" stroke="#1e1e1e" stroke-width="1.2" />
<line x1="232.50" y1="559.50" x2="232.50" y2="563.10" stroke="#1e1e1e" stroke-width="1.2" />
<line x1="258.30" y1="559.50" x2="258.30" y2="563.10" stroke="#1e1e1e" stroke-width="1.2" />
<text x="208.50" y="568.80" font-size="8.8" text-anchor="end" font-weight="normal" fill="#111" transform="rotate(-45 208.50 568.80)" >Control</text>
<text x="234.70" y="568.80" font-size="8.8" text-anchor="end" font-weight="normal" fill="#111" transform="rotate(-45 234.70 568.80)" >3.7 kBq/mL</text>
<text x="260.50" y="568.80" font-size="8.8" text-anchor="end" font-weight="normal" fill="#111" transform="rotate(-45 260.50 568.80)" >37 kBq/mL</text>
<g fill="#141414"><circle cx="198.1" cy="534.0" r="1.0"/><circle cx="200.1" cy="534.0" r="1.0"/><circle cx="202.0" cy="534.0" r="1.0"/><circle cx="204.4" cy="534.0" r="1.0"/><circle cx="206.4" cy="534.0" r="1.0"/><circle cx="208.5" cy="534.0" r="1.0"/><circle cx="210.3" cy="534.0" r="1.0"/><circle cx="212.5" cy="534.0" r="1.0"/><circle cx="214.3" cy="534.0" r="1.0"/><circle cx="201.3" cy="544.5" r="1.0"/><circle cx="203.1" cy="544.5" r="1.0"/><circle cx="205.3" cy="544.5" r="1.0"/><circle cx="207.2" cy="544.5" r="1.0"/><circle cx="209.6" cy="544.5" r="1.0"/><circle cx="211.6" cy="544.5" r="1.0"/><circle cx="198.1" cy="531.9" r="1.0"/><circle cx="200.3" cy="531.9" r="1.0"/><circle cx="202.3" cy="531.9" r="1.0"/><circle cx="204.1" cy="531.9" r="1.0"/><circle cx="206.4" cy="531.9" r="1.0"/><circle cx="208.5" cy="531.9" r="1.0"/><circle cx="210.3" cy="531.9" r="1.0"/><circle cx="212.5" cy="531.9" r="1.0"/><circle cx="214.4" cy="531.9" r="1.0"/><circle cx="197.9" cy="527.7" r="1.0"/><circle cx="200.1" cy="527.7" r="1.0"/><circle cx="202.1" cy="527.7" r="1.0"/><circle cx="204.4" cy="527.7" r="1.0"/><circle cx="206.4" cy="527.7" r="1.0"/><circle cx="208.2" cy="527.7" r="1.0"/><circle cx="210.4" cy="527.7" r="1.0"/><circle cx="212.3" cy="527.7" r="1.0"/><circle cx="214.4" cy="527.7" r="1.0"/><circle cx="202.2" cy="523.5" r="1.0"/><circle cx="204.4" cy="523.5" r="1.0"/><circle cx="206.5" cy="523.5" r="1.0"/><circle cx="208.4" cy="523.5" r="1.0"/><circle cx="210.4" cy="523.5" r="1.0"/><circle cx="198.3" cy="525.6" r="1.0"/><circle cx="200.2" cy="525.6" r="1.0"/><circle cx="202.3" cy="525.6" r="1.0"/><circle cx="204.2" cy="525.6" r="1.0"/><circle cx="206.5" cy="525.6" r="1.0"/><circle cx="208.2" cy="525.6" r="1.0"/><circle cx="210.4" cy="525.6" r="1.0"/><circle cx="212.3" cy="525.6" r="1.0"/><circle cx="214.5" cy="525.6" r="1.0"/><circle cx="199.2" cy="538.2" r="1.0"/><circle cx="201.3" cy="538.2" r="1.0"/><circle cx="203.0" cy="538.2" r="1.0"/><circle cx="205.3" cy="538.2" r="1.0"/><circle cx="207.2" cy="538.2" r="1.0"/><circle cx="209.5" cy="538.2" r="1.0"/><circle cx="211.5" cy="538.2" r="1.0"/><circle cx="213.7" cy="538.2" r="1.0"/><circle cx="199.3" cy="529.8" r="1.0"/><circle cx="201.2" cy="529.8" r="1.0"/><circle cx="203.1" cy="529.8" r="1.0"/><circle cx="205.4" cy="529.8" r="1.0"/><circle cx="207.3" cy="529.8" r="1.0"/><circle cx="209.3" cy="529.8" r="1.0"/><circle cx="211.3" cy="529.8" r="1.0"/><circle cx="213.6" cy="529.8" r="1.0"/><circle cx="203.2" cy="519.3" r="1.0"/><circle cx="205.1" cy="519.3" r="1.0"/><circle cx="207.2" cy="519.3" r="1.0"/><circle cx="209.2" cy="519.3" r="1.0"/><circle cx="201.0" cy="536.1" r="1.0"/><circle cx="203.3" cy="536.1" r="1.0"/><circle cx="205.3" cy="536.1" r="1.0"/><circle cx="207.2" cy="536.1" r="1.0"/><circle cx="209.3" cy="536.1" r="1.0"/><circle cx="211.3" cy="536.1" r="1.0"/><circle cx="202.2" cy="540.3" r="1.0"/><circle cx="204.3" cy="540.3" r="1.0"/><circle cx="206.1" cy="540.3" r="1.0"/><circle cx="208.3" cy="540.3" r="1.0"/><circle cx="210.6" cy="540.3" r="1.0"/><circle cx="202.3" cy="542.4" r="1.0"/><circle cx="204.3" cy="542.4" r="1.0"/><circle cx="206.3" cy="542.4" r="1.0"/><circle cx="208.3" cy="542.4" r="1.0"/><circle cx="210.3" cy="542.4" r="1.0"/><circle cx="206.2" cy="517.2" r="1.0"/><circle cx="202.0" cy="521.4" r="1.0"/><circle cx="204.1" cy="521.4" r="1.0"/><circle cx="206.1" cy="521.4" r="1.0"/><circle cx="208.5" cy="521.4" r="1.0"/><circle cx="210.6" cy="521.4" r="1.0"/><circle cx="206.1" cy="550.8" r="1.0"/><circle cx="206.2" cy="548.7" r="1.0"/><circle cx="205.1" cy="546.6" r="1.0"/><circle cx="207.3" cy="546.6" r="1.0"/><circle cx="205.0" cy="507.5" r="1.0"/><circle cx="203.0" cy="512.0" r="1.0"/></g>
<g stroke="#e02a2a" stroke-width="1.6" fill="none"><line x1="197.1" y1="533.3" x2="215.5" y2="533.3" stroke-width="1.9"/><line x1="206.3" y1="526.0" x2="206.3" y2="540.0" stroke-width="1.8"/><line x1="198.9" y1="526.0" x2="213.7" y2="526.0"/><line x1="198.9" y1="540.0" x2="213.7" y2="540.0"/></g>
<g fill="#141414"><circle cx="225.4" cy="536.8" r="1.0"/><circle cx="227.2" cy="536.8" r="1.0"/><circle cx="229.4" cy="536.8" r="1.0"/><circle cx="231.5" cy="536.8" r="1.0"/><circle cx="233.4" cy="536.8" r="1.0"/><circle cx="235.7" cy="536.8" r="1.0"/><circle cx="237.7" cy="536.8" r="1.0"/><circle cx="239.6" cy="536.8" r="1.0"/><circle cx="229.3" cy="538.9" r="1.0"/><circle cx="231.4" cy="538.9" r="1.0"/><circle cx="233.6" cy="538.9" r="1.0"/><circle cx="235.6" cy="538.9" r="1.0"/><circle cx="228.2" cy="532.6" r="1.0"/><circle cx="230.5" cy="532.6" r="1.0"/><circle cx="232.5" cy="532.6" r="1.0"/><circle cx="234.4" cy="532.6" r="1.0"/><circle cx="236.6" cy="532.6" r="1.0"/><circle cx="228.5" cy="520.0" r="1.0"/><circle cx="230.5" cy="520.0" r="1.0"/><circle cx="232.3" cy="520.0" r="1.0"/><circle cx="234.4" cy="520.0" r="1.0"/><circle cx="236.7" cy="520.0" r="1.0"/><circle cx="224.5" cy="524.2" r="1.0"/><circle cx="226.4" cy="524.2" r="1.0"/><circle cx="228.6" cy="524.2" r="1.0"/><circle cx="230.4" cy="524.2" r="1.0"/><circle cx="232.4" cy="524.2" r="1.0"/><circle cx="234.6" cy="524.2" r="1.0"/><circle cx="236.5" cy="524.2" r="1.0"/><circle cx="238.8" cy="524.2" r="1.0"/><circle cx="240.8" cy="524.2" r="1.0"/><circle cx="224.1" cy="530.5" r="1.0"/><circle cx="226.3" cy="530.5" r="1.0"/><circle cx="228.5" cy="530.5" r="1.0"/><circle cx="230.3" cy="530.5" r="1.0"/><circle cx="232.4" cy="530.5" r="1.0"/><circle cx="234.4" cy="530.5" r="1.0"/><circle cx="236.7" cy="530.5" r="1.0"/><circle cx="238.8" cy="530.5" r="1.0"/><circle cx="240.8" cy="530.5" r="1.0"/><circle cx="224.5" cy="528.4" r="1.0"/><circle cx="226.2" cy="528.4" r="1.0"/><circle cx="228.5" cy="528.4" r="1.0"/><circle cx="230.6" cy="528.4" r="1.0"/><circle cx="232.6" cy="528.4" r="1.0"/><circle cx="234.4" cy="528.4" r="1.0"/><circle cx="236.5" cy="528.4" r="1.0"/><circle cx="238.8" cy="528.4" r="1.0"/><circle cx="240.8" cy="528.4" r="1.0"/><circle cx="231.4" cy="517.9" r="1.0"/><circle cx="233.4" cy="517.9" r="1.0"/><circle cx="224.1" cy="534.7" r="1.0"/><circle cx="226.5" cy="534.7" r="1.0"/><circle cx="228.4" cy="534.7" r="1.0"/><circle cx="230.3" cy="534.7" r="1.0"/><circle cx="232.4" cy="534.7" r="1.0"/><circle cx="234.7" cy="534.7" r="1.0"/><circle cx="236.8" cy="534.7" r="1.0"/><circle cx="238.5" cy="534.7" r="1.0"/><circle cx="240.6" cy="534.7" r="1.0"/><circle cx="227.5" cy="515.8" r="1.0"/><circle cx="229.4" cy="515.8" r="1.0"/><circle cx="231.6" cy="515.8" r="1.0"/><circle cx="233.5" cy="515.8" r="1.0"/><circle cx="235.5" cy="515.8" r="1.0"/><circle cx="237.8" cy="515.8" r="1.0"/><circle cx="224.2" cy="522.1" r="1.0"/><circle cx="226.5" cy="522.1" r="1.0"/><circle cx="228.5" cy="522.1" r="1.0"/><circle cx="230.3" cy="522.1" r="1.0"/><circle cx="232.7" cy="522.1" r="1.0"/><circle cx="234.7" cy="522.1" r="1.0"/><circle cx="236.4" cy="522.1" r="1.0"/><circle cx="238.7" cy="522.1" r="1.0"/><circle cx="240.7" cy="522.1" r="1.0"/><circle cx="231.4" cy="509.5" r="1.0"/><circle cx="233.6" cy="509.5" r="1.0"/><circle cx="232.7" cy="499.0" r="1.0"/><circle cx="226.5" cy="526.3" r="1.0"/><circle cx="228.5" cy="526.3" r="1.0"/><circle cx="230.4" cy="526.3" r="1.0"/><circle cx="232.6" cy="526.3" r="1.0"/><circle cx="234.7" cy="526.3" r="1.0"/><circle cx="236.5" cy="526.3" r="1.0"/><circle cx="238.8" cy="526.3" r="1.0"/><circle cx="231.4" cy="507.4" r="1.0"/><circle cx="233.7" cy="507.4" r="1.0"/><circle cx="232.4" cy="511.6" r="1.0"/><circle cx="230.5" cy="513.7" r="1.0"/><circle cx="232.5" cy="513.7" r="1.0"/><circle cx="234.4" cy="513.7" r="1.0"/><circle cx="230.0" cy="496.0" r="1.0"/><circle cx="233.0" cy="498.0" r="1.0"/><circle cx="228.0" cy="540.5" r="1.0"/></g>
<g stroke="#e02a2a" stroke-width="1.6" fill="none"><line x1="223.3" y1="525.8" x2="241.7" y2="525.8" stroke-width="1.9"/><line x1="232.5" y1="517.5" x2="232.5" y2="533.8" stroke-width="1.8"/><line x1="225.1" y1="517.5" x2="239.9" y2="517.5"/><line x1="225.1" y1="533.8" x2="239.9" y2="533.8"/></g>
<g fill="#141414"><circle cx="253.3" cy="518.1" r="1.0"/><circle cx="255.0" cy="518.1" r="1.0"/><circle cx="257.2" cy="518.1" r="1.0"/><circle cx="259.2" cy="518.1" r="1.0"/><circle cx="261.2" cy="518.1" r="1.0"/><circle cx="263.5" cy="518.1" r="1.0"/><circle cx="255.1" cy="534.9" r="1.0"/><circle cx="257.2" cy="534.9" r="1.0"/><circle cx="259.4" cy="534.9" r="1.0"/><circle cx="261.5" cy="534.9" r="1.0"/><circle cx="255.2" cy="516.0" r="1.0"/><circle cx="257.4" cy="516.0" r="1.0"/><circle cx="259.4" cy="516.0" r="1.0"/><circle cx="261.3" cy="516.0" r="1.0"/><circle cx="253.1" cy="520.2" r="1.0"/><circle cx="255.4" cy="520.2" r="1.0"/><circle cx="257.2" cy="520.2" r="1.0"/><circle cx="259.5" cy="520.2" r="1.0"/><circle cx="261.2" cy="520.2" r="1.0"/><circle cx="263.4" cy="520.2" r="1.0"/><circle cx="254.3" cy="507.6" r="1.0"/><circle cx="256.1" cy="507.6" r="1.0"/><circle cx="258.5" cy="507.6" r="1.0"/><circle cx="260.4" cy="507.6" r="1.0"/><circle cx="262.6" cy="507.6" r="1.0"/><circle cx="250.2" cy="524.4" r="1.0"/><circle cx="252.3" cy="524.4" r="1.0"/><circle cx="254.1" cy="524.4" r="1.0"/><circle cx="256.2" cy="524.4" r="1.0"/><circle cx="258.2" cy="524.4" r="1.0"/><circle cx="260.3" cy="524.4" r="1.0"/><circle cx="262.2" cy="524.4" r="1.0"/><circle cx="264.3" cy="524.4" r="1.0"/><circle cx="266.5" cy="524.4" r="1.0"/><circle cx="257.5" cy="532.8" r="1.0"/><circle cx="259.4" cy="532.8" r="1.0"/><circle cx="254.3" cy="511.8" r="1.0"/><circle cx="256.4" cy="511.8" r="1.0"/><circle cx="258.3" cy="511.8" r="1.0"/><circle cx="260.4" cy="511.8" r="1.0"/><circle cx="262.4" cy="511.8" r="1.0"/><circle cx="253.2" cy="530.7" r="1.0"/><circle cx="255.1" cy="530.7" r="1.0"/><circle cx="257.1" cy="530.7" r="1.0"/><circle cx="259.5" cy="530.7" r="1.0"/><circle cx="261.4" cy="530.7" r="1.0"/><circle cx="263.5" cy="530.7" r="1.0"/><circle cx="257.1" cy="541.2" r="1.0"/><circle cx="259.3" cy="541.2" r="1.0"/><circle cx="254.4" cy="503.4" r="1.0"/><circle cx="256.1" cy="503.4" r="1.0"/><circle cx="258.5" cy="503.4" r="1.0"/><circle cx="260.3" cy="503.4" r="1.0"/><circle cx="262.4" cy="503.4" r="1.0"/><circle cx="256.3" cy="537.0" r="1.0"/><circle cx="258.3" cy="537.0" r="1.0"/><circle cx="260.3" cy="537.0" r="1.0"/><circle cx="253.3" cy="513.9" r="1.0"/><circle cx="255.1" cy="513.9" r="1.0"/><circle cx="257.1" cy="513.9" r="1.0"/><circle cx="259.1" cy="513.9" r="1.0"/><circle cx="261.6" cy="513.9" r="1.0"/><circle cx="263.3" cy="513.9" r="1.0"/><circle cx="254.1" cy="509.7" r="1.0"/><circle cx="256.3" cy="509.7" r="1.0"/><circle cx="258.3" cy="509.7" r="1.0"/><circle cx="260.3" cy="509.7" r="1.0"/><circle cx="262.5" cy="509.7" r="1.0"/><circle cx="252.2" cy="528.6" r="1.0"/><circle cx="254.0" cy="528.6" r="1.0"/><circle cx="256.3" cy="528.6" r="1.0"/><circle cx="258.4" cy="528.6" r="1.0"/><circle cx="260.4" cy="528.6" r="1.0"/><circle cx="262.5" cy="528.6" r="1.0"/><circle cx="264.3" cy="528.6" r="1.0"/><circle cx="255.0" cy="505.5" r="1.0"/><circle cx="257.4" cy="505.5" r="1.0"/><circle cx="259.2" cy="505.5" r="1.0"/><circle cx="261.6" cy="505.5" r="1.0"/><circle cx="258.5" cy="495.0" r="1.0"/><circle cx="256.4" cy="499.2" r="1.0"/><circle cx="258.4" cy="499.2" r="1.0"/><circle cx="260.2" cy="499.2" r="1.0"/><circle cx="256.4" cy="522.3" r="1.0"/><circle cx="258.3" cy="522.3" r="1.0"/><circle cx="260.5" cy="522.3" r="1.0"/><circle cx="253.3" cy="526.5" r="1.0"/><circle cx="255.0" cy="526.5" r="1.0"/><circle cx="257.2" cy="526.5" r="1.0"/><circle cx="259.2" cy="526.5" r="1.0"/><circle cx="261.2" cy="526.5" r="1.0"/><circle cx="263.6" cy="526.5" r="1.0"/><circle cx="257.3" cy="501.3" r="1.0"/><circle cx="259.4" cy="501.3" r="1.0"/><circle cx="257.0" cy="495.5" r="1.0"/></g>
<g stroke="#e02a2a" stroke-width="1.6" fill="none"><line x1="249.1" y1="521.3" x2="267.5" y2="521.3" stroke-width="1.9"/><line x1="258.3" y1="508.8" x2="258.3" y2="531.3" stroke-width="1.8"/><line x1="250.9" y1="508.8" x2="265.7" y2="508.8"/><line x1="250.9" y1="531.3" x2="265.7" y2="531.3"/></g>
<path d="M206.3,480.0 V486.2 M206.3,482.0 H258.3 M258.3,480.0 V486.2" fill="none" stroke="#2a2a2a" stroke-width="1.1"/>
<text x="232.30" y="483.40" font-size="6.8" text-anchor="middle" font-weight="bold" fill="#111" >****</text>
<path d="M206.3,491.0 V497.2 M206.3,493.0 H232.5 M232.5,491.0 V497.2" fill="none" stroke="#2a2a2a" stroke-width="1.1"/>
<text x="219.40" y="494.40" font-size="6.8" text-anchor="middle" font-weight="bold" fill="#111" >***</text>
<line x1="301.90" y1="480.00" x2="301.90" y2="559.80" stroke="#1e1e1e" stroke-width="1.4" />
<line x1="301.90" y1="559.20" x2="379.20" y2="559.20" stroke="#1e1e1e" stroke-width="1.4" />
<line x1="297.90" y1="559.20" x2="301.90" y2="559.20" stroke="#1e1e1e" stroke-width="1.2" />
<text x="297.50" y="562.00" font-size="8.0" text-anchor="end" font-weight="normal" fill="#111" >0</text>
<line x1="297.90" y1="539.53" x2="301.90" y2="539.53" stroke="#1e1e1e" stroke-width="1.2" />
<text x="297.50" y="542.33" font-size="8.0" text-anchor="end" font-weight="normal" fill="#111" >500</text>
<line x1="297.90" y1="519.85" x2="301.90" y2="519.85" stroke="#1e1e1e" stroke-width="1.2" />
<text x="297.50" y="522.65" font-size="8.0" text-anchor="end" font-weight="normal" fill="#111" >1,000</text>
<line x1="297.90" y1="500.18" x2="301.90" y2="500.18" stroke="#1e1e1e" stroke-width="1.2" />
<text x="297.50" y="502.98" font-size="8.0" text-anchor="end" font-weight="normal" fill="#111" >1,500</text>
<line x1="297.90" y1="480.50" x2="301.90" y2="480.50" stroke="#1e1e1e" stroke-width="1.2" />
<text x="297.50" y="483.30" font-size="8.0" text-anchor="end" font-weight="normal" fill="#111" >2,000</text>
<line x1="314.60" y1="559.20" x2="314.60" y2="562.80" stroke="#1e1e1e" stroke-width="1.2" />
<line x1="340.70" y1="559.20" x2="340.70" y2="562.80" stroke="#1e1e1e" stroke-width="1.2" />
<line x1="367.00" y1="559.20" x2="367.00" y2="562.80" stroke="#1e1e1e" stroke-width="1.2" />
<text x="316.80" y="568.50" font-size="8.8" text-anchor="end" font-weight="normal" fill="#111" transform="rotate(-45 316.80 568.50)" >Control</text>
<text x="342.90" y="568.50" font-size="8.8" text-anchor="end" font-weight="normal" fill="#111" transform="rotate(-45 342.90 568.50)" >3.7 kBq/mL</text>
<text x="369.20" y="568.50" font-size="8.8" text-anchor="end" font-weight="normal" fill="#111" transform="rotate(-45 369.20 568.50)" >37 kBq/mL</text>
<g fill="#141414"><circle cx="310.6" cy="553.0" r="1.0"/><circle cx="312.7" cy="553.0" r="1.0"/><circle cx="314.8" cy="553.0" r="1.0"/><circle cx="316.5" cy="553.0" r="1.0"/><circle cx="318.6" cy="553.0" r="1.0"/><circle cx="306.3" cy="550.9" r="1.0"/><circle cx="308.4" cy="550.9" r="1.0"/><circle cx="310.4" cy="550.9" r="1.0"/><circle cx="312.5" cy="550.9" r="1.0"/><circle cx="314.6" cy="550.9" r="1.0"/><circle cx="316.7" cy="550.9" r="1.0"/><circle cx="318.7" cy="550.9" r="1.0"/><circle cx="320.8" cy="550.9" r="1.0"/><circle cx="322.6" cy="550.9" r="1.0"/><circle cx="313.8" cy="548.8" r="1.0"/><circle cx="315.6" cy="548.8" r="1.0"/><circle cx="318.0" cy="548.3" r="1.0"/><circle cx="311.0" cy="548.5" r="1.0"/></g>
<g stroke="#e02a2a" stroke-width="1.6" fill="none"><line x1="306.1" y1="551.3" x2="323.1" y2="551.3" stroke-width="1.9"/><line x1="314.6" y1="550.3" x2="314.6" y2="552.5" stroke-width="1.8"/><line x1="307.8" y1="550.3" x2="321.4" y2="550.3"/><line x1="307.8" y1="552.5" x2="321.4" y2="552.5"/></g>
<g fill="#141414"><circle cx="332.4" cy="541.0" r="1.0"/><circle cx="334.4" cy="541.0" r="1.0"/><circle cx="336.7" cy="541.0" r="1.0"/><circle cx="338.7" cy="541.0" r="1.0"/><circle cx="340.7" cy="541.0" r="1.0"/><circle cx="342.7" cy="541.0" r="1.0"/><circle cx="344.8" cy="541.0" r="1.0"/><circle cx="346.8" cy="541.0" r="1.0"/><circle cx="348.9" cy="541.0" r="1.0"/><circle cx="332.5" cy="534.7" r="1.0"/><circle cx="334.6" cy="534.7" r="1.0"/><circle cx="336.8" cy="534.7" r="1.0"/><circle cx="338.6" cy="534.7" r="1.0"/><circle cx="340.7" cy="534.7" r="1.0"/><circle cx="342.6" cy="534.7" r="1.0"/><circle cx="344.9" cy="534.7" r="1.0"/><circle cx="346.9" cy="534.7" r="1.0"/><circle cx="348.9" cy="534.7" r="1.0"/><circle cx="332.5" cy="545.2" r="1.0"/><circle cx="334.4" cy="545.2" r="1.0"/><circle cx="336.8" cy="545.2" r="1.0"/><circle cx="338.5" cy="545.2" r="1.0"/><circle cx="340.6" cy="545.2" r="1.0"/><circle cx="342.7" cy="545.2" r="1.0"/><circle cx="345.0" cy="545.2" r="1.0"/><circle cx="346.9" cy="545.2" r="1.0"/><circle cx="349.1" cy="545.2" r="1.0"/><circle cx="335.5" cy="536.8" r="1.0"/><circle cx="337.6" cy="536.8" r="1.0"/><circle cx="339.7" cy="536.8" r="1.0"/><circle cx="341.6" cy="536.8" r="1.0"/><circle cx="343.6" cy="536.8" r="1.0"/><circle cx="345.8" cy="536.8" r="1.0"/><circle cx="332.3" cy="530.5" r="1.0"/><circle cx="334.4" cy="530.5" r="1.0"/><circle cx="336.5" cy="530.5" r="1.0"/><circle cx="338.8" cy="530.5" r="1.0"/><circle cx="340.7" cy="530.5" r="1.0"/><circle cx="342.8" cy="530.5" r="1.0"/><circle cx="344.8" cy="530.5" r="1.0"/><circle cx="346.8" cy="530.5" r="1.0"/><circle cx="349.1" cy="530.5" r="1.0"/><circle cx="333.5" cy="543.1" r="1.0"/><circle cx="335.5" cy="543.1" r="1.0"/><circle cx="337.5" cy="543.1" r="1.0"/><circle cx="339.5" cy="543.1" r="1.0"/><circle cx="341.5" cy="543.1" r="1.0"/><circle cx="343.7" cy="543.1" r="1.0"/><circle cx="345.9" cy="543.1" r="1.0"/><circle cx="347.8" cy="543.1" r="1.0"/><circle cx="334.5" cy="532.6" r="1.0"/><circle cx="336.5" cy="532.6" r="1.0"/><circle cx="338.8" cy="532.6" r="1.0"/><circle cx="340.6" cy="532.6" r="1.0"/><circle cx="342.7" cy="532.6" r="1.0"/><circle cx="344.9" cy="532.6" r="1.0"/><circle cx="346.9" cy="532.6" r="1.0"/><circle cx="337.8" cy="549.4" r="1.0"/><circle cx="339.5" cy="549.4" r="1.0"/><circle cx="341.7" cy="549.4" r="1.0"/><circle cx="343.7" cy="549.4" r="1.0"/><circle cx="332.7" cy="538.9" r="1.0"/><circle cx="334.4" cy="538.9" r="1.0"/><circle cx="336.7" cy="538.9" r="1.0"/><circle cx="338.7" cy="538.9" r="1.0"/><circle cx="340.8" cy="538.9" r="1.0"/><circle cx="342.9" cy="538.9" r="1.0"/><circle cx="344.9" cy="538.9" r="1.0"/><circle cx="347.0" cy="538.9" r="1.0"/><circle cx="348.9" cy="538.9" r="1.0"/><circle cx="333.6" cy="547.3" r="1.0"/><circle cx="335.7" cy="547.3" r="1.0"/><circle cx="337.7" cy="547.3" r="1.0"/><circle cx="339.7" cy="547.3" r="1.0"/><circle cx="341.9" cy="547.3" r="1.0"/><circle cx="343.9" cy="547.3" r="1.0"/><circle cx="345.8" cy="547.3" r="1.0"/><circle cx="347.9" cy="547.3" r="1.0"/><circle cx="339.6" cy="528.4" r="1.0"/><circle cx="341.9" cy="528.4" r="1.0"/><circle cx="339.6" cy="524.2" r="1.0"/><circle cx="341.9" cy="524.2" r="1.0"/><circle cx="339.5" cy="526.3" r="1.0"/><circle cx="341.6" cy="526.3" r="1.0"/><circle cx="340.8" cy="522.1" r="1.0"/><circle cx="340.8" cy="520.0" r="1.0"/><circle cx="340.0" cy="517.5" r="1.0"/><circle cx="342.0" cy="518.5" r="1.0"/><circle cx="338.0" cy="519.5" r="1.0"/></g>
<g stroke="#e02a2a" stroke-width="1.6" fill="none"><line x1="331.9" y1="538.8" x2="349.5" y2="538.8" stroke-width="1.9"/><line x1="340.7" y1="532.6" x2="340.7" y2="544.6" stroke-width="1.8"/><line x1="333.7" y1="532.6" x2="347.7" y2="532.6"/><line x1="333.7" y1="544.6" x2="347.7" y2="544.6"/></g>
<g fill="#141414"><circle cx="364.9" cy="512.6" r="1.0"/><circle cx="367.0" cy="512.6" r="1.0"/><circle cx="369.1" cy="512.6" r="1.0"/><circle cx="358.8" cy="535.7" r="1.0"/><circle cx="360.7" cy="535.7" r="1.0"/><circle cx="363.0" cy="535.7" r="1.0"/><circle cx="365.0" cy="535.7" r="1.0"/><circle cx="367.0" cy="535.7" r="1.0"/><circle cx="369.1" cy="535.7" r="1.0"/><circle cx="371.0" cy="535.7" r="1.0"/><circle cx="373.3" cy="535.7" r="1.0"/><circle cx="375.1" cy="535.7" r="1.0"/><circle cx="361.8" cy="518.9" r="1.0"/><circle cx="364.0" cy="518.9" r="1.0"/><circle cx="366.0" cy="518.9" r="1.0"/><circle cx="368.0" cy="518.9" r="1.0"/><circle cx="369.9" cy="518.9" r="1.0"/><circle cx="372.1" cy="518.9" r="1.0"/><circle cx="358.8" cy="521.0" r="1.0"/><circle cx="360.9" cy="521.0" r="1.0"/><circle cx="363.0" cy="521.0" r="1.0"/><circle cx="364.9" cy="521.0" r="1.0"/><circle cx="366.8" cy="521.0" r="1.0"/><circle cx="368.9" cy="521.0" r="1.0"/><circle cx="371.1" cy="521.0" r="1.0"/><circle cx="373.3" cy="521.0" r="1.0"/><circle cx="375.3" cy="521.0" r="1.0"/><circle cx="366.1" cy="537.8" r="1.0"/><circle cx="367.9" cy="537.8" r="1.0"/><circle cx="361.8" cy="539.9" r="1.0"/><circle cx="364.0" cy="539.9" r="1.0"/><circle cx="365.9" cy="539.9" r="1.0"/><circle cx="368.0" cy="539.9" r="1.0"/><circle cx="370.2" cy="539.9" r="1.0"/><circle cx="372.0" cy="539.9" r="1.0"/><circle cx="359.0" cy="527.3" r="1.0"/><circle cx="360.7" cy="527.3" r="1.0"/><circle cx="362.9" cy="527.3" r="1.0"/><circle cx="365.0" cy="527.3" r="1.0"/><circle cx="367.0" cy="527.3" r="1.0"/><circle cx="369.1" cy="527.3" r="1.0"/><circle cx="371.0" cy="527.3" r="1.0"/><circle cx="373.0" cy="527.3" r="1.0"/><circle cx="375.3" cy="527.3" r="1.0"/><circle cx="365.1" cy="529.4" r="1.0"/><circle cx="366.8" cy="529.4" r="1.0"/><circle cx="368.9" cy="529.4" r="1.0"/><circle cx="360.0" cy="525.2" r="1.0"/><circle cx="361.7" cy="525.2" r="1.0"/><circle cx="363.8" cy="525.2" r="1.0"/><circle cx="366.0" cy="525.2" r="1.0"/><circle cx="368.0" cy="525.2" r="1.0"/><circle cx="370.2" cy="525.2" r="1.0"/><circle cx="372.1" cy="525.2" r="1.0"/><circle cx="374.3" cy="525.2" r="1.0"/><circle cx="364.8" cy="546.2" r="1.0"/><circle cx="366.9" cy="546.2" r="1.0"/><circle cx="368.9" cy="546.2" r="1.0"/><circle cx="359.9" cy="523.1" r="1.0"/><circle cx="362.1" cy="523.1" r="1.0"/><circle cx="363.9" cy="523.1" r="1.0"/><circle cx="365.9" cy="523.1" r="1.0"/><circle cx="367.9" cy="523.1" r="1.0"/><circle cx="369.9" cy="523.1" r="1.0"/><circle cx="372.3" cy="523.1" r="1.0"/><circle cx="374.4" cy="523.1" r="1.0"/><circle cx="364.1" cy="542.0" r="1.0"/><circle cx="365.8" cy="542.0" r="1.0"/><circle cx="367.9" cy="542.0" r="1.0"/><circle cx="370.3" cy="542.0" r="1.0"/><circle cx="365.0" cy="533.6" r="1.0"/><circle cx="367.2" cy="533.6" r="1.0"/><circle cx="369.2" cy="533.6" r="1.0"/><circle cx="363.0" cy="531.5" r="1.0"/><circle cx="364.8" cy="531.5" r="1.0"/><circle cx="367.1" cy="531.5" r="1.0"/><circle cx="369.1" cy="531.5" r="1.0"/><circle cx="371.3" cy="531.5" r="1.0"/><circle cx="365.9" cy="516.8" r="1.0"/><circle cx="368.0" cy="516.8" r="1.0"/><circle cx="366.8" cy="506.3" r="1.0"/><circle cx="366.1" cy="508.4" r="1.0"/><circle cx="368.1" cy="508.4" r="1.0"/><circle cx="363.0" cy="544.1" r="1.0"/><circle cx="365.0" cy="544.1" r="1.0"/><circle cx="367.1" cy="544.1" r="1.0"/><circle cx="369.0" cy="544.1" r="1.0"/><circle cx="370.9" cy="544.1" r="1.0"/><circle cx="365.8" cy="514.7" r="1.0"/><circle cx="367.9" cy="514.7" r="1.0"/><circle cx="366.8" cy="500.0" r="1.0"/><circle cx="367.1" cy="550.4" r="1.0"/><circle cx="366.0" cy="496.5" r="1.0"/><circle cx="367.0" cy="499.0" r="1.0"/><circle cx="369.0" cy="502.0" r="1.0"/></g>
<g stroke="#e02a2a" stroke-width="1.6" fill="none"><line x1="358.2" y1="532.6" x2="375.8" y2="532.6" stroke-width="1.9"/><line x1="367.0" y1="521.0" x2="367.0" y2="544.6" stroke-width="1.8"/><line x1="360.0" y1="521.0" x2="374.0" y2="521.0"/><line x1="360.0" y1="544.6" x2="374.0" y2="544.6"/></g>
<path d="M314.6,481.0 V487.2 M314.6,483.0 H367.0 M367.0,481.0 V487.2" fill="none" stroke="#2a2a2a" stroke-width="1.1"/>
<text x="340.80" y="484.40" font-size="6.8" text-anchor="middle" font-weight="bold" fill="#111" >****</text>
<path d="M314.6,490.2 V496.4 M314.6,492.2 H340.7 M340.7,490.2 V496.4" fill="none" stroke="#2a2a2a" stroke-width="1.1"/>
<text x="327.65" y="493.60" font-size="6.8" text-anchor="middle" font-weight="bold" fill="#111" >***</text>
<text x="388.00" y="304.90" font-size="15" text-anchor="start" font-weight="bold" fill="#111" >F</text>
<rect x="418.40" y="341.30" width="91.10" height="90.50" fill="#eff7d0" stroke="#555" stroke-width="0.7" />
<rect x="418.40" y="402.40" width="29.90" height="29.40" fill="#ffffff" stroke="none" stroke-width="0.8" />
<g fill="#e82020"><circle cx="441.7" cy="417.7" r="0.55"/><circle cx="436.0" cy="420.1" r="0.55"/><circle cx="441.1" cy="418.6" r="0.55"/><circle cx="440.7" cy="421.9" r="0.55"/><circle cx="443.4" cy="421.0" r="0.55"/><circle cx="439.0" cy="416.4" r="0.55"/><circle cx="436.4" cy="417.0" r="0.55"/><circle cx="430.3" cy="422.1" r="0.55"/><circle cx="440.6" cy="417.9" r="0.55"/><circle cx="443.2" cy="416.6" r="0.55"/><circle cx="441.0" cy="419.8" r="0.55"/><circle cx="434.4" cy="422.5" r="0.55"/><circle cx="440.6" cy="419.4" r="0.55"/><circle cx="436.3" cy="415.9" r="0.55"/><circle cx="446.2" cy="416.2" r="0.55"/><circle cx="438.6" cy="419.0" r="0.55"/><circle cx="445.3" cy="410.9" r="0.55"/><circle cx="445.4" cy="418.4" r="0.55"/><circle cx="443.3" cy="414.8" r="0.55"/><circle cx="441.2" cy="422.1" r="0.55"/><circle cx="439.7" cy="415.9" r="0.55"/><circle cx="438.5" cy="416.2" r="0.55"/><circle cx="443.0" cy="418.2" r="0.55"/><circle cx="438.3" cy="419.9" r="0.55"/><circle cx="436.1" cy="413.7" r="0.55"/><circle cx="449.0" cy="415.9" r="0.55"/><circle cx="446.0" cy="417.4" r="0.55"/><circle cx="439.3" cy="419.1" r="0.55"/><circle cx="437.0" cy="415.3" r="0.55"/><circle cx="439.3" cy="416.6" r="0.55"/><circle cx="442.7" cy="423.1" r="0.55"/><circle cx="435.8" cy="415.2" r="0.55"/><circle cx="442.8" cy="419.1" r="0.55"/><circle cx="444.2" cy="415.6" r="0.55"/><circle cx="442.2" cy="417.5" r="0.55"/><circle cx="434.1" cy="418.9" r="0.55"/><circle cx="434.4" cy="419.2" r="0.55"/><circle cx="438.4" cy="417.1" r="0.55"/><circle cx="447.9" cy="421.9" r="0.55"/><circle cx="441.6" cy="418.8" r="0.55"/><circle cx="437.3" cy="421.1" r="0.55"/><circle cx="442.4" cy="415.3" r="0.55"/><circle cx="434.0" cy="417.7" r="0.55"/><circle cx="439.4" cy="420.1" r="0.55"/><circle cx="436.3" cy="415.2" r="0.55"/><circle cx="441.6" cy="417.9" r="0.55"/><circle cx="443.5" cy="420.8" r="0.55"/><circle cx="436.8" cy="411.1" r="0.55"/><circle cx="440.3" cy="415.6" r="0.55"/><circle cx="441.0" cy="410.1" r="0.55"/><circle cx="439.7" cy="417.9" r="0.55"/><circle cx="438.0" cy="419.1" r="0.55"/><circle cx="440.5" cy="418.3" r="0.55"/><circle cx="444.8" cy="421.3" r="0.55"/><circle cx="444.5" cy="418.7" r="0.55"/><circle cx="440.6" cy="419.2" r="0.55"/><circle cx="441.2" cy="415.6" r="0.55"/><circle cx="441.5" cy="420.2" r="0.55"/><circle cx="438.6" cy="414.6" r="0.55"/><circle cx="442.2" cy="415.6" r="0.55"/><circle cx="434.7" cy="417.0" r="0.55"/><circle cx="434.8" cy="418.6" r="0.55"/><circle cx="438.2" cy="417.9" r="0.55"/><circle cx="444.2" cy="420.8" r="0.55"/><circle cx="439.7" cy="411.4" r="0.55"/><circle cx="438.4" cy="414.4" r="0.55"/><circle cx="443.3" cy="422.0" r="0.55"/><circle cx="442.6" cy="419.5" r="0.55"/><circle cx="442.1" cy="419.6" r="0.55"/><circle cx="438.7" cy="420.2" r="0.55"/><circle cx="439.0" cy="414.4" r="0.55"/><circle cx="440.3" cy="422.1" r="0.55"/><circle cx="439.4" cy="412.7" r="0.55"/><circle cx="444.6" cy="418.3" r="0.55"/><circle cx="442.1" cy="416.4" r="0.55"/><circle cx="441.8" cy="422.2" r="0.55"/><circle cx="437.7" cy="419.6" r="0.55"/><circle cx="441.4" cy="415.3" r="0.55"/><circle cx="440.8" cy="419.3" r="0.55"/><circle cx="437.0" cy="420.9" r="0.55"/><circle cx="436.1" cy="420.9" r="0.55"/><circle cx="442.4" cy="418.4" r="0.55"/><circle cx="437.3" cy="415.5" r="0.55"/><circle cx="432.0" cy="417.6" r="0.55"/><circle cx="439.6" cy="419.2" r="0.55"/><circle cx="443.8" cy="418.2" r="0.55"/><circle cx="438.9" cy="420.4" r="0.55"/><circle cx="440.1" cy="417.6" r="0.55"/><circle cx="435.8" cy="420.6" r="0.55"/><circle cx="437.7" cy="423.1" r="0.55"/><circle cx="437.0" cy="416.3" r="0.55"/><circle cx="440.4" cy="415.7" r="0.55"/><circle cx="434.8" cy="414.5" r="0.55"/><circle cx="437.1" cy="417.0" r="0.55"/><circle cx="443.7" cy="419.5" r="0.55"/><circle cx="441.3" cy="419.9" r="0.55"/><circle cx="432.2" cy="416.0" r="0.55"/><circle cx="438.1" cy="414.8" r="0.55"/><circle cx="441.8" cy="415.9" r="0.55"/><circle cx="436.1" cy="420.1" r="0.55"/><circle cx="437.7" cy="417.0" r="0.55"/><circle cx="434.6" cy="420.2" r="0.55"/><circle cx="440.3" cy="421.7" r="0.55"/><circle cx="448.1" cy="419.5" r="0.55"/><circle cx="438.8" cy="415.5" r="0.55"/><circle cx="446.0" cy="417.1" r="0.55"/><circle cx="442.4" cy="418.3" r="0.55"/><circle cx="427.9" cy="418.1" r="0.55"/><circle cx="440.7" cy="418.2" r="0.55"/><circle cx="439.6" cy="418.3" r="0.55"/><circle cx="436.4" cy="419.4" r="0.55"/><circle cx="438.3" cy="418.1" r="0.55"/><circle cx="446.1" cy="418.3" r="0.55"/><circle cx="436.4" cy="418.7" r="0.55"/><circle cx="434.9" cy="418.1" r="0.55"/><circle cx="445.2" cy="414.8" r="0.55"/><circle cx="439.6" cy="415.3" r="0.55"/><circle cx="440.7" cy="418.6" r="0.55"/><circle cx="440.7" cy="416.9" r="0.55"/><circle cx="433.2" cy="415.2" r="0.55"/><circle cx="438.5" cy="419.9" r="0.55"/><circle cx="432.9" cy="420.7" r="0.55"/><circle cx="437.4" cy="413.1" r="0.55"/><circle cx="445.3" cy="418.6" r="0.55"/><circle cx="436.7" cy="418.4" r="0.55"/><circle cx="442.3" cy="413.7" r="0.55"/><circle cx="444.7" cy="415.3" r="0.55"/><circle cx="443.0" cy="416.1" r="0.55"/><circle cx="434.4" cy="416.0" r="0.55"/><circle cx="438.2" cy="418.0" r="0.55"/><circle cx="434.1" cy="414.9" r="0.55"/><circle cx="441.2" cy="416.6" r="0.55"/><circle cx="438.2" cy="418.9" r="0.55"/><circle cx="435.3" cy="423.1" r="0.55"/><circle cx="437.4" cy="418.7" r="0.55"/><circle cx="439.5" cy="420.4" r="0.55"/><circle cx="438.5" cy="415.5" r="0.55"/><circle cx="440.9" cy="419.3" r="0.55"/><circle cx="439.5" cy="423.2" r="0.55"/><circle cx="442.8" cy="421.4" r="0.55"/><circle cx="444.6" cy="420.5" r="0.55"/><circle cx="439.4" cy="422.1" r="0.55"/><circle cx="438.8" cy="418.0" r="0.55"/><circle cx="445.1" cy="420.2" r="0.55"/><circle cx="436.2" cy="416.8" r="0.55"/><circle cx="436.9" cy="420.8" r="0.55"/><circle cx="438.8" cy="417.7" r="0.55"/><circle cx="437.6" cy="416.3" r="0.55"/><circle cx="442.4" cy="414.9" r="0.55"/><circle cx="440.3" cy="416.3" r="0.55"/><circle cx="438.8" cy="414.2" r="0.55"/><circle cx="444.2" cy="413.3" r="0.55"/><circle cx="435.7" cy="416.5" r="0.55"/><circle cx="440.3" cy="415.6" r="0.55"/><circle cx="434.3" cy="416.3" r="0.55"/><circle cx="436.5" cy="415.8" r="0.55"/><circle cx="445.7" cy="412.0" r="0.55"/><circle cx="439.9" cy="418.6" r="0.55"/><circle cx="438.5" cy="416.6" r="0.55"/><circle cx="443.8" cy="417.0" r="0.55"/><circle cx="433.9" cy="416.6" r="0.55"/><circle cx="441.3" cy="416.5" r="0.55"/><circle cx="437.9" cy="418.1" r="0.55"/><circle cx="438.2" cy="417.9" r="0.55"/><circle cx="442.3" cy="415.9" r="0.55"/><circle cx="434.4" cy="421.2" r="0.55"/><circle cx="441.4" cy="415.5" r="0.55"/><circle cx="435.0" cy="417.6" r="0.55"/><circle cx="440.7" cy="418.9" r="0.55"/><circle cx="441.3" cy="416.4" r="0.55"/><circle cx="438.5" cy="413.5" r="0.55"/><circle cx="437.4" cy="416.3" r="0.55"/><circle cx="443.7" cy="414.0" r="0.55"/><circle cx="446.5" cy="420.0" r="0.55"/><circle cx="438.2" cy="416.0" r="0.55"/><circle cx="440.8" cy="418.6" r="0.55"/><circle cx="442.5" cy="412.9" r="0.55"/><circle cx="438.8" cy="418.9" r="0.55"/><circle cx="443.1" cy="418.8" r="0.55"/><circle cx="439.7" cy="418.4" r="0.55"/><circle cx="438.1" cy="422.2" r="0.55"/><circle cx="443.2" cy="418.7" r="0.55"/><circle cx="438.0" cy="417.5" r="0.55"/><circle cx="441.3" cy="417.8" r="0.55"/><circle cx="445.7" cy="423.1" r="0.55"/><circle cx="443.4" cy="414.5" r="0.55"/><circle cx="442.4" cy="416.2" r="0.55"/><circle cx="440.0" cy="422.9" r="0.55"/><circle cx="433.9" cy="414.0" r="0.55"/><circle cx="437.8" cy="419.7" r="0.55"/><circle cx="438.6" cy="412.3" r="0.55"/><circle cx="441.3" cy="419.4" r="0.55"/><circle cx="444.3" cy="417.9" r="0.55"/><circle cx="443.9" cy="416.0" r="0.55"/><circle cx="443.1" cy="420.8" r="0.55"/><circle cx="439.1" cy="416.6" r="0.55"/><circle cx="444.3" cy="415.6" r="0.55"/><circle cx="436.9" cy="417.7" r="0.55"/><circle cx="442.0" cy="420.1" r="0.55"/><circle cx="438.4" cy="419.0" r="0.55"/><circle cx="437.0" cy="414.6" r="0.55"/><circle cx="448.6" cy="415.7" r="0.55"/><circle cx="434.7" cy="418.5" r="0.55"/><circle cx="437.4" cy="419.6" r="0.55"/><circle cx="431.2" cy="414.6" r="0.55"/><circle cx="443.7" cy="418.4" r="0.55"/><circle cx="436.8" cy="421.6" r="0.55"/><circle cx="443.7" cy="416.7" r="0.55"/><circle cx="444.0" cy="419.3" r="0.55"/><circle cx="435.6" cy="415.5" r="0.55"/><circle cx="440.6" cy="414.7" r="0.55"/><circle cx="434.5" cy="416.2" r="0.55"/><circle cx="442.5" cy="417.9" r="0.55"/><circle cx="436.4" cy="411.0" r="0.55"/><circle cx="442.6" cy="416.9" r="0.55"/><circle cx="442.7" cy="417.2" r="0.55"/><circle cx="438.1" cy="418.0" r="0.55"/><circle cx="437.3" cy="416.0" r="0.55"/><circle cx="436.6" cy="411.6" r="0.55"/><circle cx="443.5" cy="420.3" r="0.55"/><circle cx="437.8" cy="416.4" r="0.55"/><circle cx="447.8" cy="418.9" r="0.55"/><circle cx="438.4" cy="414.2" r="0.55"/><circle cx="445.8" cy="420.9" r="0.55"/><circle cx="436.9" cy="419.3" r="0.55"/><circle cx="436.5" cy="416.6" r="0.55"/><circle cx="443.7" cy="416.8" r="0.55"/><circle cx="437.4" cy="413.6" r="0.55"/><circle cx="441.9" cy="416.9" r="0.55"/><circle cx="435.6" cy="423.0" r="0.55"/><circle cx="437.4" cy="416.0" r="0.55"/><circle cx="441.3" cy="416.7" r="0.55"/><circle cx="440.0" cy="418.6" r="0.55"/><circle cx="438.1" cy="415.0" r="0.55"/><circle cx="438.8" cy="420.2" r="0.55"/><circle cx="439.9" cy="421.7" r="0.55"/><circle cx="440.2" cy="415.1" r="0.55"/><circle cx="440.7" cy="417.0" r="0.55"/><circle cx="438.2" cy="417.0" r="0.55"/><circle cx="443.2" cy="419.8" r="0.55"/><circle cx="441.1" cy="418.1" r="0.55"/><circle cx="442.2" cy="419.5" r="0.55"/><circle cx="441.4" cy="415.7" r="0.55"/><circle cx="444.2" cy="420.7" r="0.55"/><circle cx="444.6" cy="409.7" r="0.55"/><circle cx="441.9" cy="418.1" r="0.55"/><circle cx="430.4" cy="420.8" r="0.55"/><circle cx="433.2" cy="416.3" r="0.55"/><circle cx="440.6" cy="420.5" r="0.55"/><circle cx="439.1" cy="415.9" r="0.55"/><circle cx="433.7" cy="416.9" r="0.55"/><circle cx="442.1" cy="413.9" r="0.55"/><circle cx="445.4" cy="410.0" r="0.55"/><circle cx="438.0" cy="416.4" r="0.55"/><circle cx="440.2" cy="418.5" r="0.55"/><circle cx="443.9" cy="415.9" r="0.55"/><circle cx="434.5" cy="414.4" r="0.55"/><circle cx="438.8" cy="415.2" r="0.55"/><circle cx="438.8" cy="417.0" r="0.55"/><circle cx="439.9" cy="420.0" r="0.55"/><circle cx="441.4" cy="413.9" r="0.55"/><circle cx="437.3" cy="416.0" r="0.55"/><circle cx="438.0" cy="419.7" r="0.55"/><circle cx="443.1" cy="418.4" r="0.55"/><circle cx="445.3" cy="415.0" r="0.55"/><circle cx="440.0" cy="420.7" r="0.55"/><circle cx="439.9" cy="415.9" r="0.55"/><circle cx="437.2" cy="420.3" r="0.55"/><circle cx="442.8" cy="422.9" r="0.55"/><circle cx="447.0" cy="418.2" r="0.55"/><circle cx="438.3" cy="415.3" r="0.55"/><circle cx="438.4" cy="422.7" r="0.55"/><circle cx="439.4" cy="415.9" r="0.55"/><circle cx="439.4" cy="418.6" r="0.55"/><circle cx="437.5" cy="415.6" r="0.55"/><circle cx="437.8" cy="421.3" r="0.55"/><circle cx="440.0" cy="419.0" r="0.55"/><circle cx="442.0" cy="412.4" r="0.55"/><circle cx="441.5" cy="414.5" r="0.55"/><circle cx="438.6" cy="412.5" r="0.55"/><circle cx="442.8" cy="418.1" r="0.55"/><circle cx="436.6" cy="420.9" r="0.55"/><circle cx="437.0" cy="421.4" r="0.55"/><circle cx="439.6" cy="423.9" r="0.55"/><circle cx="435.8" cy="419.0" r="0.55"/><circle cx="435.6" cy="414.1" r="0.55"/><circle cx="437.8" cy="416.9" r="0.55"/><circle cx="435.9" cy="418.8" r="0.55"/><circle cx="445.7" cy="419.7" r="0.55"/><circle cx="437.3" cy="423.1" r="0.55"/><circle cx="434.2" cy="422.2" r="0.55"/><circle cx="439.4" cy="415.0" r="0.55"/><circle cx="440.0" cy="417.5" r="0.55"/><circle cx="443.9" cy="419.3" r="0.55"/><circle cx="438.8" cy="420.1" r="0.55"/><circle cx="438.9" cy="414.8" r="0.55"/><circle cx="435.7" cy="414.8" r="0.55"/><circle cx="440.8" cy="416.5" r="0.55"/><circle cx="442.7" cy="413.8" r="0.55"/><circle cx="440.2" cy="418.7" r="0.55"/><circle cx="440.5" cy="418.7" r="0.55"/><circle cx="430.0" cy="414.0" r="0.55"/><circle cx="437.3" cy="417.8" r="0.55"/><circle cx="444.4" cy="423.7" r="0.55"/><circle cx="437.6" cy="417.0" r="0.55"/><circle cx="443.0" cy="416.2" r="0.55"/><circle cx="444.0" cy="417.3" r="0.55"/><circle cx="439.9" cy="419.3" r="0.55"/><circle cx="446.2" cy="418.1" r="0.55"/><circle cx="437.4" cy="421.3" r="0.55"/><circle cx="441.9" cy="415.4" r="0.55"/><circle cx="434.6" cy="417.3" r="0.55"/><circle cx="438.0" cy="415.7" r="0.55"/><circle cx="440.9" cy="419.6" r="0.55"/><circle cx="444.8" cy="418.1" r="0.55"/><circle cx="436.3" cy="414.1" r="0.55"/><circle cx="434.9" cy="419.2" r="0.55"/><circle cx="433.8" cy="415.8" r="0.55"/><circle cx="435.2" cy="416.4" r="0.55"/><circle cx="438.1" cy="416.6" r="0.55"/><circle cx="445.6" cy="419.8" r="0.55"/><circle cx="438.6" cy="414.7" r="0.55"/><circle cx="441.8" cy="416.7" r="0.55"/><circle cx="439.6" cy="414.5" r="0.55"/><circle cx="441.4" cy="418.4" r="0.55"/><circle cx="442.2" cy="417.9" r="0.55"/><circle cx="440.7" cy="414.7" r="0.55"/><circle cx="443.8" cy="418.5" r="0.55"/><circle cx="445.9" cy="416.8" r="0.55"/><circle cx="438.8" cy="420.4" r="0.55"/><circle cx="438.3" cy="419.0" r="0.55"/><circle cx="439.6" cy="417.1" r="0.55"/><circle cx="432.3" cy="418.6" r="0.55"/><circle cx="440.2" cy="413.8" r="0.55"/><circle cx="444.1" cy="412.0" r="0.55"/><circle cx="438.9" cy="423.8" r="0.55"/><circle cx="443.1" cy="415.7" r="0.55"/><circle cx="442.8" cy="420.0" r="0.55"/><circle cx="428.6" cy="417.8" r="0.55"/><circle cx="440.1" cy="421.7" r="0.55"/><circle cx="440.3" cy="414.1" r="0.55"/><circle cx="438.4" cy="423.1" r="0.55"/><circle cx="439.8" cy="422.7" r="0.55"/><circle cx="443.2" cy="415.5" r="0.55"/><circle cx="442.6" cy="418.3" r="0.55"/><circle cx="442.0" cy="418.3" r="0.55"/><circle cx="437.3" cy="420.3" r="0.55"/><circle cx="440.4" cy="416.8" r="0.55"/><circle cx="439.9" cy="416.3" r="0.55"/><circle cx="439.9" cy="417.2" r="0.55"/><circle cx="435.2" cy="422.3" r="0.55"/><circle cx="440.8" cy="417.0" r="0.55"/><circle cx="434.3" cy="421.3" r="0.55"/><circle cx="441.7" cy="420.2" r="0.55"/><circle cx="439.8" cy="419.8" r="0.55"/><circle cx="438.1" cy="417.7" r="0.55"/><circle cx="445.2" cy="423.4" r="0.55"/><circle cx="440.4" cy="414.1" r="0.55"/><circle cx="441.2" cy="418.6" r="0.55"/><circle cx="436.6" cy="415.1" r="0.55"/><circle cx="448.7" cy="418.0" r="0.55"/><circle cx="438.1" cy="419.0" r="0.55"/><circle cx="435.0" cy="413.3" r="0.55"/><circle cx="437.6" cy="420.1" r="0.55"/><circle cx="443.6" cy="418.5" r="0.55"/><circle cx="446.5" cy="413.9" r="0.55"/><circle cx="436.0" cy="421.8" r="0.55"/><circle cx="442.9" cy="417.5" r="0.55"/><circle cx="441.7" cy="415.9" r="0.55"/><circle cx="447.1" cy="416.4" r="0.55"/><circle cx="443.4" cy="417.1" r="0.55"/><circle cx="437.9" cy="413.9" r="0.55"/><circle cx="439.0" cy="417.2" r="0.55"/><circle cx="436.9" cy="413.5" r="0.55"/><circle cx="435.4" cy="413.2" r="0.55"/><circle cx="444.7" cy="416.8" r="0.55"/><circle cx="437.5" cy="420.0" r="0.55"/><circle cx="441.0" cy="419.3" r="0.55"/><circle cx="443.6" cy="417.2" r="0.55"/><circle cx="433.0" cy="418.7" r="0.55"/><circle cx="440.3" cy="416.8" r="0.55"/><circle cx="436.4" cy="419.3" r="0.55"/><circle cx="440.5" cy="422.0" r="0.55"/><circle cx="435.2" cy="414.1" r="0.55"/><circle cx="441.5" cy="418.9" r="0.55"/><circle cx="438.6" cy="420.6" r="0.55"/><circle cx="439.9" cy="420.7" r="0.55"/><circle cx="439.3" cy="418.4" r="0.55"/><circle cx="442.0" cy="414.7" r="0.55"/><circle cx="443.3" cy="415.8" r="0.55"/><circle cx="443.0" cy="414.9" r="0.55"/><circle cx="432.0" cy="417.8" r="0.55"/><circle cx="434.0" cy="423.1" r="0.55"/><circle cx="432.9" cy="414.3" r="0.55"/><circle cx="443.5" cy="419.4" r="0.55"/><circle cx="437.5" cy="422.0" r="0.55"/><circle cx="445.7" cy="414.9" r="0.55"/><circle cx="439.0" cy="418.3" r="0.55"/><circle cx="442.3" cy="417.3" r="0.55"/><circle cx="442.1" cy="414.5" r="0.55"/><circle cx="439.4" cy="413.6" r="0.55"/><circle cx="440.3" cy="420.2" r="0.55"/><circle cx="436.0" cy="420.3" r="0.55"/><circle cx="435.6" cy="410.4" r="0.55"/><circle cx="436.9" cy="417.0" r="0.55"/><circle cx="442.7" cy="419.5" r="0.55"/><circle cx="435.7" cy="415.4" r="0.55"/><circle cx="442.2" cy="417.9" r="0.55"/><circle cx="436.1" cy="414.2" r="0.55"/><circle cx="441.7" cy="417.1" r="0.55"/><circle cx="439.5" cy="414.8" r="0.55"/><circle cx="435.7" cy="415.5" r="0.55"/><circle cx="436.1" cy="419.6" r="0.55"/><circle cx="440.7" cy="417.5" r="0.55"/><circle cx="426.8" cy="414.3" r="0.55"/><circle cx="441.8" cy="416.2" r="0.55"/><circle cx="441.5" cy="412.0" r="0.55"/><circle cx="436.4" cy="419.4" r="0.55"/><circle cx="436.7" cy="426.2" r="0.55"/><circle cx="442.1" cy="421.3" r="0.55"/><circle cx="474.7" cy="399.9" r="0.4" opacity="0.4"/><circle cx="458.6" cy="407.8" r="0.4" opacity="0.4"/><circle cx="473.2" cy="397.5" r="0.4" opacity="0.4"/><circle cx="456.9" cy="407.8" r="0.4" opacity="0.4"/><circle cx="455.5" cy="409.7" r="0.4" opacity="0.4"/><circle cx="458.1" cy="412.6" r="0.4" opacity="0.4"/><circle cx="473.8" cy="399.1" r="0.4" opacity="0.4"/><circle cx="458.5" cy="408.8" r="0.4" opacity="0.4"/><circle cx="474.9" cy="398.7" r="0.4" opacity="0.4"/><circle cx="467.1" cy="400.8" r="0.4" opacity="0.4"/><circle cx="457.0" cy="409.4" r="0.4" opacity="0.4"/><circle cx="469.6" cy="396.6" r="0.4" opacity="0.4"/><circle cx="462.7" cy="405.2" r="0.4" opacity="0.4"/><circle cx="457.3" cy="411.9" r="0.4" opacity="0.4"/><circle cx="456.0" cy="409.3" r="0.4" opacity="0.4"/><circle cx="447.0" cy="416.2" r="0.4" opacity="0.4"/><circle cx="455.4" cy="402.8" r="0.4" opacity="0.4"/><circle cx="472.9" cy="398.5" r="0.4" opacity="0.4"/><circle cx="463.9" cy="405.6" r="0.4" opacity="0.4"/><circle cx="452.0" cy="414.2" r="0.4" opacity="0.4"/><circle cx="450.4" cy="416.0" r="0.4" opacity="0.4"/><circle cx="461.7" cy="408.3" r="0.4" opacity="0.4"/><circle cx="471.7" cy="395.2" r="0.4" opacity="0.4"/><circle cx="459.7" cy="409.8" r="0.4" opacity="0.4"/><circle cx="473.5" cy="386.7" r="0.4" opacity="0.4"/></g>
<line x1="448.30" y1="341.30" x2="448.30" y2="431.80" stroke="#da5656" stroke-width="1.4" />
<line x1="418.40" y1="402.40" x2="509.50" y2="402.40" stroke="#da5656" stroke-width="1.4" />
<line x1="418.40" y1="341.00" x2="418.40" y2="432.30" stroke="#2a2a2a" stroke-width="1.1" />
<line x1="417.90" y1="431.80" x2="509.50" y2="431.80" stroke="#2a2a2a" stroke-width="1.1" />
<text x="462.20" y="338.70" font-size="8.8" text-anchor="middle" font-weight="normal" fill="#111" >Control</text>
<line x1="416.00" y1="431.80" x2="418.40" y2="431.80" stroke="#2a2a2a" stroke-width="0.9" />
<text x="415.00" y="433.90" font-size="6.0" text-anchor="end" font-weight="bold" fill="#111" >0</text>
<line x1="418.40" y1="431.80" x2="418.40" y2="434.20" stroke="#2a2a2a" stroke-width="0.9" />
<text x="418.40" y="440.50" font-size="6.0" text-anchor="middle" font-weight="bold" fill="#111" >0</text>
<line x1="417.10" y1="426.14" x2="418.40" y2="426.14" stroke="#2a2a2a" stroke-width="0.6" />
<line x1="424.09" y1="431.80" x2="424.09" y2="433.10" stroke="#2a2a2a" stroke-width="0.6" />
<line x1="417.10" y1="420.49" x2="418.40" y2="420.49" stroke="#2a2a2a" stroke-width="0.6" />
<line x1="429.79" y1="431.80" x2="429.79" y2="433.10" stroke="#2a2a2a" stroke-width="0.6" />
<line x1="417.10" y1="414.83" x2="418.40" y2="414.83" stroke="#2a2a2a" stroke-width="0.6" />
<line x1="435.48" y1="431.80" x2="435.48" y2="433.10" stroke="#2a2a2a" stroke-width="0.6" />
<line x1="416.00" y1="409.18" x2="418.40" y2="409.18" stroke="#2a2a2a" stroke-width="0.9" />
<text x="415.00" y="411.28" font-size="6.0" text-anchor="end" font-weight="bold" fill="#111" >1</text>
<line x1="441.17" y1="431.80" x2="441.17" y2="434.20" stroke="#2a2a2a" stroke-width="0.9" />
<text x="441.17" y="440.50" font-size="6.0" text-anchor="middle" font-weight="bold" fill="#111" >1</text>
<line x1="417.10" y1="403.52" x2="418.40" y2="403.52" stroke="#2a2a2a" stroke-width="0.6" />
<line x1="446.87" y1="431.80" x2="446.87" y2="433.10" stroke="#2a2a2a" stroke-width="0.6" />
<line x1="417.10" y1="397.86" x2="418.40" y2="397.86" stroke="#2a2a2a" stroke-width="0.6" />
<line x1="452.56" y1="431.80" x2="452.56" y2="433.10" stroke="#2a2a2a" stroke-width="0.6" />
<line x1="417.10" y1="392.21" x2="418.40" y2="392.21" stroke="#2a2a2a" stroke-width="0.6" />
<line x1="458.26" y1="431.80" x2="458.26" y2="433.10" stroke="#2a2a2a" stroke-width="0.6" />
<line x1="416.00" y1="386.55" x2="418.40" y2="386.55" stroke="#2a2a2a" stroke-width="0.9" />
<text x="415.00" y="388.65" font-size="6.0" text-anchor="end" font-weight="bold" fill="#111" >2</text>
<line x1="463.95" y1="431.80" x2="463.95" y2="434.20" stroke="#2a2a2a" stroke-width="0.9" />
<text x="463.95" y="440.50" font-size="6.0" text-anchor="middle" font-weight="bold" fill="#111" >2</text>
<line x1="417.10" y1="380.89" x2="418.40" y2="380.89" stroke="#2a2a2a" stroke-width="0.6" />
<line x1="469.64" y1="431.80" x2="469.64" y2="433.10" stroke="#2a2a2a" stroke-width="0.6" />
<line x1="417.10" y1="375.24" x2="418.40" y2="375.24" stroke="#2a2a2a" stroke-width="0.6" />
<line x1="475.34" y1="431.80" x2="475.34" y2="433.10" stroke="#2a2a2a" stroke-width="0.6" />
<line x1="417.10" y1="369.58" x2="418.40" y2="369.58" stroke="#2a2a2a" stroke-width="0.6" />
<line x1="481.03" y1="431.80" x2="481.03" y2="433.10" stroke="#2a2a2a" stroke-width="0.6" />
<line x1="416.00" y1="363.93" x2="418.40" y2="363.93" stroke="#2a2a2a" stroke-width="0.9" />
<text x="415.00" y="366.03" font-size="6.0" text-anchor="end" font-weight="bold" fill="#111" >3</text>
<line x1="486.73" y1="431.80" x2="486.73" y2="434.20" stroke="#2a2a2a" stroke-width="0.9" />
<text x="486.73" y="440.50" font-size="6.0" text-anchor="middle" font-weight="bold" fill="#111" >3</text>
<line x1="417.10" y1="358.27" x2="418.40" y2="358.27" stroke="#2a2a2a" stroke-width="0.6" />
<line x1="492.42" y1="431.80" x2="492.42" y2="433.10" stroke="#2a2a2a" stroke-width="0.6" />
<line x1="417.10" y1="352.61" x2="418.40" y2="352.61" stroke="#2a2a2a" stroke-width="0.6" />
<line x1="498.11" y1="431.80" x2="498.11" y2="433.10" stroke="#2a2a2a" stroke-width="0.6" />
<line x1="417.10" y1="346.96" x2="418.40" y2="346.96" stroke="#2a2a2a" stroke-width="0.6" />
<line x1="503.81" y1="431.80" x2="503.81" y2="433.10" stroke="#2a2a2a" stroke-width="0.6" />
<line x1="416.00" y1="341.30" x2="418.40" y2="341.30" stroke="#2a2a2a" stroke-width="0.9" />
<text x="415.00" y="343.40" font-size="6.0" text-anchor="end" font-weight="bold" fill="#111" >4</text>
<line x1="509.50" y1="431.80" x2="509.50" y2="434.20" stroke="#2a2a2a" stroke-width="0.9" />
<text x="509.50" y="440.50" font-size="6.0" text-anchor="middle" font-weight="bold" fill="#111" >4</text>
<text x="405.40" y="349.00" font-size="4.6" text-anchor="middle" font-weight="bold" fill="#111" transform="rotate(-90 405.40 349.00)" >Pos.</text>
<text x="405.40" y="424.70" font-size="4.6" text-anchor="middle" font-weight="bold" fill="#111" transform="rotate(-90 405.40 424.70)" >Neg.</text>
<text x="423.90" y="448.80" font-size="4.6" text-anchor="middle" font-weight="bold" fill="#111" >Neg.</text>
<text x="503.80" y="448.80" font-size="4.6" text-anchor="middle" font-weight="bold" fill="#111" >Pos.</text>
<text x="405.70" y="385.35" font-size="6.4" text-anchor="middle" font-weight="normal" fill="#111" transform="rotate(-90 405.70 385.35)"  textLength="47" lengthAdjust="spacingAndGlyphs">ATM PHOSPHO.</text>
<rect x="418.40" y="454.40" width="91.10" height="90.10" fill="#eff7d0" stroke="#555" stroke-width="0.7" />
<rect x="418.40" y="515.00" width="29.90" height="29.50" fill="#ffffff" stroke="none" stroke-width="0.8" />
<g fill="#e02020"><circle cx="460.1" cy="496.9" r="0.55"/><circle cx="457.2" cy="503.6" r="0.55"/><circle cx="452.1" cy="505.3" r="0.55"/><circle cx="461.7" cy="495.9" r="0.55"/><circle cx="458.9" cy="495.5" r="0.55"/><circle cx="463.7" cy="490.8" r="0.55"/><circle cx="457.5" cy="499.1" r="0.55"/><circle cx="457.1" cy="498.5" r="0.55"/><circle cx="463.4" cy="492.8" r="0.55"/><circle cx="459.7" cy="493.5" r="0.55"/><circle cx="459.7" cy="496.3" r="0.55"/><circle cx="459.4" cy="497.5" r="0.55"/><circle cx="459.2" cy="497.1" r="0.55"/><circle cx="458.1" cy="498.7" r="0.55"/><circle cx="458.6" cy="498.0" r="0.55"/><circle cx="456.8" cy="500.8" r="0.55"/><circle cx="456.8" cy="504.2" r="0.55"/><circle cx="462.4" cy="496.9" r="0.55"/><circle cx="456.0" cy="498.2" r="0.55"/><circle cx="451.5" cy="504.2" r="0.55"/><circle cx="455.1" cy="501.1" r="0.55"/><circle cx="457.0" cy="501.0" r="0.55"/><circle cx="450.9" cy="509.9" r="0.55"/><circle cx="456.6" cy="500.5" r="0.55"/><circle cx="451.5" cy="506.3" r="0.55"/><circle cx="453.0" cy="505.2" r="0.55"/><circle cx="458.9" cy="498.0" r="0.55"/><circle cx="456.8" cy="499.4" r="0.55"/><circle cx="457.4" cy="501.1" r="0.55"/><circle cx="458.2" cy="498.9" r="0.55"/><circle cx="466.3" cy="489.5" r="0.55"/><circle cx="452.1" cy="500.6" r="0.55"/><circle cx="449.0" cy="508.8" r="0.55"/><circle cx="459.7" cy="494.5" r="0.55"/><circle cx="453.3" cy="503.4" r="0.55"/><circle cx="459.1" cy="499.3" r="0.55"/><circle cx="456.6" cy="498.9" r="0.55"/><circle cx="459.1" cy="495.4" r="0.55"/><circle cx="451.3" cy="503.7" r="0.55"/><circle cx="456.0" cy="499.9" r="0.55"/><circle cx="457.6" cy="499.0" r="0.55"/><circle cx="466.5" cy="489.9" r="0.55"/><circle cx="448.5" cy="506.3" r="0.55"/><circle cx="457.3" cy="497.6" r="0.55"/><circle cx="464.9" cy="489.9" r="0.55"/><circle cx="456.3" cy="500.7" r="0.55"/><circle cx="457.3" cy="500.5" r="0.55"/><circle cx="456.9" cy="500.4" r="0.55"/><circle cx="452.7" cy="499.0" r="0.55"/><circle cx="460.8" cy="498.9" r="0.55"/><circle cx="453.6" cy="502.3" r="0.55"/><circle cx="459.9" cy="495.3" r="0.55"/><circle cx="457.8" cy="498.3" r="0.55"/><circle cx="459.6" cy="496.5" r="0.55"/><circle cx="464.9" cy="491.0" r="0.55"/><circle cx="455.2" cy="498.7" r="0.55"/><circle cx="457.0" cy="497.7" r="0.55"/><circle cx="460.5" cy="497.0" r="0.55"/><circle cx="466.3" cy="487.7" r="0.55"/><circle cx="459.1" cy="499.4" r="0.55"/><circle cx="451.0" cy="507.6" r="0.55"/><circle cx="464.2" cy="491.7" r="0.55"/><circle cx="458.8" cy="500.2" r="0.55"/><circle cx="458.9" cy="498.1" r="0.55"/><circle cx="459.9" cy="494.9" r="0.55"/><circle cx="464.1" cy="491.0" r="0.55"/><circle cx="457.2" cy="498.6" r="0.55"/><circle cx="446.7" cy="507.8" r="0.55"/><circle cx="456.3" cy="500.4" r="0.55"/><circle cx="464.5" cy="496.8" r="0.55"/><circle cx="460.1" cy="496.0" r="0.55"/><circle cx="456.7" cy="502.9" r="0.55"/><circle cx="455.3" cy="501.5" r="0.55"/><circle cx="462.3" cy="493.5" r="0.55"/><circle cx="457.3" cy="499.7" r="0.55"/><circle cx="451.7" cy="505.4" r="0.55"/><circle cx="458.6" cy="498.6" r="0.55"/><circle cx="454.1" cy="498.4" r="0.55"/><circle cx="455.6" cy="502.9" r="0.55"/><circle cx="453.9" cy="501.3" r="0.55"/><circle cx="460.1" cy="497.4" r="0.55"/><circle cx="458.9" cy="498.9" r="0.55"/><circle cx="461.1" cy="496.2" r="0.55"/><circle cx="460.8" cy="499.3" r="0.55"/><circle cx="456.0" cy="505.5" r="0.55"/><circle cx="457.9" cy="497.2" r="0.55"/><circle cx="461.3" cy="497.1" r="0.55"/><circle cx="453.5" cy="503.9" r="0.55"/><circle cx="461.5" cy="496.3" r="0.55"/><circle cx="456.7" cy="497.8" r="0.55"/><circle cx="459.6" cy="501.3" r="0.55"/><circle cx="457.5" cy="505.5" r="0.55"/><circle cx="457.4" cy="499.0" r="0.55"/><circle cx="455.9" cy="501.3" r="0.55"/><circle cx="457.4" cy="497.2" r="0.55"/><circle cx="466.3" cy="491.9" r="0.55"/><circle cx="457.8" cy="496.2" r="0.55"/><circle cx="456.2" cy="500.3" r="0.55"/><circle cx="460.5" cy="495.6" r="0.55"/><circle cx="453.4" cy="503.3" r="0.55"/><circle cx="457.0" cy="499.8" r="0.55"/><circle cx="460.1" cy="494.8" r="0.55"/><circle cx="453.4" cy="506.2" r="0.55"/><circle cx="459.9" cy="493.9" r="0.55"/><circle cx="459.8" cy="495.5" r="0.55"/><circle cx="460.7" cy="496.7" r="0.55"/><circle cx="451.6" cy="503.6" r="0.55"/><circle cx="455.7" cy="498.3" r="0.55"/><circle cx="452.5" cy="502.9" r="0.55"/><circle cx="457.0" cy="499.5" r="0.55"/><circle cx="454.7" cy="501.8" r="0.55"/><circle cx="462.5" cy="494.7" r="0.55"/><circle cx="458.5" cy="496.7" r="0.55"/><circle cx="454.0" cy="500.5" r="0.55"/><circle cx="452.8" cy="500.6" r="0.55"/><circle cx="456.7" cy="499.2" r="0.55"/><circle cx="454.6" cy="501.1" r="0.55"/><circle cx="453.8" cy="504.7" r="0.55"/><circle cx="461.1" cy="497.6" r="0.55"/><circle cx="458.7" cy="497.4" r="0.55"/><circle cx="459.6" cy="494.2" r="0.55"/><circle cx="453.7" cy="505.3" r="0.55"/><circle cx="459.7" cy="497.2" r="0.55"/><circle cx="462.5" cy="493.5" r="0.55"/><circle cx="459.0" cy="498.4" r="0.55"/><circle cx="453.9" cy="504.0" r="0.55"/><circle cx="459.8" cy="496.5" r="0.55"/><circle cx="454.3" cy="501.0" r="0.55"/><circle cx="448.9" cy="507.0" r="0.55"/><circle cx="463.8" cy="494.7" r="0.55"/><circle cx="456.5" cy="498.7" r="0.55"/><circle cx="463.0" cy="495.3" r="0.55"/><circle cx="458.8" cy="496.2" r="0.55"/><circle cx="461.5" cy="496.7" r="0.55"/><circle cx="455.2" cy="500.0" r="0.55"/><circle cx="456.5" cy="500.8" r="0.55"/><circle cx="459.7" cy="497.7" r="0.55"/><circle cx="457.2" cy="498.4" r="0.55"/><circle cx="459.9" cy="498.6" r="0.55"/><circle cx="459.0" cy="498.9" r="0.55"/><circle cx="456.7" cy="498.6" r="0.55"/><circle cx="456.1" cy="500.4" r="0.55"/><circle cx="452.0" cy="504.8" r="0.55"/><circle cx="455.7" cy="501.6" r="0.55"/><circle cx="460.5" cy="496.1" r="0.55"/><circle cx="456.5" cy="500.7" r="0.55"/><circle cx="454.4" cy="503.6" r="0.55"/><circle cx="462.9" cy="494.2" r="0.55"/><circle cx="462.4" cy="492.8" r="0.55"/><circle cx="451.9" cy="506.5" r="0.55"/><circle cx="464.8" cy="489.3" r="0.55"/><circle cx="462.8" cy="492.2" r="0.55"/><circle cx="462.6" cy="492.3" r="0.55"/><circle cx="457.2" cy="500.4" r="0.55"/><circle cx="452.3" cy="505.2" r="0.55"/><circle cx="458.1" cy="500.3" r="0.55"/><circle cx="458.6" cy="498.1" r="0.55"/><circle cx="459.2" cy="501.2" r="0.55"/><circle cx="459.7" cy="497.1" r="0.55"/><circle cx="451.7" cy="508.7" r="0.55"/><circle cx="458.1" cy="499.0" r="0.55"/><circle cx="460.9" cy="495.8" r="0.55"/><circle cx="462.9" cy="493.2" r="0.55"/><circle cx="459.9" cy="496.9" r="0.55"/><circle cx="460.4" cy="496.6" r="0.55"/><circle cx="459.7" cy="497.3" r="0.55"/><circle cx="459.2" cy="498.6" r="0.55"/><circle cx="454.6" cy="500.8" r="0.55"/><circle cx="457.9" cy="499.0" r="0.55"/><circle cx="460.7" cy="492.6" r="0.55"/><circle cx="462.3" cy="492.7" r="0.55"/><circle cx="455.1" cy="502.5" r="0.55"/><circle cx="459.9" cy="498.5" r="0.55"/><circle cx="451.6" cy="508.0" r="0.55"/><circle cx="460.7" cy="498.5" r="0.55"/><circle cx="455.5" cy="498.4" r="0.55"/><circle cx="456.6" cy="499.7" r="0.55"/><circle cx="461.1" cy="497.0" r="0.55"/><circle cx="448.9" cy="505.6" r="0.55"/><circle cx="457.5" cy="497.8" r="0.55"/><circle cx="462.6" cy="496.2" r="0.55"/><circle cx="465.4" cy="490.6" r="0.55"/><circle cx="462.3" cy="495.1" r="0.55"/><circle cx="458.1" cy="497.8" r="0.55"/><circle cx="462.4" cy="495.3" r="0.55"/><circle cx="457.4" cy="499.0" r="0.55"/><circle cx="451.9" cy="506.1" r="0.55"/><circle cx="457.2" cy="497.5" r="0.55"/><circle cx="462.5" cy="493.7" r="0.55"/><circle cx="453.8" cy="502.8" r="0.55"/><circle cx="453.0" cy="502.6" r="0.55"/><circle cx="453.4" cy="504.0" r="0.55"/><circle cx="451.4" cy="504.6" r="0.55"/><circle cx="457.6" cy="498.6" r="0.55"/><circle cx="457.4" cy="497.7" r="0.55"/><circle cx="455.8" cy="501.7" r="0.55"/><circle cx="457.3" cy="501.3" r="0.55"/><circle cx="456.1" cy="500.9" r="0.55"/><circle cx="457.6" cy="501.1" r="0.55"/><circle cx="455.2" cy="503.3" r="0.55"/><circle cx="462.2" cy="495.0" r="0.55"/><circle cx="461.4" cy="492.9" r="0.55"/><circle cx="451.0" cy="505.0" r="0.55"/><circle cx="456.4" cy="501.2" r="0.55"/><circle cx="455.1" cy="500.8" r="0.55"/><circle cx="458.4" cy="501.5" r="0.55"/><circle cx="455.4" cy="501.4" r="0.55"/><circle cx="460.4" cy="499.1" r="0.55"/><circle cx="451.5" cy="502.3" r="0.55"/><circle cx="456.6" cy="498.5" r="0.55"/><circle cx="453.5" cy="499.6" r="0.55"/><circle cx="461.8" cy="491.3" r="0.55"/><circle cx="459.8" cy="497.7" r="0.55"/><circle cx="462.2" cy="497.1" r="0.55"/><circle cx="454.8" cy="499.7" r="0.55"/><circle cx="459.8" cy="498.5" r="0.55"/><circle cx="457.0" cy="499.1" r="0.55"/><circle cx="460.8" cy="493.4" r="0.55"/><circle cx="462.8" cy="490.2" r="0.55"/><circle cx="454.6" cy="502.2" r="0.55"/><circle cx="455.4" cy="503.0" r="0.55"/><circle cx="454.9" cy="501.0" r="0.55"/><circle cx="457.8" cy="501.2" r="0.55"/><circle cx="457.4" cy="498.9" r="0.55"/><circle cx="460.9" cy="493.6" r="0.55"/><circle cx="453.1" cy="504.0" r="0.55"/><circle cx="458.3" cy="496.3" r="0.55"/><circle cx="457.3" cy="500.1" r="0.55"/><circle cx="457.3" cy="500.0" r="0.55"/><circle cx="458.9" cy="500.5" r="0.55"/><circle cx="454.5" cy="505.9" r="0.55"/><circle cx="451.4" cy="506.6" r="0.55"/><circle cx="462.8" cy="498.6" r="0.55"/><circle cx="460.4" cy="492.4" r="0.55"/><circle cx="457.9" cy="496.4" r="0.55"/><circle cx="463.0" cy="496.2" r="0.55"/><circle cx="461.0" cy="494.6" r="0.55"/><circle cx="456.7" cy="497.2" r="0.55"/><circle cx="456.4" cy="496.0" r="0.55"/><circle cx="456.0" cy="499.9" r="0.55"/><circle cx="454.0" cy="503.9" r="0.55"/><circle cx="460.0" cy="499.5" r="0.55"/><circle cx="457.3" cy="500.1" r="0.55"/><circle cx="455.3" cy="504.1" r="0.55"/><circle cx="454.9" cy="500.7" r="0.55"/><circle cx="453.7" cy="504.9" r="0.55"/><circle cx="458.2" cy="497.6" r="0.55"/><circle cx="459.8" cy="498.6" r="0.55"/><circle cx="458.7" cy="499.1" r="0.55"/><circle cx="457.5" cy="500.2" r="0.55"/><circle cx="461.4" cy="495.2" r="0.55"/><circle cx="453.7" cy="504.5" r="0.55"/><circle cx="464.1" cy="489.7" r="0.55"/><circle cx="454.9" cy="502.2" r="0.55"/><circle cx="454.1" cy="501.5" r="0.55"/><circle cx="449.6" cy="505.4" r="0.55"/><circle cx="455.3" cy="495.7" r="0.55"/><circle cx="458.3" cy="495.1" r="0.55"/><circle cx="463.3" cy="492.6" r="0.55"/><circle cx="456.0" cy="497.7" r="0.55"/><circle cx="461.6" cy="494.1" r="0.55"/><circle cx="454.7" cy="503.9" r="0.55"/><circle cx="461.5" cy="498.0" r="0.55"/><circle cx="454.2" cy="502.5" r="0.55"/><circle cx="453.7" cy="500.5" r="0.55"/><circle cx="454.7" cy="501.1" r="0.55"/><circle cx="457.0" cy="499.6" r="0.55"/><circle cx="457.1" cy="499.8" r="0.55"/><circle cx="456.2" cy="500.1" r="0.55"/><circle cx="460.0" cy="499.8" r="0.55"/><circle cx="456.2" cy="499.1" r="0.55"/><circle cx="466.7" cy="489.8" r="0.55"/><circle cx="456.6" cy="500.4" r="0.55"/><circle cx="450.9" cy="505.9" r="0.55"/><circle cx="454.7" cy="501.3" r="0.55"/><circle cx="454.2" cy="502.6" r="0.55"/><circle cx="462.9" cy="491.9" r="0.55"/><circle cx="460.2" cy="498.8" r="0.55"/><circle cx="457.8" cy="497.5" r="0.55"/><circle cx="461.5" cy="496.7" r="0.55"/><circle cx="454.4" cy="500.9" r="0.55"/><circle cx="452.7" cy="503.8" r="0.55"/><circle cx="456.7" cy="499.2" r="0.55"/><circle cx="457.0" cy="500.6" r="0.55"/><circle cx="461.1" cy="499.5" r="0.55"/><circle cx="451.5" cy="503.1" r="0.55"/><circle cx="456.0" cy="501.6" r="0.55"/><circle cx="463.7" cy="494.0" r="0.55"/><circle cx="460.0" cy="493.8" r="0.55"/><circle cx="460.3" cy="499.3" r="0.55"/><circle cx="459.4" cy="495.9" r="0.55"/><circle cx="447.6" cy="510.3" r="0.55"/><circle cx="460.5" cy="498.5" r="0.55"/><circle cx="457.1" cy="497.0" r="0.55"/><circle cx="460.6" cy="494.5" r="0.55"/><circle cx="460.1" cy="497.8" r="0.55"/><circle cx="457.0" cy="501.8" r="0.55"/><circle cx="454.3" cy="505.4" r="0.55"/><circle cx="451.9" cy="502.8" r="0.55"/><circle cx="456.3" cy="500.0" r="0.55"/><circle cx="458.8" cy="498.6" r="0.55"/><circle cx="456.0" cy="499.0" r="0.55"/><circle cx="459.0" cy="493.6" r="0.55"/><circle cx="459.5" cy="494.5" r="0.55"/><circle cx="458.1" cy="499.2" r="0.55"/><circle cx="451.4" cy="506.0" r="0.55"/><circle cx="458.4" cy="497.6" r="0.55"/><circle cx="461.4" cy="495.5" r="0.55"/><circle cx="454.6" cy="501.2" r="0.55"/><circle cx="453.9" cy="500.0" r="0.55"/><circle cx="459.5" cy="492.8" r="0.55"/><circle cx="463.6" cy="496.5" r="0.55"/><circle cx="462.5" cy="494.7" r="0.55"/><circle cx="457.4" cy="498.3" r="0.55"/><circle cx="458.6" cy="501.0" r="0.55"/><circle cx="456.3" cy="500.9" r="0.55"/><circle cx="462.6" cy="494.3" r="0.55"/><circle cx="459.3" cy="497.9" r="0.55"/><circle cx="458.5" cy="500.5" r="0.55"/><circle cx="460.8" cy="496.3" r="0.55"/><circle cx="457.8" cy="500.3" r="0.55"/><circle cx="456.5" cy="498.0" r="0.55"/><circle cx="457.1" cy="495.0" r="0.55"/><circle cx="459.8" cy="496.1" r="0.55"/><circle cx="456.3" cy="499.5" r="0.55"/><circle cx="462.7" cy="493.9" r="0.55"/><circle cx="455.4" cy="501.2" r="0.55"/><circle cx="457.6" cy="502.1" r="0.55"/><circle cx="456.0" cy="500.2" r="0.55"/><circle cx="457.9" cy="498.4" r="0.55"/><circle cx="454.4" cy="504.1" r="0.55"/><circle cx="458.3" cy="499.4" r="0.55"/><circle cx="449.8" cy="507.1" r="0.55"/><circle cx="458.9" cy="498.4" r="0.55"/><circle cx="456.8" cy="504.7" r="0.55"/><circle cx="462.5" cy="494.3" r="0.55"/><circle cx="450.6" cy="502.9" r="0.55"/><circle cx="462.7" cy="495.8" r="0.55"/><circle cx="451.9" cy="507.3" r="0.55"/><circle cx="461.4" cy="493.6" r="0.55"/><circle cx="456.0" cy="500.0" r="0.55"/><circle cx="456.8" cy="504.0" r="0.55"/><circle cx="455.3" cy="500.4" r="0.55"/><circle cx="461.6" cy="498.0" r="0.55"/><circle cx="457.5" cy="496.3" r="0.55"/><circle cx="457.9" cy="497.4" r="0.55"/><circle cx="450.7" cy="507.0" r="0.55"/><circle cx="456.1" cy="498.8" r="0.55"/><circle cx="453.6" cy="506.1" r="0.55"/><circle cx="456.1" cy="499.4" r="0.55"/><circle cx="456.8" cy="501.1" r="0.55"/><circle cx="456.2" cy="502.4" r="0.55"/><circle cx="458.1" cy="498.5" r="0.55"/><circle cx="456.2" cy="498.5" r="0.55"/><circle cx="461.5" cy="494.8" r="0.55"/><circle cx="454.9" cy="500.6" r="0.55"/><circle cx="461.5" cy="498.5" r="0.55"/><circle cx="457.9" cy="496.4" r="0.55"/><circle cx="453.8" cy="500.6" r="0.55"/><circle cx="454.4" cy="501.8" r="0.55"/><circle cx="456.2" cy="501.5" r="0.55"/><circle cx="457.1" cy="500.2" r="0.55"/><circle cx="457.6" cy="497.3" r="0.55"/><circle cx="460.0" cy="496.5" r="0.55"/><circle cx="458.2" cy="495.9" r="0.55"/><circle cx="458.3" cy="498.9" r="0.55"/><circle cx="454.8" cy="503.7" r="0.55"/><circle cx="455.8" cy="500.3" r="0.55"/><circle cx="456.5" cy="496.4" r="0.55"/><circle cx="448.0" cy="508.4" r="0.55"/><circle cx="458.6" cy="499.4" r="0.55"/><circle cx="461.7" cy="498.5" r="0.55"/><circle cx="458.6" cy="496.8" r="0.55"/><circle cx="456.2" cy="498.7" r="0.55"/><circle cx="457.8" cy="497.2" r="0.55"/><circle cx="453.1" cy="502.1" r="0.55"/><circle cx="450.8" cy="504.2" r="0.55"/><circle cx="455.2" cy="500.8" r="0.55"/><circle cx="456.3" cy="501.6" r="0.55"/><circle cx="453.8" cy="503.0" r="0.55"/><circle cx="454.5" cy="502.4" r="0.55"/><circle cx="457.9" cy="496.6" r="0.55"/><circle cx="454.1" cy="503.3" r="0.55"/><circle cx="454.3" cy="502.6" r="0.55"/><circle cx="457.0" cy="499.8" r="0.55"/><circle cx="455.1" cy="501.7" r="0.55"/><circle cx="456.6" cy="500.7" r="0.55"/><circle cx="461.0" cy="496.2" r="0.55"/><circle cx="457.4" cy="499.1" r="0.55"/><circle cx="459.3" cy="496.4" r="0.55"/><circle cx="457.3" cy="500.8" r="0.55"/><circle cx="463.5" cy="491.1" r="0.55"/><circle cx="462.9" cy="492.4" r="0.55"/><circle cx="457.4" cy="498.3" r="0.55"/><circle cx="458.4" cy="502.4" r="0.55"/><circle cx="455.9" cy="501.3" r="0.55"/><circle cx="455.2" cy="503.1" r="0.55"/><circle cx="453.9" cy="500.5" r="0.55"/><circle cx="455.1" cy="501.8" r="0.55"/><circle cx="452.4" cy="503.3" r="0.55"/><circle cx="451.8" cy="510.2" r="0.55"/><circle cx="456.3" cy="500.7" r="0.55"/><circle cx="455.3" cy="503.2" r="0.55"/><circle cx="455.8" cy="504.0" r="0.55"/><circle cx="455.7" cy="499.0" r="0.55"/><circle cx="454.9" cy="498.5" r="0.55"/><circle cx="462.7" cy="500.0" r="0.55"/><circle cx="466.4" cy="489.3" r="0.55"/><circle cx="456.0" cy="497.1" r="0.55"/><circle cx="464.3" cy="491.6" r="0.55"/><circle cx="458.9" cy="499.1" r="0.55"/><circle cx="459.9" cy="494.9" r="0.55"/><circle cx="462.5" cy="492.9" r="0.55"/><circle cx="460.3" cy="494.2" r="0.55"/><circle cx="462.1" cy="493.3" r="0.55"/><circle cx="456.1" cy="501.9" r="0.55"/><circle cx="454.9" cy="501.6" r="0.55"/><circle cx="465.7" cy="489.8" r="0.55"/><circle cx="461.6" cy="492.6" r="0.55"/><circle cx="459.6" cy="494.6" r="0.55"/><circle cx="459.3" cy="497.0" r="0.55"/><circle cx="459.7" cy="498.9" r="0.55"/><circle cx="458.6" cy="498.3" r="0.55"/><circle cx="453.0" cy="501.2" r="0.55"/><circle cx="462.2" cy="492.7" r="0.55"/><circle cx="459.6" cy="495.9" r="0.55"/><circle cx="458.7" cy="500.0" r="0.55"/><circle cx="459.1" cy="497.4" r="0.55"/><circle cx="456.6" cy="502.5" r="0.55"/><circle cx="459.9" cy="495.0" r="0.55"/><circle cx="455.4" cy="500.7" r="0.55"/><circle cx="462.0" cy="492.7" r="0.55"/><circle cx="457.2" cy="499.6" r="0.55"/><circle cx="456.5" cy="498.3" r="0.55"/><circle cx="457.3" cy="498.0" r="0.55"/><circle cx="460.0" cy="494.4" r="0.55"/><circle cx="453.9" cy="502.9" r="0.55"/><circle cx="457.7" cy="500.7" r="0.55"/><circle cx="456.5" cy="502.4" r="0.55"/><circle cx="459.5" cy="497.5" r="0.55"/><circle cx="457.8" cy="497.8" r="0.55"/><circle cx="465.6" cy="490.2" r="0.55"/><circle cx="459.5" cy="500.3" r="0.55"/><circle cx="456.5" cy="505.0" r="0.55"/><circle cx="460.1" cy="497.3" r="0.55"/><circle cx="455.9" cy="499.8" r="0.55"/><circle cx="456.3" cy="502.2" r="0.55"/><circle cx="458.3" cy="495.5" r="0.55"/><circle cx="455.0" cy="502.1" r="0.55"/><circle cx="467.6" cy="490.3" r="0.55"/><circle cx="433.8" cy="520.6" r="0.45" opacity="0.5"/><circle cx="435.3" cy="520.7" r="0.45" opacity="0.5"/><circle cx="434.7" cy="522.7" r="0.45" opacity="0.5"/><circle cx="439.7" cy="529.2" r="0.45" opacity="0.5"/><circle cx="447.2" cy="538.8" r="0.45" opacity="0.5"/><circle cx="432.8" cy="531.0" r="0.45" opacity="0.5"/><circle cx="429.0" cy="539.7" r="0.45" opacity="0.5"/><circle cx="444.8" cy="527.6" r="0.45" opacity="0.5"/><circle cx="442.1" cy="522.7" r="0.45" opacity="0.5"/><circle cx="426.2" cy="518.5" r="0.45" opacity="0.5"/><circle cx="433.0" cy="529.1" r="0.45" opacity="0.5"/><circle cx="431.5" cy="523.1" r="0.45" opacity="0.5"/><circle cx="441.6" cy="523.0" r="0.45" opacity="0.5"/><circle cx="432.6" cy="525.4" r="0.45" opacity="0.5"/><circle cx="426.6" cy="538.6" r="0.45" opacity="0.5"/><circle cx="440.3" cy="519.1" r="0.45" opacity="0.5"/><circle cx="426.8" cy="523.1" r="0.45" opacity="0.5"/><circle cx="429.1" cy="523.6" r="0.45" opacity="0.5"/><circle cx="442.5" cy="536.9" r="0.45" opacity="0.5"/><circle cx="442.8" cy="518.4" r="0.45" opacity="0.5"/><circle cx="441.8" cy="533.2" r="0.45" opacity="0.5"/><circle cx="439.1" cy="522.2" r="0.45" opacity="0.5"/><circle cx="439.3" cy="520.7" r="0.45" opacity="0.5"/><circle cx="437.5" cy="535.9" r="0.45" opacity="0.5"/><circle cx="442.3" cy="536.4" r="0.45" opacity="0.5"/><circle cx="446.3" cy="524.6" r="0.45" opacity="0.5"/><circle cx="431.0" cy="525.7" r="0.45" opacity="0.5"/><circle cx="441.5" cy="523.8" r="0.45" opacity="0.5"/><circle cx="428.7" cy="531.8" r="0.45" opacity="0.5"/><circle cx="443.3" cy="518.6" r="0.45" opacity="0.5"/></g>
<line x1="448.30" y1="454.40" x2="448.30" y2="544.50" stroke="#da5656" stroke-width="1.4" />
<line x1="418.40" y1="515.00" x2="509.50" y2="515.00" stroke="#da5656" stroke-width="1.4" />
<line x1="418.40" y1="454.10" x2="418.40" y2="545.00" stroke="#2a2a2a" stroke-width="1.1" />
<line x1="417.90" y1="544.50" x2="509.50" y2="544.50" stroke="#2a2a2a" stroke-width="1.1" />
<text x="462.20" y="451.20" font-size="8.8" text-anchor="middle" font-weight="normal" fill="#111" >Treated</text>
<line x1="416.00" y1="544.50" x2="418.40" y2="544.50" stroke="#2a2a2a" stroke-width="0.9" />
<text x="415.00" y="546.60" font-size="6.0" text-anchor="end" font-weight="bold" fill="#111" >0</text>
<line x1="418.40" y1="544.50" x2="418.40" y2="546.90" stroke="#2a2a2a" stroke-width="0.9" />
<text x="418.40" y="553.20" font-size="6.0" text-anchor="middle" font-weight="bold" fill="#111" >0</text>
<line x1="417.10" y1="538.87" x2="418.40" y2="538.87" stroke="#2a2a2a" stroke-width="0.6" />
<line x1="424.09" y1="544.50" x2="424.09" y2="545.80" stroke="#2a2a2a" stroke-width="0.6" />
<line x1="417.10" y1="533.24" x2="418.40" y2="533.24" stroke="#2a2a2a" stroke-width="0.6" />
<line x1="429.79" y1="544.50" x2="429.79" y2="545.80" stroke="#2a2a2a" stroke-width="0.6" />
<line x1="417.10" y1="527.61" x2="418.40" y2="527.61" stroke="#2a2a2a" stroke-width="0.6" />
<line x1="435.48" y1="544.50" x2="435.48" y2="545.80" stroke="#2a2a2a" stroke-width="0.6" />
<line x1="416.00" y1="521.98" x2="418.40" y2="521.98" stroke="#2a2a2a" stroke-width="0.9" />
<text x="415.00" y="524.08" font-size="6.0" text-anchor="end" font-weight="bold" fill="#111" >1</text>
<line x1="441.17" y1="544.50" x2="441.17" y2="546.90" stroke="#2a2a2a" stroke-width="0.9" />
<text x="441.17" y="553.20" font-size="6.0" text-anchor="middle" font-weight="bold" fill="#111" >1</text>
<line x1="417.10" y1="516.34" x2="418.40" y2="516.34" stroke="#2a2a2a" stroke-width="0.6" />
<line x1="446.87" y1="544.50" x2="446.87" y2="545.80" stroke="#2a2a2a" stroke-width="0.6" />
<line x1="417.10" y1="510.71" x2="418.40" y2="510.71" stroke="#2a2a2a" stroke-width="0.6" />
<line x1="452.56" y1="544.50" x2="452.56" y2="545.80" stroke="#2a2a2a" stroke-width="0.6" />
<line x1="417.10" y1="505.08" x2="418.40" y2="505.08" stroke="#2a2a2a" stroke-width="0.6" />
<line x1="458.26" y1="544.50" x2="458.26" y2="545.80" stroke="#2a2a2a" stroke-width="0.6" />
<line x1="416.00" y1="499.45" x2="418.40" y2="499.45" stroke="#2a2a2a" stroke-width="0.9" />
<text x="415.00" y="501.55" font-size="6.0" text-anchor="end" font-weight="bold" fill="#111" >2</text>
<line x1="463.95" y1="544.50" x2="463.95" y2="546.90" stroke="#2a2a2a" stroke-width="0.9" />
<text x="463.95" y="553.20" font-size="6.0" text-anchor="middle" font-weight="bold" fill="#111" >2</text>
<line x1="417.10" y1="493.82" x2="418.40" y2="493.82" stroke="#2a2a2a" stroke-width="0.6" />
<line x1="469.64" y1="544.50" x2="469.64" y2="545.80" stroke="#2a2a2a" stroke-width="0.6" />
<line x1="417.10" y1="488.19" x2="418.40" y2="488.19" stroke="#2a2a2a" stroke-width="0.6" />
<line x1="475.34" y1="544.50" x2="475.34" y2="545.80" stroke="#2a2a2a" stroke-width="0.6" />
<line x1="417.10" y1="482.56" x2="418.40" y2="482.56" stroke="#2a2a2a" stroke-width="0.6" />
<line x1="481.03" y1="544.50" x2="481.03" y2="545.80" stroke="#2a2a2a" stroke-width="0.6" />
<line x1="416.00" y1="476.92" x2="418.40" y2="476.92" stroke="#2a2a2a" stroke-width="0.9" />
<text x="415.00" y="479.02" font-size="6.0" text-anchor="end" font-weight="bold" fill="#111" >3</text>
<line x1="486.73" y1="544.50" x2="486.73" y2="546.90" stroke="#2a2a2a" stroke-width="0.9" />
<text x="486.73" y="553.20" font-size="6.0" text-anchor="middle" font-weight="bold" fill="#111" >3</text>
<line x1="417.10" y1="471.29" x2="418.40" y2="471.29" stroke="#2a2a2a" stroke-width="0.6" />
<line x1="492.42" y1="544.50" x2="492.42" y2="545.80" stroke="#2a2a2a" stroke-width="0.6" />
<line x1="417.10" y1="465.66" x2="418.40" y2="465.66" stroke="#2a2a2a" stroke-width="0.6" />
<line x1="498.11" y1="544.50" x2="498.11" y2="545.80" stroke="#2a2a2a" stroke-width="0.6" />
<line x1="417.10" y1="460.03" x2="418.40" y2="460.03" stroke="#2a2a2a" stroke-width="0.6" />
<line x1="503.81" y1="544.50" x2="503.81" y2="545.80" stroke="#2a2a2a" stroke-width="0.6" />
<line x1="416.00" y1="454.40" x2="418.40" y2="454.40" stroke="#2a2a2a" stroke-width="0.9" />
<text x="415.00" y="456.50" font-size="6.0" text-anchor="end" font-weight="bold" fill="#111" >4</text>
<line x1="509.50" y1="544.50" x2="509.50" y2="546.90" stroke="#2a2a2a" stroke-width="0.9" />
<text x="509.50" y="553.20" font-size="6.0" text-anchor="middle" font-weight="bold" fill="#111" >4</text>
<text x="405.40" y="462.10" font-size="4.6" text-anchor="middle" font-weight="bold" fill="#111" transform="rotate(-90 405.40 462.10)" >Pos.</text>
<text x="405.40" y="537.40" font-size="4.6" text-anchor="middle" font-weight="bold" fill="#111" transform="rotate(-90 405.40 537.40)" >Neg.</text>
<text x="423.90" y="561.50" font-size="4.6" text-anchor="middle" font-weight="bold" fill="#111" >Neg.</text>
<text x="503.80" y="561.50" font-size="4.6" text-anchor="middle" font-weight="bold" fill="#111" >Pos.</text>
<text x="405.70" y="498.25" font-size="6.4" text-anchor="middle" font-weight="normal" fill="#111" transform="rotate(-90 405.70 498.25)"  textLength="47" lengthAdjust="spacingAndGlyphs">ATM PHOSPHO.</text>
<text x="463.90" y="561.80" font-size="6.6" text-anchor="middle" font-weight="normal" fill="#111"  textLength="54" lengthAdjust="spacingAndGlyphs">H2AX PHOSPHO.</text>
<text x="3.20" y="611.90" font-size="15" text-anchor="start" font-weight="bold" fill="#111" >G</text>
<path d="M75.20,685.9 L75.20,685.90 L75.55,685.90 L75.91,685.90 L76.26,685.90 L76.62,685.90 L76.97,685.90 L77.32,685.90 L77.68,685.90 L78.03,685.90 L78.39,685.90 L78.74,685.90 L79.09,685.90 L79.45,685.90 L79.80,685.90 L80.16,685.90 L80.51,685.90 L80.86,685.90 L81.22,685.90 L81.57,685.90 L81.93,685.90 L82.28,685.90 L82.63,685.90 L82.99,685.90 L83.34,685.90 L83.70,685.90 L84.05,685.90 L84.40,685.90 L84.76,685.90 L85.11,685.90 L85.47,685.90 L85.82,685.90 L86.17,685.90 L86.53,685.90 L86.88,685.90 L87.24,685.90 L87.59,685.90 L87.94,685.90 L88.30,685.90 L88.65,685.90 L89.01,685.90 L89.36,685.90 L89.71,685.90 L90.07,685.90 L90.42,685.90 L90.78,685.90 L91.13,685.90 L91.48,685.90 L91.84,685.90 L92.19,685.90 L92.55,685.90 L92.90,685.90 L93.25,685.90 L93.61,685.90 L93.96,685.90 L94.32,685.90 L94.67,685.90 L95.02,685.90 L95.38,685.90 L95.73,685.90 L96.09,685.90 L96.44,685.90 L96.79,685.90 L97.15,685.90 L97.50,685.90 L97.86,685.90 L98.21,685.90 L98.56,685.90 L98.92,685.90 L99.27,685.90 L99.63,685.90 L99.98,685.90 L100.33,685.90 L100.69,685.90 L101.04,685.90 L101.40,685.90 L101.75,685.90 L102.10,685.90 L102.46,685.90 L102.81,685.90 L103.17,685.90 L103.52,685.90 L103.87,685.90 L104.23,685.90 L104.58,685.90 L104.94,685.90 L105.29,685.90 L105.64,685.90 L106.00,685.90 L106.35,685.90 L106.71,685.90 L107.06,685.90 L107.41,685.90 L107.77,685.90 L108.12,685.90 L108.48,685.90 L108.83,685.90 L109.18,685.90 L109.54,685.90 L109.89,685.90 L110.25,685.90 L110.60,685.90 L110.95,685.90 L111.31,685.90 L111.66,685.90 L112.02,685.90 L112.37,685.90 L112.72,685.90 L113.08,685.90 L113.43,685.90 L113.79,685.90 L114.14,685.90 L114.49,685.90 L114.85,685.90 L115.20,685.90 L115.56,685.04 L115.91,685.10 L116.26,685.28 L116.62,684.68 L116.97,684.25 L117.33,684.17 L117.68,684.77 L118.03,683.54 L118.39,682.33 L118.74,682.42 L119.10,681.82 L119.45,679.83 L119.80,677.98 L120.16,678.75 L120.51,677.32 L120.87,673.36 L121.22,674.79 L121.57,667.70 L121.93,668.03 L122.28,658.36 L122.64,662.06 L122.99,655.13 L123.34,648.95 L123.70,652.79 L124.05,638.68 L124.41,634.66 L124.76,626.91 L125.11,624.60 L125.47,635.39 L125.82,637.06 L126.18,624.60 L126.53,640.52 L126.88,643.73 L127.24,637.78 L127.59,644.24 L127.95,644.68 L128.30,658.81 L128.65,654.59 L129.01,661.23 L129.36,658.09 L129.72,666.76 L130.07,667.35 L130.42,668.40 L130.78,668.66 L131.13,666.71 L131.49,672.02 L131.84,673.86 L132.19,670.28 L132.55,672.99 L132.90,674.27 L133.26,673.87 L133.61,674.58 L133.96,672.63 L134.32,673.57 L134.67,671.36 L135.03,673.65 L135.38,674.03 L135.73,674.61 L136.09,675.26 L136.44,674.46 L136.80,677.93 L136.80,685.9 Z" fill="#4a78c8"/>
<path d="M136.80,685.9 L136.80,675.86 L137.15,674.68 L137.50,674.33 L137.86,676.90 L138.21,674.78 L138.57,674.18 L138.92,675.32 L139.27,673.96 L139.63,676.80 L139.98,675.59 L140.34,677.20 L140.69,677.72 L141.04,673.55 L141.40,677.51 L141.75,674.83 L142.11,677.82 L142.46,677.09 L142.81,677.15 L143.17,677.23 L143.52,677.07 L143.88,676.81 L144.23,675.82 L144.58,678.11 L144.94,678.15 L145.29,675.35 L145.65,677.55 L146.00,676.49 L146.35,675.95 L146.71,676.16 L147.06,678.35 L147.42,676.46 L147.77,675.05 L148.12,676.69 L148.48,678.43 L148.83,677.94 L148.83,685.9 Z" fill="#b83a5c"/>
<path d="M148.83,685.9 L148.83,674.31 L149.19,675.54 L149.54,675.56 L149.89,676.90 L150.25,674.84 L150.60,677.89 L150.96,674.45 L151.31,674.02 L151.66,674.31 L152.02,672.93 L152.37,673.27 L152.73,672.79 L153.08,673.14 L153.43,672.94 L153.79,676.02 L154.14,672.84 L154.50,674.04 L154.85,674.94 L155.20,673.48 L155.56,675.28 L155.91,672.49 L156.27,672.28 L156.62,674.41 L156.97,673.51 L157.33,674.91 L157.68,675.70 L158.04,671.52 L158.39,675.04 L158.74,673.30 L159.10,676.21 L159.45,674.64 L159.81,673.60 L160.16,673.72 L160.51,676.50 L160.87,674.90 L161.22,675.50 L161.58,675.78 L161.93,670.70 L162.28,672.39 L162.64,672.24 L162.99,674.38 L163.35,671.03 L163.70,671.76 L164.05,671.39 L164.41,670.76 L164.76,675.74 L165.12,673.44 L165.47,674.44 L165.82,676.17 L166.18,673.78 L166.53,671.23 L166.89,672.04 L167.24,674.69 L167.59,674.21 L167.95,671.49 L168.30,674.09 L168.66,673.55 L169.01,675.37 L169.36,675.90 L169.72,675.10 L170.07,674.96 L170.43,673.66 L170.78,673.68 L171.13,673.21 L171.49,673.30 L171.84,673.32 L172.20,676.57 L172.55,675.92 L172.90,674.69 L173.26,674.24 L173.61,677.09 L173.97,676.12 L174.32,678.04 L174.67,674.35 L175.03,678.03 L175.38,677.05 L175.74,678.71 L176.09,677.39 L176.44,678.26 L176.80,678.73 L177.15,678.00 L177.51,680.13 L177.86,679.83 L178.21,677.99 L178.57,679.56 L178.92,683.84 L179.28,685.90 L179.63,685.90 L179.98,685.90 L180.34,685.90 L180.69,685.90 L181.05,685.90 L181.40,685.90 L181.40,685.9 Z" fill="#8c9a2c"/>
<rect x="75.2" y="624.6" width="106.2" height="61.3" fill="none" stroke="#444" stroke-width="0.8"/>
<line x1="75.20" y1="624.20" x2="75.20" y2="686.40" stroke="#2a2a2a" stroke-width="1.1" />
<line x1="74.70" y1="685.90" x2="181.40" y2="685.90" stroke="#2a2a2a" stroke-width="1.1" />
<line x1="73.00" y1="685.90" x2="75.20" y2="685.90" stroke="#2a2a2a" stroke-width="0.8" />
<text x="74.00" y="688.60" font-size="7.6" text-anchor="end" font-weight="bold" fill="#111" >0</text>
<line x1="75.20" y1="685.90" x2="75.20" y2="688.10" stroke="#2a2a2a" stroke-width="0.8" />
<text x="75.20" y="696.30" font-size="8.2" text-anchor="middle" font-weight="bold" fill="#111" >0</text>
<line x1="77.86" y1="685.90" x2="77.86" y2="687.20" stroke="#2a2a2a" stroke-width="0.6" />
<line x1="80.51" y1="685.90" x2="80.51" y2="687.20" stroke="#2a2a2a" stroke-width="0.6" />
<line x1="83.17" y1="685.90" x2="83.17" y2="687.20" stroke="#2a2a2a" stroke-width="0.6" />
<line x1="73.00" y1="679.77" x2="75.20" y2="679.77" stroke="#2a2a2a" stroke-width="0.8" />
<text x="74.00" y="682.47" font-size="7.6" text-anchor="end" font-weight="bold" fill="#111" >10</text>
<line x1="85.82" y1="685.90" x2="85.82" y2="688.10" stroke="#2a2a2a" stroke-width="0.8" />
<text x="85.82" y="696.30" font-size="8.2" text-anchor="middle" font-weight="bold" fill="#111" >1</text>
<line x1="88.48" y1="685.90" x2="88.48" y2="687.20" stroke="#2a2a2a" stroke-width="0.6" />
<line x1="91.13" y1="685.90" x2="91.13" y2="687.20" stroke="#2a2a2a" stroke-width="0.6" />
<line x1="93.79" y1="685.90" x2="93.79" y2="687.20" stroke="#2a2a2a" stroke-width="0.6" />
<line x1="73.00" y1="673.64" x2="75.20" y2="673.64" stroke="#2a2a2a" stroke-width="0.8" />
<text x="74.00" y="676.34" font-size="7.6" text-anchor="end" font-weight="bold" fill="#111" >20</text>
<line x1="96.44" y1="685.90" x2="96.44" y2="688.10" stroke="#2a2a2a" stroke-width="0.8" />
<text x="96.44" y="696.30" font-size="8.2" text-anchor="middle" font-weight="bold" fill="#111" >2</text>
<line x1="99.09" y1="685.90" x2="99.09" y2="687.20" stroke="#2a2a2a" stroke-width="0.6" />
<line x1="101.75" y1="685.90" x2="101.75" y2="687.20" stroke="#2a2a2a" stroke-width="0.6" />
<line x1="104.41" y1="685.90" x2="104.41" y2="687.20" stroke="#2a2a2a" stroke-width="0.6" />
<line x1="73.00" y1="667.51" x2="75.20" y2="667.51" stroke="#2a2a2a" stroke-width="0.8" />
<text x="74.00" y="670.21" font-size="7.6" text-anchor="end" font-weight="bold" fill="#111" >30</text>
<line x1="107.06" y1="685.90" x2="107.06" y2="688.10" stroke="#2a2a2a" stroke-width="0.8" />
<text x="107.06" y="696.30" font-size="8.2" text-anchor="middle" font-weight="bold" fill="#111" >3</text>
<line x1="109.72" y1="685.90" x2="109.72" y2="687.20" stroke="#2a2a2a" stroke-width="0.6" />
<line x1="112.37" y1="685.90" x2="112.37" y2="687.20" stroke="#2a2a2a" stroke-width="0.6" />
<line x1="115.03" y1="685.90" x2="115.03" y2="687.20" stroke="#2a2a2a" stroke-width="0.6" />
<line x1="73.00" y1="661.38" x2="75.20" y2="661.38" stroke="#2a2a2a" stroke-width="0.8" />
<text x="74.00" y="664.08" font-size="7.6" text-anchor="end" font-weight="bold" fill="#111" >40</text>
<line x1="117.68" y1="685.90" x2="117.68" y2="688.10" stroke="#2a2a2a" stroke-width="0.8" />
<text x="117.68" y="696.30" font-size="8.2" text-anchor="middle" font-weight="bold" fill="#111" >4</text>
<line x1="120.34" y1="685.90" x2="120.34" y2="687.20" stroke="#2a2a2a" stroke-width="0.6" />
<line x1="122.99" y1="685.90" x2="122.99" y2="687.20" stroke="#2a2a2a" stroke-width="0.6" />
<line x1="125.65" y1="685.90" x2="125.65" y2="687.20" stroke="#2a2a2a" stroke-width="0.6" />
<line x1="73.00" y1="655.25" x2="75.20" y2="655.25" stroke="#2a2a2a" stroke-width="0.8" />
<text x="74.00" y="657.95" font-size="7.6" text-anchor="end" font-weight="bold" fill="#111" >50</text>
<line x1="128.30" y1="685.90" x2="128.30" y2="688.10" stroke="#2a2a2a" stroke-width="0.8" />
<text x="128.30" y="696.30" font-size="8.2" text-anchor="middle" font-weight="bold" fill="#111" >5</text>
<line x1="130.96" y1="685.90" x2="130.96" y2="687.20" stroke="#2a2a2a" stroke-width="0.6" />
<line x1="133.61" y1="685.90" x2="133.61" y2="687.20" stroke="#2a2a2a" stroke-width="0.6" />
<line x1="136.27" y1="685.90" x2="136.27" y2="687.20" stroke="#2a2a2a" stroke-width="0.6" />
<line x1="73.00" y1="649.12" x2="75.20" y2="649.12" stroke="#2a2a2a" stroke-width="0.8" />
<text x="74.00" y="651.82" font-size="7.6" text-anchor="end" font-weight="bold" fill="#111" >60</text>
<line x1="138.92" y1="685.90" x2="138.92" y2="688.10" stroke="#2a2a2a" stroke-width="0.8" />
<text x="138.92" y="696.30" font-size="8.2" text-anchor="middle" font-weight="bold" fill="#111" >6</text>
<line x1="141.58" y1="685.90" x2="141.58" y2="687.20" stroke="#2a2a2a" stroke-width="0.6" />
<line x1="144.23" y1="685.90" x2="144.23" y2="687.20" stroke="#2a2a2a" stroke-width="0.6" />
<line x1="146.89" y1="685.90" x2="146.89" y2="687.20" stroke="#2a2a2a" stroke-width="0.6" />
<line x1="73.00" y1="642.99" x2="75.20" y2="642.99" stroke="#2a2a2a" stroke-width="0.8" />
<text x="74.00" y="645.69" font-size="7.6" text-anchor="end" font-weight="bold" fill="#111" >70</text>
<line x1="149.54" y1="685.90" x2="149.54" y2="688.10" stroke="#2a2a2a" stroke-width="0.8" />
<text x="149.54" y="696.30" font-size="8.2" text-anchor="middle" font-weight="bold" fill="#111" >7</text>
<line x1="152.20" y1="685.90" x2="152.20" y2="687.20" stroke="#2a2a2a" stroke-width="0.6" />
<line x1="154.85" y1="685.90" x2="154.85" y2="687.20" stroke="#2a2a2a" stroke-width="0.6" />
<line x1="157.51" y1="685.90" x2="157.51" y2="687.20" stroke="#2a2a2a" stroke-width="0.6" />
<line x1="73.00" y1="636.86" x2="75.20" y2="636.86" stroke="#2a2a2a" stroke-width="0.8" />
<text x="74.00" y="639.56" font-size="7.6" text-anchor="end" font-weight="bold" fill="#111" >80</text>
<line x1="160.16" y1="685.90" x2="160.16" y2="688.10" stroke="#2a2a2a" stroke-width="0.8" />
<text x="160.16" y="696.30" font-size="8.2" text-anchor="middle" font-weight="bold" fill="#111" >8</text>
<line x1="162.82" y1="685.90" x2="162.82" y2="687.20" stroke="#2a2a2a" stroke-width="0.6" />
<line x1="165.47" y1="685.90" x2="165.47" y2="687.20" stroke="#2a2a2a" stroke-width="0.6" />
<line x1="168.13" y1="685.90" x2="168.13" y2="687.20" stroke="#2a2a2a" stroke-width="0.6" />
<line x1="73.00" y1="630.73" x2="75.20" y2="630.73" stroke="#2a2a2a" stroke-width="0.8" />
<text x="74.00" y="633.43" font-size="7.6" text-anchor="end" font-weight="bold" fill="#111" >90</text>
<line x1="170.78" y1="685.90" x2="170.78" y2="688.10" stroke="#2a2a2a" stroke-width="0.8" />
<text x="170.78" y="696.30" font-size="8.2" text-anchor="middle" font-weight="bold" fill="#111" >9</text>
<line x1="173.44" y1="685.90" x2="173.44" y2="687.20" stroke="#2a2a2a" stroke-width="0.6" />
<line x1="176.09" y1="685.90" x2="176.09" y2="687.20" stroke="#2a2a2a" stroke-width="0.6" />
<line x1="178.75" y1="685.90" x2="178.75" y2="687.20" stroke="#2a2a2a" stroke-width="0.6" />
<line x1="73.00" y1="624.60" x2="75.20" y2="624.60" stroke="#2a2a2a" stroke-width="0.8" />
<text x="74.00" y="627.30" font-size="7.6" text-anchor="end" font-weight="bold" fill="#111" >100</text>
<line x1="181.40" y1="685.90" x2="181.40" y2="688.10" stroke="#2a2a2a" stroke-width="0.8" />
<text x="181.40" y="696.30" font-size="8.2" text-anchor="middle" font-weight="bold" fill="#111" >10</text>
<text x="129.40" y="707.50" font-size="9.0" text-anchor="middle" font-weight="normal" fill="#111"  textLength="80" lengthAdjust="spacingAndGlyphs">DNA CONTENT INDEX</text>
<text x="55.20" y="656.00" font-size="8.6" text-anchor="middle" font-weight="normal" fill="#111" transform="rotate(-90 55.20 656.00)" >Count</text>
<text x="129.40" y="621.80" font-size="9.1" text-anchor="middle" font-weight="normal" fill="#111" >Control</text>
<g stroke="#6878b8" stroke-width="1.5"><line x1="114.5" y1="650.1" x2="136.7" y2="650.1"/><line x1="114.5" y1="641.4" x2="114.5" y2="652.7"/><line x1="136.7" y1="646.5" x2="136.7" y2="653"/></g>
<g stroke="#905068" stroke-width="1.5"><line x1="136.7" y1="655.6" x2="149.0" y2="655.6"/><line x1="136.7" y1="646.5" x2="136.7" y2="658.8"/><line x1="149.0" y1="653" x2="149.0" y2="664.5"/></g>
<g stroke="#8a8a58" stroke-width="1.5"><line x1="149.0" y1="662.0" x2="179.3" y2="662.0"/><line x1="149.0" y1="653" x2="149.0" y2="664.5"/><line x1="179.3" y1="658.5" x2="179.3" y2="671"/></g>
<text x="179.80" y="634.20" font-size="5.8" text-anchor="end" font-weight="bold" fill="#111" >G<tspan font-size="4.2" dy="1.5">0</tspan><tspan dy="-1.5">–G</tspan><tspan font-size="4.2" dy="1.5">1</tspan><tspan dy="-1.5"> 59.6</tspan></text>
<text x="179.80" y="640.20" font-size="5.8" text-anchor="end" font-weight="bold" fill="#111" >S 11.5</text>
<text x="179.80" y="646.20" font-size="5.8" text-anchor="end" font-weight="bold" fill="#111" >G<tspan font-size="4.2" dy="1.5">2</tspan><tspan dy="-1.5">–M 28.9</tspan></text>
<path d="M233.60,685.9 L233.60,685.90 L233.95,685.90 L234.31,685.90 L234.66,685.90 L235.02,685.90 L235.37,685.90 L235.72,685.90 L236.08,685.90 L236.43,685.90 L236.79,685.90 L237.14,685.90 L237.49,685.90 L237.85,685.90 L238.20,685.90 L238.56,685.90 L238.91,685.90 L239.26,685.90 L239.62,685.90 L239.97,685.90 L240.33,685.90 L240.68,685.90 L241.03,685.90 L241.39,685.90 L241.74,685.90 L242.10,685.90 L242.45,685.90 L242.80,685.90 L243.16,685.90 L243.51,685.90 L243.87,685.90 L244.22,685.90 L244.57,685.90 L244.93,685.90 L245.28,685.90 L245.64,685.90 L245.99,685.90 L246.34,685.90 L246.70,685.90 L247.05,685.90 L247.41,685.90 L247.76,685.90 L248.11,685.90 L248.47,685.90 L248.82,685.90 L249.18,685.90 L249.53,685.90 L249.88,685.90 L250.24,685.90 L250.59,685.90 L250.95,685.90 L251.30,685.90 L251.65,685.90 L252.01,685.90 L252.36,685.90 L252.72,685.90 L253.07,685.90 L253.42,685.90 L253.78,685.90 L254.13,685.90 L254.49,685.90 L254.84,685.90 L255.19,685.90 L255.55,685.90 L255.90,685.90 L256.26,685.90 L256.61,685.90 L256.96,685.90 L257.32,685.90 L257.67,685.90 L258.03,685.90 L258.38,685.90 L258.73,685.90 L259.09,685.90 L259.44,685.90 L259.80,685.90 L260.15,685.90 L260.50,685.90 L260.86,685.90 L261.21,685.90 L261.57,685.90 L261.92,685.90 L262.27,685.90 L262.63,685.90 L262.98,685.90 L263.34,685.90 L263.69,685.90 L264.04,685.90 L264.40,685.90 L264.75,685.90 L265.11,685.90 L265.46,685.90 L265.81,685.90 L266.17,685.90 L266.52,685.90 L266.88,685.90 L267.23,685.90 L267.58,685.90 L267.94,685.90 L268.29,685.90 L268.65,685.90 L269.00,685.90 L269.35,685.90 L269.71,685.90 L270.06,685.90 L270.42,685.90 L270.77,685.90 L271.12,685.55 L271.48,684.50 L271.83,684.79 L272.19,684.85 L272.54,683.92 L272.89,683.84 L273.25,681.71 L273.60,681.67 L273.96,680.24 L274.31,678.47 L274.66,679.36 L275.02,675.30 L275.37,677.78 L275.73,671.95 L276.08,670.31 L276.43,670.65 L276.79,671.27 L277.14,667.04 L277.50,665.75 L277.85,667.60 L278.20,671.77 L278.56,673.68 L278.91,674.27 L279.27,671.77 L279.62,674.82 L279.97,675.71 L280.33,675.75 L280.68,678.74 L281.04,680.19 L281.39,678.53 L281.74,680.58 L282.10,680.94 L282.45,683.77 L282.81,683.81 L283.16,683.51 L283.51,684.22 L283.87,684.79 L284.22,684.98 L284.58,685.66 L284.93,685.77 L285.28,685.90 L285.28,685.9 Z" fill="#4a78c8"/>
<path d="M285.28,685.9 L285.28,685.90 L285.64,685.90 L285.99,685.90 L286.35,685.90 L286.70,685.90 L287.05,685.90 L287.41,685.90 L287.76,685.90 L288.12,685.90 L288.47,685.90 L288.82,685.90 L289.18,685.90 L289.53,685.90 L289.89,685.90 L290.24,685.90 L290.59,685.90 L290.95,685.90 L291.30,685.90 L291.66,685.90 L291.66,685.9 Z" fill="#b83a5c"/>
<path d="M291.66,685.9 L291.66,685.90 L292.01,685.90 L292.36,684.99 L292.72,685.70 L293.07,684.99 L293.43,685.72 L293.78,684.86 L294.13,684.61 L294.49,684.86 L294.84,683.77 L295.20,683.09 L295.55,683.90 L295.90,683.21 L296.26,683.31 L296.61,683.54 L296.97,682.10 L297.32,681.76 L297.67,682.00 L298.03,679.80 L298.38,680.93 L298.74,680.29 L299.09,678.88 L299.44,678.29 L299.80,680.28 L300.15,678.90 L300.51,675.05 L300.86,677.58 L301.21,673.20 L301.57,676.79 L301.92,675.94 L302.28,672.16 L302.63,672.38 L302.98,672.44 L303.34,671.37 L303.69,669.03 L304.05,671.19 L304.40,663.67 L304.75,667.39 L305.11,669.72 L305.46,666.62 L305.82,667.34 L306.17,667.67 L306.52,665.07 L306.88,658.74 L307.23,663.82 L307.59,664.07 L307.94,654.59 L308.29,658.95 L308.65,654.90 L309.00,662.66 L309.36,657.85 L309.71,653.13 L310.06,650.14 L310.42,657.20 L310.77,650.86 L311.13,659.36 L311.48,656.13 L311.83,657.65 L312.19,655.28 L312.54,655.02 L312.90,648.23 L313.25,648.77 L313.60,651.55 L313.96,656.66 L314.31,658.44 L314.67,658.08 L315.02,660.22 L315.37,658.81 L315.73,652.59 L316.08,658.42 L316.44,664.31 L316.79,655.73 L317.14,661.04 L317.50,667.04 L317.85,662.96 L318.21,666.98 L318.56,669.39 L318.91,665.04 L319.27,669.65 L319.62,665.09 L319.98,667.92 L320.33,670.15 L320.68,669.89 L321.04,673.02 L321.39,673.91 L321.75,672.30 L322.10,674.51 L322.45,676.83 L322.81,672.59 L323.16,678.45 L323.52,677.38 L323.87,675.70 L324.22,679.00 L324.58,677.40 L324.93,678.36 L325.29,680.05 L325.64,679.91 L325.99,680.11 L326.35,682.57 L326.70,682.39 L327.06,682.35 L327.41,682.50 L327.76,682.94 L328.12,682.72 L328.47,683.72 L328.83,684.20 L329.18,684.13 L329.53,684.46 L329.89,684.25 L330.24,685.31 L330.60,684.60 L330.95,684.88 L331.30,685.10 L331.66,685.90 L332.01,685.10 L332.37,685.90 L332.72,685.90 L333.07,685.90 L333.43,685.90 L333.78,685.90 L334.14,685.90 L334.49,685.90 L334.84,685.90 L335.20,685.90 L335.55,685.90 L335.91,685.90 L336.26,685.90 L336.61,685.90 L336.97,685.90 L337.32,685.90 L337.68,685.90 L338.03,685.90 L338.38,685.90 L338.74,685.90 L339.09,685.90 L339.45,685.90 L339.80,685.90 L339.80,685.9 Z" fill="#8c9a2c"/>
<rect x="233.6" y="624.6" width="106.2" height="61.3" fill="none" stroke="#444" stroke-width="0.8"/>
<line x1="233.60" y1="624.20" x2="233.60" y2="686.40" stroke="#2a2a2a" stroke-width="1.1" />
<line x1="233.10" y1="685.90" x2="339.80" y2="685.90" stroke="#2a2a2a" stroke-width="1.1" />
<line x1="231.40" y1="685.90" x2="233.60" y2="685.90" stroke="#2a2a2a" stroke-width="0.8" />
<text x="232.40" y="688.60" font-size="7.6" text-anchor="end" font-weight="bold" fill="#111" >0</text>
<line x1="233.60" y1="685.90" x2="233.60" y2="688.10" stroke="#2a2a2a" stroke-width="0.8" />
<text x="233.60" y="696.30" font-size="8.2" text-anchor="middle" font-weight="bold" fill="#111" >0</text>
<line x1="236.25" y1="685.90" x2="236.25" y2="687.20" stroke="#2a2a2a" stroke-width="0.6" />
<line x1="238.91" y1="685.90" x2="238.91" y2="687.20" stroke="#2a2a2a" stroke-width="0.6" />
<line x1="241.56" y1="685.90" x2="241.56" y2="687.20" stroke="#2a2a2a" stroke-width="0.6" />
<line x1="231.40" y1="679.77" x2="233.60" y2="679.77" stroke="#2a2a2a" stroke-width="0.8" />
<text x="232.40" y="682.47" font-size="7.6" text-anchor="end" font-weight="bold" fill="#111" >10</text>
<line x1="244.22" y1="685.90" x2="244.22" y2="688.10" stroke="#2a2a2a" stroke-width="0.8" />
<text x="244.22" y="696.30" font-size="8.2" text-anchor="middle" font-weight="bold" fill="#111" >1</text>
<line x1="246.88" y1="685.90" x2="246.88" y2="687.20" stroke="#2a2a2a" stroke-width="0.6" />
<line x1="249.53" y1="685.90" x2="249.53" y2="687.20" stroke="#2a2a2a" stroke-width="0.6" />
<line x1="252.19" y1="685.90" x2="252.19" y2="687.20" stroke="#2a2a2a" stroke-width="0.6" />
<line x1="231.40" y1="673.64" x2="233.60" y2="673.64" stroke="#2a2a2a" stroke-width="0.8" />
<text x="232.40" y="676.34" font-size="7.6" text-anchor="end" font-weight="bold" fill="#111" >20</text>
<line x1="254.84" y1="685.90" x2="254.84" y2="688.10" stroke="#2a2a2a" stroke-width="0.8" />
<text x="254.84" y="696.30" font-size="8.2" text-anchor="middle" font-weight="bold" fill="#111" >2</text>
<line x1="257.50" y1="685.90" x2="257.50" y2="687.20" stroke="#2a2a2a" stroke-width="0.6" />
<line x1="260.15" y1="685.90" x2="260.15" y2="687.20" stroke="#2a2a2a" stroke-width="0.6" />
<line x1="262.81" y1="685.90" x2="262.81" y2="687.20" stroke="#2a2a2a" stroke-width="0.6" />
<line x1="231.40" y1="667.51" x2="233.60" y2="667.51" stroke="#2a2a2a" stroke-width="0.8" />
<text x="232.40" y="670.21" font-size="7.6" text-anchor="end" font-weight="bold" fill="#111" >30</text>
<line x1="265.46" y1="685.90" x2="265.46" y2="688.10" stroke="#2a2a2a" stroke-width="0.8" />
<text x="265.46" y="696.30" font-size="8.2" text-anchor="middle" font-weight="bold" fill="#111" >3</text>
<line x1="268.11" y1="685.90" x2="268.11" y2="687.20" stroke="#2a2a2a" stroke-width="0.6" />
<line x1="270.77" y1="685.90" x2="270.77" y2="687.20" stroke="#2a2a2a" stroke-width="0.6" />
<line x1="273.42" y1="685.90" x2="273.42" y2="687.20" stroke="#2a2a2a" stroke-width="0.6" />
<line x1="231.40" y1="661.38" x2="233.60" y2="661.38" stroke="#2a2a2a" stroke-width="0.8" />
<text x="232.40" y="664.08" font-size="7.6" text-anchor="end" font-weight="bold" fill="#111" >40</text>
<line x1="276.08" y1="685.90" x2="276.08" y2="688.10" stroke="#2a2a2a" stroke-width="0.8" />
<text x="276.08" y="696.30" font-size="8.2" text-anchor="middle" font-weight="bold" fill="#111" >4</text>
<line x1="278.73" y1="685.90" x2="278.73" y2="687.20" stroke="#2a2a2a" stroke-width="0.6" />
<line x1="281.39" y1="685.90" x2="281.39" y2="687.20" stroke="#2a2a2a" stroke-width="0.6" />
<line x1="284.04" y1="685.90" x2="284.04" y2="687.20" stroke="#2a2a2a" stroke-width="0.6" />
<line x1="231.40" y1="655.25" x2="233.60" y2="655.25" stroke="#2a2a2a" stroke-width="0.8" />
<text x="232.40" y="657.95" font-size="7.6" text-anchor="end" font-weight="bold" fill="#111" >50</text>
<line x1="286.70" y1="685.90" x2="286.70" y2="688.10" stroke="#2a2a2a" stroke-width="0.8" />
<text x="286.70" y="696.30" font-size="8.2" text-anchor="middle" font-weight="bold" fill="#111" >5</text>
<line x1="289.35" y1="685.90" x2="289.35" y2="687.20" stroke="#2a2a2a" stroke-width="0.6" />
<line x1="292.01" y1="685.90" x2="292.01" y2="687.20" stroke="#2a2a2a" stroke-width="0.6" />
<line x1="294.66" y1="685.90" x2="294.66" y2="687.20" stroke="#2a2a2a" stroke-width="0.6" />
<line x1="231.40" y1="649.12" x2="233.60" y2="649.12" stroke="#2a2a2a" stroke-width="0.8" />
<text x="232.40" y="651.82" font-size="7.6" text-anchor="end" font-weight="bold" fill="#111" >60</text>
<line x1="297.32" y1="685.90" x2="297.32" y2="688.10" stroke="#2a2a2a" stroke-width="0.8" />
<text x="297.32" y="696.30" font-size="8.2" text-anchor="middle" font-weight="bold" fill="#111" >6</text>
<line x1="299.97" y1="685.90" x2="299.97" y2="687.20" stroke="#2a2a2a" stroke-width="0.6" />
<line x1="302.63" y1="685.90" x2="302.63" y2="687.20" stroke="#2a2a2a" stroke-width="0.6" />
<line x1="305.28" y1="685.90" x2="305.28" y2="687.20" stroke="#2a2a2a" stroke-width="0.6" />
<line x1="231.40" y1="642.99" x2="233.60" y2="642.99" stroke="#2a2a2a" stroke-width="0.8" />
<text x="232.40" y="645.69" font-size="7.6" text-anchor="end" font-weight="bold" fill="#111" >70</text>
<line x1="307.94" y1="685.90" x2="307.94" y2="688.10" stroke="#2a2a2a" stroke-width="0.8" />
<text x="307.94" y="696.30" font-size="8.2" text-anchor="middle" font-weight="bold" fill="#111" >7</text>
<line x1="310.59" y1="685.90" x2="310.59" y2="687.20" stroke="#2a2a2a" stroke-width="0.6" />
<line x1="313.25" y1="685.90" x2="313.25" y2="687.20" stroke="#2a2a2a" stroke-width="0.6" />
<line x1="315.90" y1="685.90" x2="315.90" y2="687.20" stroke="#2a2a2a" stroke-width="0.6" />
<line x1="231.40" y1="636.86" x2="233.60" y2="636.86" stroke="#2a2a2a" stroke-width="0.8" />
<text x="232.40" y="639.56" font-size="7.6" text-anchor="end" font-weight="bold" fill="#111" >80</text>
<line x1="318.56" y1="685.90" x2="318.56" y2="688.10" stroke="#2a2a2a" stroke-width="0.8" />
<text x="318.56" y="696.30" font-size="8.2" text-anchor="middle" font-weight="bold" fill="#111" >8</text>
<line x1="321.21" y1="685.90" x2="321.21" y2="687.20" stroke="#2a2a2a" stroke-width="0.6" />
<line x1="323.87" y1="685.90" x2="323.87" y2="687.20" stroke="#2a2a2a" stroke-width="0.6" />
<line x1="326.52" y1="685.90" x2="326.52" y2="687.20" stroke="#2a2a2a" stroke-width="0.6" />
<line x1="231.40" y1="630.73" x2="233.60" y2="630.73" stroke="#2a2a2a" stroke-width="0.8" />
<text x="232.40" y="633.43" font-size="7.6" text-anchor="end" font-weight="bold" fill="#111" >90</text>
<line x1="329.18" y1="685.90" x2="329.18" y2="688.10" stroke="#2a2a2a" stroke-width="0.8" />
<text x="329.18" y="696.30" font-size="8.2" text-anchor="middle" font-weight="bold" fill="#111" >9</text>
<line x1="331.83" y1="685.90" x2="331.83" y2="687.20" stroke="#2a2a2a" stroke-width="0.6" />
<line x1="334.49" y1="685.90" x2="334.49" y2="687.20" stroke="#2a2a2a" stroke-width="0.6" />
<line x1="337.14" y1="685.90" x2="337.14" y2="687.20" stroke="#2a2a2a" stroke-width="0.6" />
<line x1="231.40" y1="624.60" x2="233.60" y2="624.60" stroke="#2a2a2a" stroke-width="0.8" />
<text x="232.40" y="627.30" font-size="7.6" text-anchor="end" font-weight="bold" fill="#111" >100</text>
<line x1="339.80" y1="685.90" x2="339.80" y2="688.10" stroke="#2a2a2a" stroke-width="0.8" />
<text x="339.80" y="696.30" font-size="8.2" text-anchor="middle" font-weight="bold" fill="#111" >10</text>
<text x="287.80" y="707.50" font-size="9.0" text-anchor="middle" font-weight="normal" fill="#111"  textLength="80" lengthAdjust="spacingAndGlyphs">DNA CONTENT INDEX</text>
<text x="213.60" y="656.00" font-size="8.6" text-anchor="middle" font-weight="normal" fill="#111" transform="rotate(-90 213.60 656.00)" >Count</text>
<text x="286.50" y="621.80" font-size="9.1" text-anchor="middle" font-weight="normal" fill="#111" >Treated</text>
<g stroke="#6878b8" stroke-width="1.5"><line x1="269.0" y1="650.1" x2="285.3" y2="650.1"/><line x1="269.0" y1="642.9" x2="269.0" y2="653"/><line x1="285.3" y1="646.5" x2="285.3" y2="653"/></g>
<g stroke="#905068" stroke-width="1.5"><line x1="285.3" y1="655.6" x2="291.8" y2="655.6"/><line x1="285.3" y1="646.5" x2="285.3" y2="658.8"/><line x1="291.8" y1="652.3" x2="291.8" y2="664.8"/></g>
<g stroke="#8a8a58" stroke-width="1.5"><line x1="291.8" y1="662.0" x2="332.2" y2="662.0"/><line x1="291.8" y1="652.3" x2="291.8" y2="664.8"/><line x1="332.2" y1="658.5" x2="332.2" y2="671"/></g>
<text x="338.20" y="634.20" font-size="5.8" text-anchor="end" font-weight="bold" fill="#111" >G<tspan font-size="4.2" dy="1.5">0</tspan><tspan dy="-1.5">–G</tspan><tspan font-size="4.2" dy="1.5">1</tspan><tspan dy="-1.5"> 19.3</tspan></text>
<text x="338.20" y="640.20" font-size="5.8" text-anchor="end" font-weight="bold" fill="#111" >S 1.2</text>
<text x="338.20" y="646.20" font-size="5.8" text-anchor="end" font-weight="bold" fill="#111" >G<tspan font-size="4.2" dy="1.5">2</tspan><tspan dy="-1.5">–M 79.5</tspan></text>
<line x1="378.20" y1="628.20" x2="378.20" y2="688.00" stroke="#2a2a2a" stroke-width="1.1" />
<line x1="377.70" y1="687.50" x2="458.00" y2="687.50" stroke="#2a2a2a" stroke-width="1.1" />
<line x1="373.60" y1="687.50" x2="378.20" y2="687.50" stroke="#2a2a2a" stroke-width="1.1" />
<text x="373.20" y="690.50" font-size="8.1" text-anchor="end" font-weight="bold" fill="#111" >0</text>
<line x1="373.60" y1="675.72" x2="378.20" y2="675.72" stroke="#2a2a2a" stroke-width="1.1" />
<text x="373.20" y="678.72" font-size="8.1" text-anchor="end" font-weight="bold" fill="#111" >20</text>
<line x1="373.60" y1="663.94" x2="378.20" y2="663.94" stroke="#2a2a2a" stroke-width="1.1" />
<text x="373.20" y="666.94" font-size="8.1" text-anchor="end" font-weight="bold" fill="#111" >40</text>
<line x1="373.60" y1="652.16" x2="378.20" y2="652.16" stroke="#2a2a2a" stroke-width="1.1" />
<text x="373.20" y="655.16" font-size="8.1" text-anchor="end" font-weight="bold" fill="#111" >60</text>
<line x1="373.60" y1="640.38" x2="378.20" y2="640.38" stroke="#2a2a2a" stroke-width="1.1" />
<text x="373.20" y="643.38" font-size="8.1" text-anchor="end" font-weight="bold" fill="#111" >80</text>
<line x1="373.60" y1="628.60" x2="378.20" y2="628.60" stroke="#2a2a2a" stroke-width="1.1" />
<text x="373.20" y="631.60" font-size="8.1" text-anchor="end" font-weight="bold" fill="#111" >100</text>
<rect x="384.40" y="655.69" width="26.20" height="31.81" fill="#ececec" stroke="#222" stroke-width="0.9" />
<rect x="384.40" y="648.63" width="26.20" height="7.07" fill="#3a3a3a" stroke="#222" stroke-width="0.9" />
<rect x="384.40" y="633.31" width="26.20" height="15.31" fill="#9a9a9a" stroke="#222" stroke-width="0.9" />
<line x1="397.50" y1="687.50" x2="397.50" y2="690.10" stroke="#2a2a2a" stroke-width="1.0" />
<rect x="423.60" y="678.08" width="26.20" height="9.42" fill="#ececec" stroke="#222" stroke-width="0.9" />
<rect x="423.60" y="675.72" width="26.20" height="2.36" fill="#3a3a3a" stroke="#222" stroke-width="0.9" />
<rect x="423.60" y="634.49" width="26.20" height="41.23" fill="#9a9a9a" stroke="#222" stroke-width="0.9" />
<line x1="436.70" y1="687.50" x2="436.70" y2="690.10" stroke="#2a2a2a" stroke-width="1.0" />
<text x="399.50" y="698.50" font-size="9.2" text-anchor="end" font-weight="bold" fill="#111" transform="rotate(-45 399.50 698.50)" >Control</text>
<text x="438.70" y="698.50" font-size="9.2" text-anchor="end" font-weight="bold" fill="#111" transform="rotate(-45 438.70 698.50)" >Treated</text>
<rect x="458.70" y="656.80" width="16.40" height="4.60" fill="#9a9a9a" stroke="#222" stroke-width="0.8" />
<text x="480.80" y="662.80" font-size="9.6" text-anchor="start" font-weight="bold" fill="#111" >G<tspan font-size="6.5" dy="2">2</tspan><tspan dy="-2">–M</tspan></text>
<rect x="458.70" y="666.30" width="16.40" height="4.60" fill="#3a3a3a" stroke="#222" stroke-width="0.8" />
<text x="480.80" y="672.30" font-size="9.6" text-anchor="start" font-weight="bold" fill="#111" >S</text>
<rect x="458.70" y="674.80" width="16.40" height="4.60" fill="#ececec" stroke="#222" stroke-width="0.8" />
<text x="480.80" y="680.80" font-size="9.6" text-anchor="start" font-weight="bold" fill="#111" >G<tspan font-size="6.5" dy="2">0</tspan><tspan dy="-2">–G</tspan><tspan font-size="6.5" dy="2">1</tspan></text>
</svg></body></html>
